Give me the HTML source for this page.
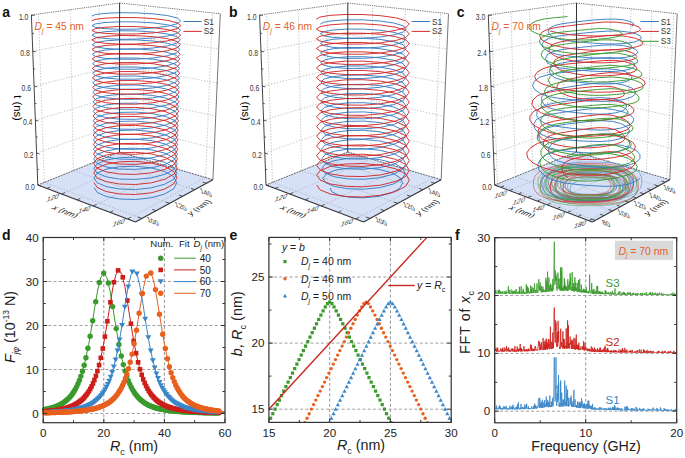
<!DOCTYPE html>
<html><head><meta charset="utf-8"><style>html,body{margin:0;padding:0;background:#fff;width:685px;height:458px;overflow:hidden}svg{display:block}text{font-family:"Liberation Sans",sans-serif}</style></head><body><svg width="685" height="458" viewBox="0 0 685 458" font-family='"Liberation Sans", sans-serif'>
<rect width="685" height="458" fill="#fff"/>
<polygon points="119.5,152.0 212.9,179.7 135.4,221.9 37.8,185.0" fill="#d6e1f7"/>
<path d="M142.7 158.9 L61.7 194.0" stroke="#999" stroke-width="0.65" stroke-dasharray="1.2,1.8" fill="none"/>
<path d="M173.0 167.9 L93.3 205.9" stroke="#999" stroke-width="0.65" stroke-dasharray="1.2,1.8" fill="none"/>
<path d="M205.6 177.5 L127.7 218.9" stroke="#999" stroke-width="0.65" stroke-dasharray="1.2,1.8" fill="none"/>
<path d="M44.3 182.4 L141.7 218.4" stroke="#999" stroke-width="0.65" stroke-dasharray="1.2,1.8" fill="none"/>
<path d="M73.4 170.6 L169.5 203.3" stroke="#999" stroke-width="0.65" stroke-dasharray="1.2,1.8" fill="none"/>
<path d="M100.1 159.8 L194.7 189.6" stroke="#999" stroke-width="0.65" stroke-dasharray="1.2,1.8" fill="none"/>
<path d="M44.3 182.4 L38.5 14.1" stroke="#999" stroke-width="0.65" stroke-dasharray="1.2,1.8" fill="none"/>
<path d="M73.4 170.6 L70.1 9.8" stroke="#999" stroke-width="0.65" stroke-dasharray="1.2,1.8" fill="none"/>
<path d="M100.1 159.8 L98.9 5.9" stroke="#999" stroke-width="0.65" stroke-dasharray="1.2,1.8" fill="none"/>
<path d="M142.7 158.9 L144.5 5.7" stroke="#999" stroke-width="0.65" stroke-dasharray="1.2,1.8" fill="none"/>
<path d="M173.0 167.9 L177.1 9.1" stroke="#999" stroke-width="0.65" stroke-dasharray="1.2,1.8" fill="none"/>
<path d="M205.6 177.5 L212.5 12.9" stroke="#999" stroke-width="0.65" stroke-dasharray="1.2,1.8" fill="none"/>
<path d="M36.6 153.0 L119.5 123.8 L214.3 148.4" stroke="#999" stroke-width="0.65" stroke-dasharray="1.2,1.8" fill="none"/>
<path d="M35.4 120.1 L119.5 94.8 L215.7 116.3" stroke="#999" stroke-width="0.65" stroke-dasharray="1.2,1.8" fill="none"/>
<path d="M34.1 86.2 L119.6 65.0 L217.2 83.1" stroke="#999" stroke-width="0.65" stroke-dasharray="1.2,1.8" fill="none"/>
<path d="M32.8 51.2 L119.6 34.5 L218.8 49.0" stroke="#999" stroke-width="0.65" stroke-dasharray="1.2,1.8" fill="none"/>
<path d="M31.4 15.0 L119.6 3.0" stroke="#666" stroke-width="0.85" fill="none" stroke-dasharray="1.3,0.9"/>
<path d="M119.6 3.0 L220.3 13.7" stroke="#666" stroke-width="0.85" fill="none" stroke-dasharray="1.3,0.9"/>
<path d="M31.4 15.0 L37.8 185.0" stroke="#444" stroke-width="1.0" fill="none"/>
<path d="M220.3 13.7 L212.9 179.7" stroke="#666" stroke-width="0.9" fill="none"/>
<path d="M119.5 152.0 L37.8 185.0" stroke="#555" stroke-width="0.9" fill="none" stroke-dasharray="2,0.8"/>
<path d="M119.5 152.0 L212.9 179.7" stroke="#555" stroke-width="0.9" fill="none" stroke-dasharray="2,0.8"/>
<path d="M37.8 185.0 L135.4 221.9" stroke="#333" stroke-width="1.1" fill="none"/>
<path d="M135.4 221.9 L212.9 179.7" stroke="#333" stroke-width="1.1" fill="none"/>
<path d="M37.8 185.0 L40.8 186.1 M37.2 169.1 L38.9 169.7 M36.6 153.0 L39.6 154.0 M36.0 136.7 L37.7 137.2 M35.4 120.1 L38.4 121.0 M34.7 103.3 L36.5 103.7 M34.1 86.2 L37.2 86.9 M33.4 68.8 L35.2 69.2 M32.8 51.2 L35.9 51.8 M32.1 33.2 L33.9 33.5 M31.4 15.0 L34.6 15.5 M46.9 188.4 L50.2 187.1 M61.7 194.0 L65.0 192.6 M77.2 199.8 L80.4 198.4 M93.3 205.9 L96.5 204.4 M110.1 212.3 L113.3 210.7 M127.7 218.9 L130.9 217.3 M206.3 183.2 L202.7 182.1 M194.7 189.6 L191.0 188.4 M182.4 196.2 L178.7 195.0 M169.5 203.3 L165.7 202.0 M156.0 210.6 L152.2 209.3 M141.7 218.4 L137.8 217.0" stroke="#333" stroke-width="0.8"/>
<text x="34.8" y="189.6" font-size="8.6" text-anchor="end" fill="#333" font-weight="normal" font-style="normal" textLength="9.5" lengthAdjust="spacingAndGlyphs">0.0</text>
<text x="33.6" y="157.6" font-size="8.6" text-anchor="end" fill="#333" font-weight="normal" font-style="normal" textLength="9.5" lengthAdjust="spacingAndGlyphs">0.2</text>
<text x="32.4" y="124.7" font-size="8.6" text-anchor="end" fill="#333" font-weight="normal" font-style="normal" textLength="9.5" lengthAdjust="spacingAndGlyphs">0.4</text>
<text x="31.1" y="90.8" font-size="8.6" text-anchor="end" fill="#333" font-weight="normal" font-style="normal" textLength="9.5" lengthAdjust="spacingAndGlyphs">0.6</text>
<text x="29.8" y="55.8" font-size="8.6" text-anchor="end" fill="#333" font-weight="normal" font-style="normal" textLength="9.5" lengthAdjust="spacingAndGlyphs">0.8</text>
<text x="28.4" y="19.6" font-size="8.6" text-anchor="end" fill="#333" font-weight="normal" font-style="normal" textLength="9.5" lengthAdjust="spacingAndGlyphs">1.0</text>
<text x="17.6" y="108.0" font-size="11.2" fill="#000" text-anchor="middle" transform="rotate(90 17.6 108.0)" dy="3.8">t (ns)</text>
<text x="0" y="0" font-size="7.6" fill="#333" text-anchor="middle" transform="translate(52.8 197.6) rotate(-17) skewX(-40) scale(1 0.8)" dy="2.7">120</text>
<text x="0" y="0" font-size="7.6" fill="#333" text-anchor="middle" transform="translate(84.4 209.5) rotate(-17) skewX(-40) scale(1 0.8)" dy="2.7">140</text>
<text x="0" y="0" font-size="7.6" fill="#333" text-anchor="middle" transform="translate(118.8 222.5) rotate(-17) skewX(-40) scale(1 0.8)" dy="2.7">160</text>
<text x="0" y="0" font-size="7.6" fill="#333" text-anchor="middle" transform="translate(152.7 221.3) rotate(22) skewX(40) scale(1 0.8)" dy="2.7">100</text>
<text x="0" y="0" font-size="7.6" fill="#333" text-anchor="middle" transform="translate(180.5 206.2) rotate(22) skewX(40) scale(1 0.8)" dy="2.7">120</text>
<text x="0" y="0" font-size="7.6" fill="#333" text-anchor="middle" transform="translate(205.7 192.5) rotate(22) skewX(40) scale(1 0.8)" dy="2.7">140</text>
<text x="0" y="0" font-size="9" fill="#222" text-anchor="middle" transform="translate(65.3 211.7) rotate(22) skewX(-30) scale(1 0.8)" dy="3"><tspan font-style="italic">x</tspan> (nm)</text>
<text x="0" y="0" font-size="9" fill="#222" text-anchor="middle" transform="translate(199.0 207.5) rotate(-33) skewX(30) scale(1 0.8)" dy="3"><tspan font-style="italic">y</tspan> (nm)</text>
<path d="M94.1 187.5 L97.2 192.4 L106.2 196.5 L119.6 199.0 L135.4 199.5 L151.2 197.8 L164.7 194.0 L173.7 188.8 L176.8 182.7 L173.7 176.7 L164.7 171.5 L151.3 167.9 L135.4 166.2 L119.6 166.7 L106.1 169.2 L97.1 173.2 L94.0 178.0 L97.1 182.7 L106.1 186.6 L119.6 189.0 L135.5 189.5 L151.4 187.8 L164.8 184.2 L173.9 179.1 L177.0 173.2 L173.9 167.4 L164.9 162.3 L151.4 158.8 L135.5 157.2 L119.6 157.7 L106.1 160.1 L97.0 163.9 L93.9 168.5 L97.0 173.0 L106.0 176.8 L119.6 179.1 L135.5 179.4 L151.5 177.8 L165.0 174.3 L174.1 169.4 L177.3 163.7 L174.1 158.0 L165.1 153.2 L151.5 149.8 L135.5 148.2 L119.6 148.6 L106.0 150.9 L96.9 154.5 L93.7 158.9 L96.9 163.3 L106.0 166.9 L119.5 169.1 L135.6 169.4 L151.6 167.8 L165.2 164.4 L174.3 159.7 L177.5 154.2 L174.3 148.7 L165.3 144.0 L151.7 140.7 L135.6 139.2 L119.5 139.6 L105.9 141.7 L96.8 145.2 L93.6 149.4 L96.8 153.6 L105.9 157.0 L119.5 159.1 L135.6 159.4 L151.7 157.8 L165.4 154.5 L174.5 149.9 L177.7 144.7 L174.5 139.4 L165.4 134.8 L151.8 131.6 L135.7 130.1 L119.5 130.5 L105.8 132.5 L96.7 135.9 L93.5 139.9 L96.7 143.9 L105.8 147.1 L119.5 149.1 L135.7 149.4 L151.8 147.9 L165.6 144.7 L174.7 140.2 L178.0 135.1 L174.8 130.0 L165.6 125.7 L151.9 122.6 L135.7 121.1 L119.5 121.4 L105.8 123.4 L96.6 126.5 L93.3 130.4 L96.6 134.2 L105.7 137.3 L119.5 139.1 L135.7 139.4 L152.0 137.9 L165.7 134.8 L175.0 130.5 L178.2 125.6 L175.0 120.7 L165.8 116.5 L152.0 113.5 L135.8 112.1 L119.5 112.4 L105.7 114.2 L96.5 117.2 L93.2 120.8 L96.5 124.4 L105.7 127.4 L119.5 129.1 L135.8 129.3 L152.1 127.9 L165.9 124.9 L175.2 120.8 L178.4 116.1 L175.2 111.4 L166.0 107.3 L152.1 104.5 L135.8 103.1 L119.5 103.3 L105.6 105.0 L96.4 107.9 L93.1 111.3 L96.3 114.7 L105.6 117.5 L119.5 119.2 L135.8 119.3 L152.2 117.9 L166.1 115.0 L175.4 111.1 L178.7 106.6 L175.4 102.1 L166.1 98.2 L152.3 95.4 L135.9 94.1 L119.5 94.3 L105.5 95.9 L96.2 98.6 L93.0 101.8 L96.2 105.0 L105.5 107.6 L119.5 109.2 L135.9 109.3 L152.3 107.9 L166.3 105.2 L175.6 101.4 L178.9 97.0 L175.6 92.7 L166.3 89.0 L152.4 86.3 L135.9 85.0 L119.4 85.2 L105.5 86.7 L96.1 89.2 L92.8 92.3 L96.1 95.3 L105.5 97.8 L119.4 99.2 L135.9 99.3 L152.5 97.9 L166.5 95.3 L175.8 91.7 L179.1 87.5 L175.8 83.4 L166.5 79.8 L152.5 77.3 L136.0 76.0 L119.4 76.1 L105.4 77.5 L96.0 79.9 L92.7 82.8 L96.0 85.6 L105.4 87.9 L119.4 89.2 L136.0 89.2 L152.6 88.0 L166.6 85.4 L176.0 82.0 L179.4 78.0 L176.1 74.1 L166.7 70.7 L152.6 68.2 L136.0 67.0 L119.4 67.1 L105.3 68.4 L95.9 70.6 L92.6 73.2 L95.9 75.9 L105.3 78.0 L119.4 79.2 L136.0 79.2 L152.7 78.0 L166.8 75.5 L176.3 72.2 L179.6 68.5 L176.3 64.7 L166.9 61.5 L152.7 59.2 L136.1 58.0 L119.4 58.0 L105.3 59.2 L95.8 61.2 L92.5 63.7 L95.8 66.2 L105.2 68.1 L119.4 69.2 L136.1 69.2 L152.8 68.0 L167.0 65.7 L176.5 62.5 L179.8 59.0 L176.5 55.4 L167.0 52.3 L152.9 50.1 L136.1 48.9 L119.4 49.0 L105.2 50.0 L95.7 51.9 L92.3 54.2 L95.7 56.5 L105.2 58.3 L119.4 59.2 L136.2 59.2 L152.9 58.0 L167.2 55.8 L176.7 52.8 L180.0 49.4 L176.7 46.1 L167.2 43.2 L153.0 41.0 L136.2 39.9 L119.4 39.9 L105.1 40.9 L95.6 42.6 L92.2 44.7 L95.6 46.7 L105.1 48.4 L119.4 49.3 L136.2 49.2 L153.1 48.0 L167.3 45.9 L176.9 43.1 L180.3 39.9 L176.9 36.7 L167.4 34.0 L153.1 32.0 L136.2 30.9 L119.4 30.8 L105.0 31.7 L95.5 33.2 L92.1 35.1 L95.5 37.0 L105.0 38.5 L119.3 39.3 L136.3 39.1 L153.2 38.0 L167.5 36.0 L177.1 33.4 L180.5 30.4 L177.2 27.4 L167.6 24.8 L153.2 22.9 L136.3 21.9 L119.3 21.8 L105.0 22.5 L95.4 23.9 L92.0 25.6 L95.3 27.3 L104.9 28.6 L119.3 29.3 L136.3 29.1 L153.3 28.0 L167.7 26.2 L177.3 23.7 L180.7 20.9 L177.4 18.1 L167.7 15.6 L153.3 13.9 L136.3 12.9 L119.3 12.7 L104.9 13.4 L95.2 14.6 L91.8 16.1" stroke="#3a7cc2" stroke-width="0.95" fill="none" stroke-linejoin="round"/>
<path d="M93.9 182.5 L97.1 187.4 L106.0 191.5 L119.5 194.0 L135.4 194.5 L151.3 192.8 L164.8 189.0 L173.8 183.8 L177.0 177.7 L173.9 171.7 L164.9 166.5 L151.4 162.9 L135.4 161.3 L119.5 161.8 L106.0 164.3 L96.9 168.2 L93.8 173.0 L96.9 177.7 L106.0 181.6 L119.5 184.0 L135.5 184.5 L151.4 182.8 L165.0 179.2 L174.1 174.1 L177.3 168.2 L174.1 162.4 L165.1 157.4 L151.5 153.9 L135.5 152.3 L119.5 152.8 L105.9 155.1 L96.8 158.9 L93.6 163.5 L96.8 168.0 L105.9 171.8 L119.5 174.0 L135.5 174.4 L151.6 172.8 L165.2 169.3 L174.3 164.4 L177.5 158.7 L174.3 153.1 L165.2 148.3 L151.6 144.9 L135.6 143.3 L119.5 143.7 L105.8 146.0 L96.7 149.6 L93.5 154.0 L96.7 158.3 L105.8 161.9 L119.5 164.0 L135.6 164.4 L151.7 162.8 L165.4 159.4 L174.5 154.7 L177.8 149.2 L174.6 143.8 L165.4 139.1 L151.8 135.9 L135.6 134.3 L119.5 134.7 L105.8 136.9 L96.6 140.3 L93.4 144.5 L96.6 148.6 L105.7 152.0 L119.5 154.0 L135.6 154.3 L151.8 152.8 L165.6 149.5 L174.8 145.0 L178.0 139.7 L174.8 134.5 L165.6 130.0 L151.9 126.8 L135.7 125.4 L119.4 125.7 L105.7 127.7 L96.5 131.0 L93.2 135.0 L96.5 138.9 L105.7 142.1 L119.4 144.0 L135.7 144.3 L152.0 142.8 L165.8 139.6 L175.0 135.3 L178.2 130.2 L175.0 125.2 L165.8 120.9 L152.0 117.8 L135.7 116.4 L119.4 116.7 L105.6 118.6 L96.4 121.7 L93.1 125.5 L96.3 129.2 L105.6 132.2 L119.4 134.1 L135.7 134.3 L152.1 132.8 L165.9 129.8 L175.2 125.6 L178.5 120.7 L175.2 115.9 L166.0 111.8 L152.1 108.8 L135.8 107.4 L119.4 107.7 L105.5 109.5 L96.2 112.4 L93.0 116.0 L96.2 119.5 L105.5 122.4 L119.4 124.1 L135.8 124.2 L152.2 122.8 L166.1 119.9 L175.5 115.8 L178.7 111.2 L175.5 106.6 L166.2 102.6 L152.3 99.8 L135.8 98.4 L119.4 98.7 L105.4 100.3 L96.1 103.1 L92.8 106.5 L96.1 109.8 L105.4 112.5 L119.4 114.1 L135.9 114.2 L152.3 112.8 L166.3 110.0 L175.7 106.1 L179.0 101.7 L175.7 97.3 L166.4 93.5 L152.4 90.8 L135.9 89.5 L119.4 89.6 L105.4 91.2 L96.0 93.8 L92.7 96.9 L96.0 100.1 L105.4 102.6 L119.4 104.1 L135.9 104.2 L152.5 102.8 L166.5 100.1 L175.9 96.4 L179.2 92.2 L175.9 88.0 L166.6 84.4 L152.5 81.8 L135.9 80.5 L119.4 80.6 L105.3 82.1 L95.9 84.5 L92.6 87.4 L95.9 90.4 L105.3 92.7 L119.4 94.1 L136.0 94.1 L152.6 92.8 L166.7 90.2 L176.1 86.7 L179.5 82.7 L176.2 78.7 L166.8 75.2 L152.6 72.7 L136.0 71.5 L119.3 71.6 L105.2 72.9 L95.8 75.2 L92.4 77.9 L95.8 80.6 L105.2 82.8 L119.3 84.1 L136.0 84.1 L152.7 82.8 L166.9 80.4 L176.4 77.0 L179.7 73.2 L176.4 69.4 L166.9 66.1 L152.8 63.7 L136.1 62.5 L119.3 62.6 L105.1 63.8 L95.7 65.9 L92.3 68.4 L95.6 70.9 L105.1 73.0 L119.3 74.1 L136.1 74.1 L152.9 72.8 L167.1 70.5 L176.6 67.3 L180.0 63.7 L176.6 60.1 L167.1 57.0 L152.9 54.7 L136.1 53.6 L119.3 53.6 L105.1 54.7 L95.5 56.6 L92.2 58.9 L95.5 61.2 L105.0 63.1 L119.3 64.1 L136.1 64.0 L153.0 62.8 L167.3 60.6 L176.8 57.6 L180.2 54.2 L176.9 50.8 L167.3 47.8 L153.0 45.7 L136.2 44.6 L119.3 44.6 L105.0 45.5 L95.4 47.3 L92.0 49.4 L95.4 51.5 L105.0 53.2 L119.3 54.1 L136.2 54.0 L153.1 52.8 L167.5 50.7 L177.1 47.9 L180.4 44.7 L177.1 41.5 L167.5 38.7 L153.2 36.7 L136.2 35.6 L119.3 35.5 L104.9 36.4 L95.3 38.0 L91.9 39.9 L95.3 41.8 L104.9 43.3 L119.3 44.1 L136.3 44.0 L153.2 42.8 L167.7 40.8 L177.3 38.2 L180.7 35.2 L177.3 32.2 L167.7 29.6 L153.3 27.7 L136.3 26.6 L119.3 26.5 L104.8 27.3 L95.2 28.7 L91.8 30.4 L95.2 32.1 L104.8 33.4 L119.3 34.1 L136.3 33.9 L153.4 32.9 L167.8 31.0 L177.5 28.5 L180.9 25.7 L177.5 22.9 L167.9 20.4 L153.4 18.6 L136.3 17.6 L119.2 17.5 L104.8 18.2 L95.1 19.4 L91.6 20.9" stroke="#d22a2a" stroke-width="0.95" fill="none" stroke-linejoin="round"/>
<path d="M119.6 3.0 L119.5 152.0" stroke="#333" stroke-width="1.0" fill="none"/>
<path d="M183.5 21.5 L201.9 21.5" stroke="#3a7cc2" stroke-width="1"/>
<text x="203.8" y="24.5" font-size="8.3" text-anchor="start" fill="#333" font-weight="normal" font-style="normal" >S1</text>
<path d="M183.5 31.4 L201.9 31.4" stroke="#d22a2a" stroke-width="1"/>
<text x="203.8" y="34.4" font-size="8.3" text-anchor="start" fill="#333" font-weight="normal" font-style="normal" >S2</text>
<text x="34.6" y="29.9" font-size="10.3" fill="#e4602a"><tspan font-style="italic">D</tspan><tspan font-size="7" font-style="italic" dy="3">j</tspan><tspan dy="-3"> = 45 nm</tspan></text>
<text x="2.3" y="17.4" font-size="14" text-anchor="start" fill="#111" font-weight="bold" font-style="normal" >a</text>
<polygon points="347.7,152.0 441.1,179.7 363.6,221.9 266.0,185.0" fill="#d6e1f7"/>
<path d="M370.9 158.9 L289.9 194.0" stroke="#999" stroke-width="0.65" stroke-dasharray="1.2,1.8" fill="none"/>
<path d="M401.2 167.9 L321.5 205.9" stroke="#999" stroke-width="0.65" stroke-dasharray="1.2,1.8" fill="none"/>
<path d="M433.8 177.5 L355.9 218.9" stroke="#999" stroke-width="0.65" stroke-dasharray="1.2,1.8" fill="none"/>
<path d="M272.5 182.4 L369.9 218.4" stroke="#999" stroke-width="0.65" stroke-dasharray="1.2,1.8" fill="none"/>
<path d="M301.6 170.6 L397.7 203.3" stroke="#999" stroke-width="0.65" stroke-dasharray="1.2,1.8" fill="none"/>
<path d="M328.3 159.8 L422.9 189.6" stroke="#999" stroke-width="0.65" stroke-dasharray="1.2,1.8" fill="none"/>
<path d="M272.5 182.4 L266.7 14.1" stroke="#999" stroke-width="0.65" stroke-dasharray="1.2,1.8" fill="none"/>
<path d="M301.6 170.6 L298.3 9.8" stroke="#999" stroke-width="0.65" stroke-dasharray="1.2,1.8" fill="none"/>
<path d="M328.3 159.8 L327.1 5.9" stroke="#999" stroke-width="0.65" stroke-dasharray="1.2,1.8" fill="none"/>
<path d="M370.9 158.9 L372.7 5.7" stroke="#999" stroke-width="0.65" stroke-dasharray="1.2,1.8" fill="none"/>
<path d="M401.2 167.9 L405.3 9.1" stroke="#999" stroke-width="0.65" stroke-dasharray="1.2,1.8" fill="none"/>
<path d="M433.8 177.5 L440.7 12.9" stroke="#999" stroke-width="0.65" stroke-dasharray="1.2,1.8" fill="none"/>
<path d="M264.8 153.0 L347.7 123.8 L442.5 148.4" stroke="#999" stroke-width="0.65" stroke-dasharray="1.2,1.8" fill="none"/>
<path d="M263.6 120.1 L347.7 94.8 L443.9 116.3" stroke="#999" stroke-width="0.65" stroke-dasharray="1.2,1.8" fill="none"/>
<path d="M262.3 86.2 L347.8 65.0 L445.4 83.1" stroke="#999" stroke-width="0.65" stroke-dasharray="1.2,1.8" fill="none"/>
<path d="M261.0 51.2 L347.8 34.5 L447.0 49.0" stroke="#999" stroke-width="0.65" stroke-dasharray="1.2,1.8" fill="none"/>
<path d="M259.6 15.0 L347.8 3.0" stroke="#666" stroke-width="0.85" fill="none" stroke-dasharray="1.3,0.9"/>
<path d="M347.8 3.0 L448.5 13.7" stroke="#666" stroke-width="0.85" fill="none" stroke-dasharray="1.3,0.9"/>
<path d="M259.6 15.0 L266.0 185.0" stroke="#444" stroke-width="1.0" fill="none"/>
<path d="M448.5 13.7 L441.1 179.7" stroke="#666" stroke-width="0.9" fill="none"/>
<path d="M347.7 152.0 L266.0 185.0" stroke="#555" stroke-width="0.9" fill="none" stroke-dasharray="2,0.8"/>
<path d="M347.7 152.0 L441.1 179.7" stroke="#555" stroke-width="0.9" fill="none" stroke-dasharray="2,0.8"/>
<path d="M266.0 185.0 L363.6 221.9" stroke="#333" stroke-width="1.1" fill="none"/>
<path d="M363.6 221.9 L441.1 179.7" stroke="#333" stroke-width="1.1" fill="none"/>
<path d="M266.0 185.0 L269.0 186.1 M265.4 169.1 L267.1 169.7 M264.8 153.0 L267.8 154.0 M264.2 136.7 L265.9 137.2 M263.6 120.1 L266.6 121.0 M262.9 103.3 L264.7 103.7 M262.3 86.2 L265.4 86.9 M261.6 68.8 L263.4 69.2 M261.0 51.2 L264.1 51.8 M260.3 33.2 L262.1 33.5 M259.6 15.0 L262.8 15.5 M275.1 188.4 L278.4 187.1 M289.9 194.0 L293.2 192.6 M305.4 199.8 L308.6 198.4 M321.5 205.9 L324.7 204.4 M338.3 212.3 L341.5 210.7 M355.9 218.9 L359.1 217.3 M434.5 183.2 L430.9 182.1 M422.9 189.6 L419.2 188.4 M410.6 196.2 L406.9 195.0 M397.7 203.3 L393.9 202.0 M384.2 210.6 L380.4 209.3 M369.9 218.4 L366.0 217.0" stroke="#333" stroke-width="0.8"/>
<text x="263.0" y="189.6" font-size="8.6" text-anchor="end" fill="#333" font-weight="normal" font-style="normal" textLength="9.5" lengthAdjust="spacingAndGlyphs">0.0</text>
<text x="261.8" y="157.6" font-size="8.6" text-anchor="end" fill="#333" font-weight="normal" font-style="normal" textLength="9.5" lengthAdjust="spacingAndGlyphs">0.2</text>
<text x="260.6" y="124.7" font-size="8.6" text-anchor="end" fill="#333" font-weight="normal" font-style="normal" textLength="9.5" lengthAdjust="spacingAndGlyphs">0.4</text>
<text x="259.3" y="90.8" font-size="8.6" text-anchor="end" fill="#333" font-weight="normal" font-style="normal" textLength="9.5" lengthAdjust="spacingAndGlyphs">0.6</text>
<text x="258.0" y="55.8" font-size="8.6" text-anchor="end" fill="#333" font-weight="normal" font-style="normal" textLength="9.5" lengthAdjust="spacingAndGlyphs">0.8</text>
<text x="256.6" y="19.6" font-size="8.6" text-anchor="end" fill="#333" font-weight="normal" font-style="normal" textLength="9.5" lengthAdjust="spacingAndGlyphs">1.0</text>
<text x="245.8" y="108.0" font-size="11.2" fill="#000" text-anchor="middle" transform="rotate(90 245.8 108.0)" dy="3.8">t (ns)</text>
<text x="0" y="0" font-size="7.6" fill="#333" text-anchor="middle" transform="translate(281.0 197.6) rotate(-17) skewX(-40) scale(1 0.8)" dy="2.7">120</text>
<text x="0" y="0" font-size="7.6" fill="#333" text-anchor="middle" transform="translate(312.6 209.5) rotate(-17) skewX(-40) scale(1 0.8)" dy="2.7">140</text>
<text x="0" y="0" font-size="7.6" fill="#333" text-anchor="middle" transform="translate(347.0 222.5) rotate(-17) skewX(-40) scale(1 0.8)" dy="2.7">160</text>
<text x="0" y="0" font-size="7.6" fill="#333" text-anchor="middle" transform="translate(380.9 221.3) rotate(22) skewX(40) scale(1 0.8)" dy="2.7">100</text>
<text x="0" y="0" font-size="7.6" fill="#333" text-anchor="middle" transform="translate(408.7 206.2) rotate(22) skewX(40) scale(1 0.8)" dy="2.7">120</text>
<text x="0" y="0" font-size="7.6" fill="#333" text-anchor="middle" transform="translate(433.9 192.5) rotate(22) skewX(40) scale(1 0.8)" dy="2.7">140</text>
<text x="0" y="0" font-size="9" fill="#222" text-anchor="middle" transform="translate(293.5 211.7) rotate(22) skewX(-30) scale(1 0.8)" dy="3"><tspan font-style="italic">x</tspan> (nm)</text>
<text x="0" y="0" font-size="9" fill="#222" text-anchor="middle" transform="translate(427.2 207.5) rotate(-33) skewX(30) scale(1 0.8)" dy="3"><tspan font-style="italic">y</tspan> (nm)</text>
<path d="M330.2 188.0 L331.9 191.8 L338.7 195.1 L349.9 197.3 L363.8 197.8 L378.1 196.4 L390.7 193.2 L399.3 188.6 L402.7 183.2 L400.0 177.7 L391.8 172.8 L379.0 169.4 L363.8 167.7 L348.3 168.1 L335.1 170.3 L326.2 173.9 L322.9 178.4 L325.9 182.8 L334.7 186.5 L348.0 188.8 L363.8 189.2 L379.6 187.6 L393.1 184.1 L402.2 179.2 L405.4 173.5 L402.3 167.9 L393.3 163.0 L379.8 159.6 L363.8 158.0 L347.7 158.4 L334.1 160.7 L325.0 164.3 L321.8 168.7 L325.0 173.1 L334.1 176.7 L347.7 178.9 L363.7 179.3 L379.8 177.7 L393.5 174.2 L402.6 169.4 L405.8 163.9 L402.6 158.4 L393.5 153.6 L379.9 150.3 L363.7 148.7 L347.6 149.1 L333.9 151.3 L324.8 154.8 L321.6 159.1 L324.8 163.3 L333.9 166.8 L347.6 168.9 L363.7 169.2 L379.9 167.6 L393.6 164.3 L402.7 159.6 L405.9 154.3 L402.7 148.9 L393.6 144.3 L379.9 141.0 L363.7 139.5 L347.6 139.9 L333.9 142.0 L324.7 145.3 L321.5 149.4 L324.7 153.5 L333.8 156.8 L347.5 158.9 L363.7 159.1 L379.9 157.6 L393.6 154.4 L402.7 149.8 L406.0 144.6 L402.7 139.4 L393.6 135.0 L379.9 131.8 L363.7 130.3 L347.5 130.6 L333.8 132.6 L324.6 135.9 L321.4 139.8 L324.6 143.7 L333.8 146.9 L347.5 148.8 L363.7 149.1 L379.9 147.6 L393.6 144.4 L402.8 140.0 L406.0 135.0 L402.8 130.0 L393.6 125.6 L379.9 122.5 L363.7 121.1 L347.5 121.4 L333.7 123.3 L324.5 126.4 L321.3 130.2 L324.5 133.9 L333.7 136.9 L347.4 138.8 L363.7 139.0 L379.9 137.5 L393.6 134.4 L402.8 130.2 L406.0 125.3 L402.8 120.5 L393.6 116.3 L379.9 113.3 L363.6 111.9 L347.4 112.2 L333.7 114.0 L324.5 116.9 L321.2 120.5 L324.4 124.1 L333.6 127.0 L347.4 128.7 L363.6 128.9 L379.9 127.5 L393.6 124.5 L402.8 120.4 L406.1 115.7 L402.8 111.0 L393.6 107.0 L379.9 104.1 L363.6 102.7 L347.4 102.9 L333.6 104.6 L324.4 107.5 L321.1 110.9 L324.4 114.3 L333.6 117.0 L347.4 118.7 L363.6 118.8 L379.9 117.4 L393.6 114.5 L402.9 110.6 L406.1 106.1 L402.9 101.5 L393.7 97.6 L379.9 94.8 L363.6 93.5 L347.3 93.7 L333.5 95.3 L324.3 98.0 L321.1 101.2 L324.3 104.5 L333.5 107.1 L347.3 108.6 L363.6 108.7 L379.9 107.4 L393.7 104.6 L402.9 100.8 L406.1 96.4 L402.9 92.1 L393.7 88.3 L379.9 85.6 L363.6 84.3 L347.3 84.5 L333.5 86.0 L324.2 88.5 L321.0 91.6 L324.2 94.6 L333.4 97.1 L347.3 98.6 L363.6 98.7 L379.9 97.3 L393.7 94.6 L402.9 91.0 L406.2 86.8 L402.9 82.6 L393.7 79.0 L379.9 76.4 L363.5 75.1 L347.2 75.2 L333.4 76.6 L324.1 79.0 L320.9 81.9 L324.1 84.8 L333.4 87.2 L347.2 88.5 L363.5 88.6 L379.9 87.3 L393.7 84.7 L403.0 81.2 L406.2 77.1 L403.0 73.1 L393.7 69.6 L379.9 67.1 L363.5 65.9 L347.2 66.0 L333.3 67.3 L324.1 69.6 L320.8 72.3 L324.1 75.0 L333.3 77.2 L347.2 78.5 L363.5 78.5 L379.9 77.2 L393.7 74.7 L403.0 71.3 L406.2 67.5 L403.0 63.6 L393.7 60.3 L379.9 57.9 L363.5 56.7 L347.1 56.8 L333.3 58.0 L324.0 60.1 L320.7 62.7 L324.0 65.2 L333.2 67.3 L347.1 68.4 L363.5 68.4 L379.9 67.2 L393.7 64.8 L403.0 61.5 L406.3 57.8 L403.0 54.2 L393.7 51.0 L379.9 48.7 L363.5 47.5 L347.1 47.5 L333.2 48.7 L323.9 50.6 L320.6 53.0 L323.9 55.4 L333.2 57.3 L347.1 58.4 L363.5 58.3 L379.9 57.1 L393.8 54.8 L403.0 51.7 L406.3 48.2 L403.1 44.7 L393.8 41.7 L379.9 39.4 L363.5 38.3 L347.0 38.3 L333.1 39.3 L323.8 41.1 L320.6 43.4 L323.8 45.6 L333.1 47.4 L347.0 48.3 L363.4 48.2 L379.9 47.1 L393.8 44.9 L403.1 41.9 L406.3 38.6 L403.1 35.2 L393.8 32.3 L379.9 30.2 L363.4 29.1 L347.0 29.1 L333.1 30.0 L323.8 31.7 L320.5 33.7 L323.7 35.8 L333.1 37.4 L347.0 38.3 L363.4 38.2 L379.9 37.0 L393.8 34.9 L403.1 32.1 L406.4 28.9 L403.1 25.8 L393.8 23.0 L379.9 21.0 L363.4 19.9 L347.0 19.8 L333.0 20.7 L323.7 22.2 L320.4 24.1" stroke="#3a7cc2" stroke-width="0.95" fill="none" stroke-linejoin="round"/>
<path d="M316.7 185.0 L320.2 189.9 L330.3 194.0 L345.3 196.5 L363.0 197.0 L380.7 195.2 L395.7 191.5 L405.8 186.2 L409.3 180.1 L405.8 174.1 L395.7 168.8 L380.7 165.2 L363.0 163.5 L345.3 164.0 L330.2 166.5 L320.2 170.5 L316.7 175.2 L320.2 180.0 L330.2 183.9 L345.3 186.3 L363.0 186.8 L380.7 185.1 L395.7 181.4 L405.8 176.3 L409.3 170.4 L405.8 164.5 L395.7 159.4 L380.7 155.8 L363.0 154.2 L345.3 154.7 L330.2 157.0 L320.2 160.9 L316.7 165.5 L320.2 170.1 L330.2 173.9 L345.2 176.2 L363.0 176.6 L380.7 174.9 L395.7 171.3 L405.8 166.4 L409.3 160.6 L405.8 154.9 L395.7 150.0 L380.7 146.5 L363.0 144.9 L345.2 145.3 L330.2 147.6 L320.2 151.3 L316.6 155.7 L320.2 160.2 L330.2 163.8 L345.2 166.0 L363.0 166.4 L380.7 164.7 L395.7 161.3 L405.8 156.4 L409.3 150.9 L405.8 145.3 L395.7 140.5 L380.7 137.1 L363.0 135.6 L345.2 136.0 L330.2 138.2 L320.1 141.7 L316.6 146.0 L320.1 150.2 L330.2 153.7 L345.2 155.8 L363.0 156.2 L380.7 154.6 L395.7 151.2 L405.8 146.5 L409.3 141.1 L405.8 135.7 L395.7 131.1 L380.7 127.8 L362.9 126.3 L345.2 126.6 L330.2 128.7 L320.1 132.1 L316.6 136.2 L320.1 140.3 L330.2 143.7 L345.2 145.7 L362.9 146.0 L380.7 144.4 L395.7 141.2 L405.8 136.6 L409.3 131.4 L405.8 126.1 L395.7 121.6 L380.7 118.5 L362.9 117.0 L345.2 117.3 L330.1 119.3 L320.1 122.5 L316.6 126.5 L320.1 130.4 L330.1 133.6 L345.2 135.5 L362.9 135.8 L380.7 134.3 L395.7 131.1 L405.8 126.7 L409.3 121.6 L405.8 116.6 L395.7 112.2 L380.7 109.1 L362.9 107.6 L345.2 107.9 L330.1 109.8 L320.1 113.0 L316.5 116.7 L320.1 120.5 L330.1 123.5 L345.2 125.4 L362.9 125.6 L380.7 124.1 L395.7 121.0 L405.8 116.8 L409.3 111.9 L405.8 107.0 L395.7 102.8 L380.7 99.8 L362.9 98.3 L345.2 98.6 L330.1 100.4 L320.0 103.4 L316.5 107.0 L320.0 110.6 L330.1 113.5 L345.1 115.2 L362.9 115.4 L380.7 113.9 L395.7 111.0 L405.8 106.8 L409.3 102.1 L405.8 97.4 L395.7 93.3 L380.7 90.4 L362.9 89.0 L345.1 89.2 L330.1 91.0 L320.0 93.8 L316.5 97.2 L320.0 100.6 L330.1 103.4 L345.1 105.0 L362.9 105.2 L380.7 103.8 L395.7 100.9 L405.8 96.9 L409.3 92.3 L405.8 87.8 L395.7 83.9 L380.6 81.1 L362.9 79.7 L345.1 79.9 L330.1 81.5 L320.0 84.2 L316.5 87.5 L320.0 90.7 L330.1 93.3 L345.1 94.9 L362.9 95.0 L380.6 93.6 L395.7 90.8 L405.8 87.0 L409.3 82.6 L405.8 78.2 L395.7 74.4 L380.6 71.7 L362.9 70.4 L345.1 70.6 L330.0 72.1 L320.0 74.6 L316.4 77.7 L320.0 80.8 L330.0 83.3 L345.1 84.7 L362.9 84.8 L380.6 83.5 L395.7 80.8 L405.8 77.1 L409.3 72.8 L405.8 68.6 L395.7 65.0 L380.6 62.4 L362.9 61.1 L345.1 61.2 L330.0 62.6 L320.0 65.0 L316.4 68.0 L320.0 70.9 L330.0 73.2 L345.1 74.6 L362.9 74.6 L380.6 73.3 L395.7 70.7 L405.8 67.1 L409.3 63.1 L405.8 59.1 L395.7 55.6 L380.6 53.0 L362.8 51.8 L345.1 51.9 L330.0 53.2 L319.9 55.5 L316.4 58.2 L319.9 60.9 L330.0 63.2 L345.1 64.4 L362.8 64.4 L380.6 63.1 L395.7 60.6 L405.8 57.2 L409.3 53.3 L405.8 49.5 L395.7 46.1 L380.6 43.7 L362.8 42.5 L345.1 42.5 L330.0 43.8 L319.9 45.9 L316.4 48.5 L319.9 51.0 L330.0 53.1 L345.1 54.2 L362.8 54.2 L380.6 53.0 L395.7 50.6 L405.8 47.3 L409.3 43.6 L405.8 39.9 L395.7 36.7 L380.6 34.3 L362.8 33.2 L345.0 33.2 L330.0 34.3 L319.9 36.3 L316.3 38.7 L319.9 41.1 L330.0 43.0 L345.0 44.1 L362.8 44.0 L380.6 42.8 L395.7 40.5 L405.8 37.4 L409.3 33.8 L405.8 30.3 L395.7 27.2 L380.6 25.0 L362.8 23.8 L345.0 23.8 L329.9 24.9 L319.9 26.7 L316.3 29.0 L319.9 31.2 L329.9 33.0 L345.0 33.9 L362.8 33.8 L380.6 32.7 L395.7 30.4 L405.8 27.5 L409.3 24.1 L405.8 20.7 L395.7 17.8 L380.6 15.7 L362.8 14.5 L345.0 14.5 L329.9 15.4 L319.8 17.1 L316.3 19.2" stroke="#d22a2a" stroke-width="0.95" fill="none" stroke-linejoin="round"/>
<path d="M347.8 3.0 L347.7 152.0" stroke="#333" stroke-width="1.0" fill="none"/>
<path d="M411.7 21.5 L430.1 21.5" stroke="#3a7cc2" stroke-width="1"/>
<text x="432.0" y="24.5" font-size="8.3" text-anchor="start" fill="#333" font-weight="normal" font-style="normal" >S1</text>
<path d="M411.7 31.4 L430.1 31.4" stroke="#d22a2a" stroke-width="1"/>
<text x="432.0" y="34.4" font-size="8.3" text-anchor="start" fill="#333" font-weight="normal" font-style="normal" >S2</text>
<text x="262.8" y="29.9" font-size="10.3" fill="#e4602a"><tspan font-style="italic">D</tspan><tspan font-size="7" font-style="italic" dy="3">j</tspan><tspan dy="-3"> = 46 nm</tspan></text>
<text x="229.0" y="17.4" font-size="14" text-anchor="start" fill="#111" font-weight="bold" font-style="normal" >b</text>
<polygon points="576.4,152.0 669.8,179.7 592.3,221.9 494.7,185.0" fill="#d6e1f7"/>
<path d="M590.8 156.3 L509.6 190.6" stroke="#999" stroke-width="0.65" stroke-dasharray="1.2,1.8" fill="none"/>
<path d="M608.5 161.5 L527.9 197.5" stroke="#999" stroke-width="0.65" stroke-dasharray="1.2,1.8" fill="none"/>
<path d="M627.0 167.0 L547.2 204.8" stroke="#999" stroke-width="0.65" stroke-dasharray="1.2,1.8" fill="none"/>
<path d="M646.4 172.7 L567.5 212.5" stroke="#999" stroke-width="0.65" stroke-dasharray="1.2,1.8" fill="none"/>
<path d="M666.6 178.8 L589.0 220.6" stroke="#999" stroke-width="0.65" stroke-dasharray="1.2,1.8" fill="none"/>
<path d="M497.5 183.8 L595.0 220.4" stroke="#999" stroke-width="0.65" stroke-dasharray="1.2,1.8" fill="none"/>
<path d="M515.5 176.6 L612.3 210.9" stroke="#999" stroke-width="0.65" stroke-dasharray="1.2,1.8" fill="none"/>
<path d="M532.6 169.7 L628.6 202.1" stroke="#999" stroke-width="0.65" stroke-dasharray="1.2,1.8" fill="none"/>
<path d="M548.7 163.2 L643.8 193.8" stroke="#999" stroke-width="0.65" stroke-dasharray="1.2,1.8" fill="none"/>
<path d="M564.0 157.0 L658.2 186.0" stroke="#999" stroke-width="0.65" stroke-dasharray="1.2,1.8" fill="none"/>
<path d="M497.5 183.8 L491.4 14.6" stroke="#999" stroke-width="0.65" stroke-dasharray="1.2,1.8" fill="none"/>
<path d="M515.5 176.6 L511.0 11.9" stroke="#999" stroke-width="0.65" stroke-dasharray="1.2,1.8" fill="none"/>
<path d="M532.6 169.7 L529.5 9.4" stroke="#999" stroke-width="0.65" stroke-dasharray="1.2,1.8" fill="none"/>
<path d="M548.7 163.2 L546.9 7.1" stroke="#999" stroke-width="0.65" stroke-dasharray="1.2,1.8" fill="none"/>
<path d="M564.0 157.0 L563.3 4.8" stroke="#999" stroke-width="0.65" stroke-dasharray="1.2,1.8" fill="none"/>
<path d="M590.8 156.3 L592.0 4.7" stroke="#999" stroke-width="0.65" stroke-dasharray="1.2,1.8" fill="none"/>
<path d="M608.5 161.5 L611.0 6.7" stroke="#999" stroke-width="0.65" stroke-dasharray="1.2,1.8" fill="none"/>
<path d="M627.0 167.0 L630.9 8.8" stroke="#999" stroke-width="0.65" stroke-dasharray="1.2,1.8" fill="none"/>
<path d="M646.4 172.7 L651.8 11.0" stroke="#999" stroke-width="0.65" stroke-dasharray="1.2,1.8" fill="none"/>
<path d="M666.6 178.8 L673.8 13.4" stroke="#999" stroke-width="0.65" stroke-dasharray="1.2,1.8" fill="none"/>
<path d="M493.5 153.0 L576.4 123.8 L671.2 148.4" stroke="#999" stroke-width="0.65" stroke-dasharray="1.2,1.8" fill="none"/>
<path d="M492.3 120.1 L576.4 94.8 L672.6 116.3" stroke="#999" stroke-width="0.65" stroke-dasharray="1.2,1.8" fill="none"/>
<path d="M491.0 86.2 L576.5 65.0 L674.1 83.1" stroke="#999" stroke-width="0.65" stroke-dasharray="1.2,1.8" fill="none"/>
<path d="M489.7 51.2 L576.5 34.5 L675.7 49.0" stroke="#999" stroke-width="0.65" stroke-dasharray="1.2,1.8" fill="none"/>
<path d="M488.3 15.0 L576.5 3.0" stroke="#666" stroke-width="0.85" fill="none" stroke-dasharray="1.3,0.9"/>
<path d="M576.5 3.0 L677.2 13.7" stroke="#666" stroke-width="0.85" fill="none" stroke-dasharray="1.3,0.9"/>
<path d="M488.3 15.0 L494.7 185.0" stroke="#444" stroke-width="1.0" fill="none"/>
<path d="M677.2 13.7 L669.8 179.7" stroke="#666" stroke-width="0.9" fill="none"/>
<path d="M576.4 152.0 L494.7 185.0" stroke="#555" stroke-width="0.9" fill="none" stroke-dasharray="2,0.8"/>
<path d="M576.4 152.0 L669.8 179.7" stroke="#555" stroke-width="0.9" fill="none" stroke-dasharray="2,0.8"/>
<path d="M494.7 185.0 L592.3 221.9" stroke="#333" stroke-width="1.1" fill="none"/>
<path d="M592.3 221.9 L669.8 179.7" stroke="#333" stroke-width="1.1" fill="none"/>
<path d="M494.7 185.0 L497.7 186.1 M494.1 169.1 L495.8 169.7 M493.5 153.0 L496.5 154.0 M492.9 136.7 L494.6 137.2 M492.3 120.1 L495.3 121.0 M491.6 103.3 L493.4 103.7 M491.0 86.2 L494.1 86.9 M490.3 68.8 L492.1 69.2 M489.7 51.2 L492.8 51.8 M489.0 33.2 L490.8 33.5 M488.3 15.0 L491.5 15.5 M500.7 187.3 L504.0 185.9 M509.6 190.6 L512.8 189.2 M518.6 194.0 L521.9 192.6 M527.9 197.5 L531.1 196.1 M537.4 201.1 L540.6 199.6 M547.2 204.8 L550.4 203.3 M557.2 208.6 L560.4 207.0 M567.5 212.5 L570.7 210.9 M578.1 216.5 L581.3 214.8 M589.0 220.6 L592.1 218.9 M665.1 182.2 L661.4 181.1 M658.2 186.0 L654.5 184.8 M651.1 189.8 L647.4 188.7 M643.8 193.8 L640.1 192.6 M636.3 197.9 L632.6 196.6 M628.6 202.1 L624.8 200.8 M620.6 206.5 L616.8 205.1 M612.3 210.9 L608.5 209.6 M603.8 215.6 L600.0 214.2 M595.0 220.4 L591.1 218.9" stroke="#333" stroke-width="0.8"/>
<text x="491.7" y="189.6" font-size="8.6" text-anchor="end" fill="#333" font-weight="normal" font-style="normal" textLength="9.5" lengthAdjust="spacingAndGlyphs">0.0</text>
<text x="490.5" y="157.6" font-size="8.6" text-anchor="end" fill="#333" font-weight="normal" font-style="normal" textLength="9.5" lengthAdjust="spacingAndGlyphs">0.6</text>
<text x="489.3" y="124.7" font-size="8.6" text-anchor="end" fill="#333" font-weight="normal" font-style="normal" textLength="9.5" lengthAdjust="spacingAndGlyphs">1.2</text>
<text x="488.0" y="90.8" font-size="8.6" text-anchor="end" fill="#333" font-weight="normal" font-style="normal" textLength="9.5" lengthAdjust="spacingAndGlyphs">1.8</text>
<text x="486.7" y="55.8" font-size="8.6" text-anchor="end" fill="#333" font-weight="normal" font-style="normal" textLength="9.5" lengthAdjust="spacingAndGlyphs">2.4</text>
<text x="485.3" y="19.6" font-size="8.6" text-anchor="end" fill="#333" font-weight="normal" font-style="normal" textLength="9.5" lengthAdjust="spacingAndGlyphs">3.0</text>
<text x="474.5" y="108.0" font-size="11.2" fill="#000" text-anchor="middle" transform="rotate(90 474.5 108.0)" dy="3.8">t (ns)</text>
<text x="0" y="0" font-size="7.6" fill="#333" text-anchor="middle" transform="translate(500.7 194.2) rotate(-17) skewX(-40) scale(1 0.8)" dy="2.7">100</text>
<text x="0" y="0" font-size="7.6" fill="#333" text-anchor="middle" transform="translate(519.0 201.1) rotate(-17) skewX(-40) scale(1 0.8)" dy="2.7">120</text>
<text x="0" y="0" font-size="7.6" fill="#333" text-anchor="middle" transform="translate(538.3 208.4) rotate(-17) skewX(-40) scale(1 0.8)" dy="2.7">140</text>
<text x="0" y="0" font-size="7.6" fill="#333" text-anchor="middle" transform="translate(558.6 216.1) rotate(-17) skewX(-40) scale(1 0.8)" dy="2.7">160</text>
<text x="0" y="0" font-size="7.6" fill="#333" text-anchor="middle" transform="translate(580.1 224.2) rotate(-17) skewX(-40) scale(1 0.8)" dy="2.7">180</text>
<text x="0" y="0" font-size="7.6" fill="#333" text-anchor="middle" transform="translate(606.0 223.3) rotate(22) skewX(40) scale(1 0.8)" dy="2.7">80</text>
<text x="0" y="0" font-size="7.6" fill="#333" text-anchor="middle" transform="translate(623.3 213.8) rotate(22) skewX(40) scale(1 0.8)" dy="2.7">100</text>
<text x="0" y="0" font-size="7.6" fill="#333" text-anchor="middle" transform="translate(639.6 205.0) rotate(22) skewX(40) scale(1 0.8)" dy="2.7">120</text>
<text x="0" y="0" font-size="7.6" fill="#333" text-anchor="middle" transform="translate(654.8 196.7) rotate(22) skewX(40) scale(1 0.8)" dy="2.7">140</text>
<text x="0" y="0" font-size="7.6" fill="#333" text-anchor="middle" transform="translate(669.2 188.9) rotate(22) skewX(40) scale(1 0.8)" dy="2.7">160</text>
<text x="0" y="0" font-size="9" fill="#222" text-anchor="middle" transform="translate(522.2 211.7) rotate(22) skewX(-30) scale(1 0.8)" dy="3"><tspan font-style="italic">x</tspan> (nm)</text>
<text x="0" y="0" font-size="9" fill="#222" text-anchor="middle" transform="translate(655.9 207.5) rotate(-33) skewX(30) scale(1 0.8)" dy="3"><tspan font-style="italic">y</tspan> (nm)</text>
<path d="M608.2 192.8 L607.1 194.4 L605.0 195.8 L602.2 196.8 L598.5 197.4 L593.8 197.7 L585.8 197.6 L580.6 197.2 L576.9 196.4 L574.0 195.3 L572.0 193.9 L570.7 192.2 L570.2 190.1 L570.5 187.1 L571.6 184.9 L573.4 183.2 L576.0 181.7 L579.3 180.5 L583.5 179.7 L588.7 179.1 L597.1 178.9 L602.7 179.0 L607.0 179.4 L610.4 180.1 L613.1 181.2 L615.0 182.6 L616.1 184.4 L616.3 187.3 L615.6 189.3 L614.0 190.9 L611.5 192.2 L608.1 193.2 L603.6 193.9 L597.7 194.3 L587.9 194.3 L581.4 193.9 L576.2 193.2 L571.7 192.0 L568.1 190.5 L565.4 188.5 L563.6 186.0 L562.8 182.3 L563.0 179.6 L564.3 177.4 L566.7 175.6 L570.2 174.1 L575.1 173.0 L581.7 172.4 L592.9 172.2 L599.9 172.6 L605.5 173.4 L610.0 174.8 L613.4 176.6 L615.8 178.9 L617.0 181.9 L617.0 186.4 L615.8 189.5 L613.3 192.0 L609.6 194.1 L604.6 195.8 L598.3 197.0 L589.9 197.7 L576.7 197.8 L568.6 197.5 L562.2 196.5 L557.2 195.1 L553.5 193.2 L551.1 190.7 L550.1 187.6 L550.4 183.1 L552.0 180.1 L555.0 177.7 L559.3 175.9 L564.9 174.5 L571.9 173.7 L580.9 173.4 L594.5 173.6 L602.8 174.4 L609.4 175.7 L614.6 177.5 L618.4 179.7 L621.1 182.4 L622.4 185.7 L622.5 190.3 L621.3 193.3 L618.9 195.7 L615.3 197.6 L610.5 199.0 L604.6 200.0 L596.6 200.4 L584.8 200.3 L577.8 199.6 L572.5 198.6 L568.4 197.0 L565.4 195.0 L563.6 192.6 L562.9 189.6 L563.4 185.4 L564.9 182.7 L567.5 180.5 L571.2 178.7 L576.0 177.3 L581.9 176.4 L589.8 175.9 L601.3 175.9 L608.1 176.3 L613.4 177.2 L617.5 178.6 L620.6 180.4 L622.5 182.6 L623.2 185.5 L622.8 189.5 L621.2 192.1 L618.4 194.2 L614.4 195.9 L609.1 197.2 L602.4 198.0 L593.3 198.3 L580.5 198.1 L572.5 197.4 L566.0 196.2 L560.6 194.4 L556.4 192.1 L553.5 189.3 L551.8 185.6 L551.4 180.8 L552.4 177.5 L554.8 174.8 L558.7 172.5 L564.0 170.7 L571.1 169.4 L581.0 168.7 L595.0 168.7 L603.4 169.2 L610.3 170.3 L615.7 172.1 L619.9 174.5 L622.7 177.5 L624.0 181.5 L623.8 186.7 L622.1 190.1 L618.8 193.0 L614.0 195.3 L607.7 197.0 L599.5 198.1 L588.0 198.6 L572.9 198.5 L564.0 197.7 L556.9 196.2 L551.5 194.1 L547.6 191.4 L545.3 188.1 L544.7 183.6 L545.7 178.3 L548.3 174.8 L552.5 172.0 L558.3 169.8 L565.7 168.3 L574.9 167.4 L587.6 167.1 L603.1 167.6 L612.4 168.7 L619.9 170.4 L625.7 172.8 L629.9 175.7 L632.5 179.2 L633.5 183.9 L632.9 189.1 L630.7 192.6 L627.1 195.5 L621.9 197.7 L615.3 199.4 L607.0 200.4 L595.0 200.8 L581.5 200.6 L573.2 199.8 L566.7 198.3 L561.7 196.4 L558.1 193.9 L555.9 190.8 L555.1 186.5 L555.8 182.0 L557.8 178.9 L561.2 176.4 L566.0 174.5 L572.1 173.1 L579.8 172.3 L592.0 172.0 L603.7 172.4 L611.4 173.3 L617.3 174.7 L621.9 176.7 L625.1 179.2 L626.9 182.4 L627.3 187.0 L626.3 191.2 L623.8 194.4 L619.9 196.9 L614.5 198.9 L607.6 200.4 L598.9 201.3 L584.7 201.6 L572.3 201.2 L563.4 200.2 L556.2 198.6 L550.5 196.3 L546.2 193.5 L543.4 189.9 L542.2 184.5 L542.6 179.7 L544.7 176.0 L548.5 172.9 L554.0 170.4 L561.2 168.5 L570.7 167.2 L586.7 166.6 L599.8 166.7 L609.4 167.5 L617.2 169.1 L623.5 171.3 L628.1 174.3 L631.1 178.0 L632.3 183.8 L631.8 188.7 L629.4 192.4 L625.3 195.4 L619.3 197.8 L611.4 199.5 L601.2 200.4 L583.7 200.7 L570.4 200.1 L560.8 198.8 L553.2 196.7 L547.5 193.9 L543.5 190.5 L541.4 186.2 L541.2 179.7 L542.8 174.5 L546.3 170.6 L551.7 167.4 L558.9 164.9 L567.9 163.2 L579.2 162.2 L597.8 162.1 L611.4 162.7 L621.4 164.1 L629.3 166.2 L635.2 169.0 L639.3 172.5 L641.5 176.9 L641.9 183.3 L640.4 188.2 L637.0 192.0 L631.9 195.1 L625.1 197.5 L616.4 199.2 L605.6 200.1 L587.7 200.4 L575.2 199.9 L565.8 198.7 L558.4 196.8 L552.8 194.3 L548.8 191.2 L546.5 187.3 L545.9 181.4 L547.0 177.1 L549.7 173.7 L554.1 171.1 L560.1 169.1 L567.8 167.7 L577.6 167.0 L594.3 167.0 L605.6 167.7 L613.9 169.1 L620.5 171.1 L625.5 173.8 L628.8 177.1 L630.6 181.2 L630.6 187.3 L629.0 191.8" stroke="#3a7cc2" stroke-width="0.5" fill="none" stroke-linejoin="round"/>
<path d="M570.5 196.3 L567.1 194.6 L564.8 192.4 L563.4 189.7 L563.1 186.0 L563.8 183.5 L565.6 181.4 L568.4 179.7 L572.2 178.4 L577.1 177.5 L583.8 177.0 L593.6 177.0 L599.3 177.3 L603.6 178.1 L606.9 179.3 L609.2 180.8 L610.6 182.7 L610.9 185.2 L610.3 188.4 L608.7 190.5 L606.2 192.1 L602.8 193.4 L598.6 194.2 L593.4 194.7 L586.5 194.7 L577.2 194.4 L571.7 193.8 L567.6 192.7 L564.4 191.3 L562.2 189.6 L560.9 187.6 L560.6 185.0 L561.2 181.8 L562.7 179.7 L565.1 178.0 L568.4 176.6 L572.6 175.6 L577.8 175.0 L584.7 174.7 L593.9 174.8 L599.6 175.3 L604.2 176.2 L608.0 177.4 L610.9 179.0 L612.9 180.9 L614.1 183.5 L614.3 186.8 L613.7 189.0 L612.0 190.8 L609.4 192.4 L605.8 193.6 L601.0 194.5 L593.9 194.9 L584.7 195.0 L579.1 194.7 L574.5 193.9 L570.8 192.8 L567.9 191.2 L566.1 189.1 L565.2 186.3 L565.3 182.8 L566.6 180.4 L568.9 178.4 L572.4 176.9 L577.1 175.7 L583.2 174.9 L592.3 174.6 L603.3 174.8 L610.1 175.6 L615.6 176.8 L619.9 178.5 L623.1 180.7 L625.1 183.5 L625.8 187.3 L625.2 191.6 L623.2 194.6 L619.9 197.1 L615.2 199.1 L609.1 200.6 L601.4 201.6 L589.9 202.0 L577.4 201.9 L569.3 201.1 L562.7 199.8 L557.5 197.9 L553.6 195.5 L551.1 192.5 L550.0 188.2 L550.3 183.9 L552.0 180.9 L555.2 178.4 L559.7 176.4 L565.6 174.9 L573.1 174.0 L585.4 173.7 L596.3 173.9 L603.7 174.7 L609.5 176.1 L613.9 177.9 L617.0 180.2 L618.8 183.1 L619.3 187.3 L618.4 191.0 L616.2 193.7 L612.9 195.8 L608.3 197.4 L602.4 198.4 L595.2 198.9 L583.3 198.9 L573.7 198.3 L567.1 197.3 L562.0 195.7 L558.3 193.6 L555.8 191.2 L554.6 188.2 L554.6 183.8 L555.9 180.2 L558.4 177.4 L562.1 175.1 L566.9 173.4 L572.9 172.0 L580.4 171.2 L592.6 170.9 L602.2 171.1 L609.2 171.8 L614.8 173.0 L619.2 174.7 L622.5 176.8 L624.6 179.5 L625.4 183.6 L625.0 187.0 L623.3 189.6 L620.4 191.8 L616.1 193.5 L610.6 194.8 L603.3 195.5 L590.7 195.8 L581.2 195.6 L574.1 194.8 L568.3 193.5 L563.6 191.7 L560.1 189.3 L557.9 186.3 L557.0 181.7 L557.4 178.0 L559.2 175.1 L562.4 172.7 L567.1 170.8 L573.3 169.5 L581.4 168.7 L595.7 168.5 L606.0 169.0 L613.7 170.0 L619.9 171.7 L624.6 174.0 L628.0 177.0 L629.8 180.7 L630.1 186.3 L628.8 190.6 L625.9 194.1 L621.3 197.0 L615.2 199.3 L607.3 201.0 L597.2 202.1 L580.5 202.4 L568.7 202.1 L559.7 201.1 L552.5 199.4 L546.9 197.0 L542.9 194.0 L540.7 190.2 L540.1 184.4 L541.3 180.2 L544.2 176.8 L548.8 174.1 L555.1 172.1 L563.1 170.7 L573.3 169.9 L590.3 169.9 L601.7 170.5 L610.3 171.8 L617.2 173.7 L622.4 176.3 L626.0 179.4 L628.0 183.3 L628.3 189.0 L627.0 193.1 L624.2 196.2 L619.8 198.7 L614.0 200.6 L606.6 201.8 L597.1 202.4 L581.5 202.3 L571.4 201.5 L564.0 200.1 L558.3 198.1 L554.1 195.5 L551.5 192.3 L550.4 188.5 L550.8 182.9 L552.7 178.9 L556.0 175.8 L560.8 173.2 L567.0 171.2 L574.7 169.7 L584.4 168.9 L600.0 168.7 L610.0 169.1 L617.7 170.1 L623.9 171.7 L628.5 173.9 L631.7 176.6 L633.4 180.1 L633.6 185.3 L632.3 188.9 L629.4 191.8 L625.0 194.1 L619.0 195.9 L611.4 197.1 L601.4 197.8 L585.3 197.7 L574.9 197.1 L566.6 195.8 L559.9 193.9 L554.5 191.4 L550.7 188.2 L548.4 184.2 L547.7 178.3 L548.6 174.2 L551.2 170.9 L555.5 168.1 L561.5 166.0 L569.4 164.5 L580.0 163.6 L597.3 163.5 L608.1 164.2 L616.5 165.6 L623.3 167.7 L628.4 170.5 L631.9 174.1 L633.6 178.6 L633.5 185.2 L631.5 189.8 L627.8 193.5 L622.1 196.6 L614.6 199.0 L605.1 200.7 L592.6 201.7 L573.1 201.8 L561.1 201.2 L551.7 199.7 L544.2 197.6 L538.6 194.6 L535.0 190.9 L533.3 186.2 L533.6 179.5 L535.8 175.0 L540.1 171.5 L546.2 168.6 L554.3 166.5 L564.5 165.2 L577.8 164.7 L597.7 164.9 L609.9 166.0 L619.4 167.8 L627.0 170.4 L632.6 173.7 L636.4 177.7 L638.2 182.6 L638.2 189.4 L636.2 193.9 L632.4 197.5 L626.8 200.3 L619.5 202.4 L610.2 203.8 L597.9 204.3 L579.6 204.1 L569.0 203.1 L560.8 201.4 L554.4 199.0" stroke="#d22a2a" stroke-width="0.5" fill="none" stroke-linejoin="round"/>
<path d="M579.5 178.8 L585.0 178.1 L594.2 177.8 L599.8 177.9 L604.3 178.4 L607.9 179.3 L610.6 180.7 L612.4 182.5 L613.2 184.9 L613.0 188.4 L611.8 190.7 L609.5 192.6 L606.1 194.1 L601.6 195.3 L595.9 196.0 L588.5 196.3 L577.3 196.1 L570.5 195.5 L565.2 194.4 L561.0 192.9 L557.9 191.0 L556.0 188.7 L555.2 185.7 L555.5 181.8 L557.0 179.2 L559.6 177.1 L563.2 175.5 L568.0 174.2 L573.9 173.5 L581.6 173.2 L592.7 173.3 L599.3 173.9 L604.5 174.9 L608.7 176.4 L611.7 178.2 L613.8 180.4 L614.8 183.2 L614.8 186.8 L613.8 189.2 L611.8 191.2 L608.9 192.7 L605.0 193.9 L600.1 194.6 L593.5 195.0 L584.1 194.9 L578.7 194.5 L574.6 193.7 L571.5 192.6 L569.2 191.0 L567.9 189.2 L567.5 186.7 L568.1 183.5 L569.5 181.5 L571.9 179.9 L575.1 178.6 L579.2 177.7 L584.4 177.1 L591.5 176.9 L601.1 177.1 L606.9 177.8 L611.4 178.8 L615.1 180.2 L617.8 181.9 L619.5 184.1 L620.2 187.0 L619.9 190.7 L618.6 193.1 L616.1 195.2 L612.5 196.9 L607.8 198.2 L601.8 199.2 L593.3 199.6 L582.1 199.6 L575.1 199.2 L569.2 198.2 L564.4 196.8 L560.6 194.9 L558.0 192.4 L556.4 189.0 L556.1 184.9 L557.0 182.1 L559.2 179.7 L562.8 177.7 L567.7 176.1 L574.2 175.1 L583.8 174.5 L595.9 174.5 L603.3 175.1 L609.3 176.2 L614.0 177.8 L617.6 180.0 L619.8 182.7 L620.7 186.6 L620.2 191.0 L618.3 193.9 L615.0 196.3 L610.4 198.2 L604.3 199.5 L596.6 200.3 L585.2 200.5 L572.3 200.1 L564.4 199.1 L558.2 197.4 L553.4 195.3 L550.1 192.6 L548.3 189.3 L547.9 184.8 L549.0 180.1 L551.5 176.8 L555.5 174.2 L560.9 172.1 L567.6 170.5 L576.0 169.6 L588.9 169.2 L600.9 169.5 L609.0 170.3 L615.4 171.6 L620.4 173.5 L624.0 175.9 L626.2 178.9 L627.0 183.2 L626.4 187.1 L624.5 189.9 L621.3 192.2 L616.8 193.9 L611.0 195.2 L603.8 195.9 L591.9 196.1 L581.8 195.7 L574.9 194.8 L569.5 193.5 L565.4 191.7 L562.4 189.4 L560.7 186.6 L560.2 182.5 L561.0 178.9 L563.0 176.3 L566.1 174.2 L570.4 172.6 L576.0 171.4 L583.1 170.8 L595.0 170.7 L604.5 171.1 L611.2 172.0 L616.5 173.5 L620.6 175.5 L623.5 177.9 L625.1 181.0 L625.4 185.6 L624.4 189.4 L622.0 192.4 L618.3 195.0 L613.3 197.0 L606.8 198.6 L598.5 199.6 L584.5 200.1 L573.7 199.9 L565.6 199.2 L558.9 197.9 L553.5 196.0 L549.5 193.5 L546.9 190.4 L545.8 185.4 L546.2 181.3 L548.1 178.2 L551.7 175.6 L556.8 173.5 L563.7 171.9 L572.7 171.0 L588.3 170.7 L599.8 171.1 L608.4 172.1 L615.5 173.8 L621.0 176.1 L625.1 179.1 L627.5 182.8 L628.4 188.6 L627.5 193.0 L625.0 196.4 L620.9 199.3 L615.0 201.4 L607.4 202.9 L597.6 203.8 L580.9 203.9 L569.2 203.2 L560.6 201.9 L553.8 199.8 L548.7 197.1 L545.4 193.7 L543.7 189.6 L543.8 183.4 L545.6 178.8 L549.2 175.1 L554.4 172.1 L561.2 169.8 L569.8 168.1 L580.4 167.2 L597.9 166.9 L609.7 167.4 L618.6 168.5 L625.6 170.3 L630.9 172.7 L634.5 175.7 L636.4 179.5 L636.6 185.1 L635.2 189.1 L632.1 192.2 L627.5 194.7 L621.3 196.5 L613.5 197.7 L603.6 198.2 L587.4 198.1 L576.7 197.4 L568.6 196.0 L562.2 194.1 L557.3 191.6 L553.9 188.5 L552.0 184.7 L551.7 179.2 L552.8 175.2 L555.4 172.1 L559.5 169.6 L565.0 167.7 L572.1 166.3 L581.3 165.6 L596.7 165.6 L606.6 166.2 L614.0 167.4 L619.9 169.2 L624.4 171.7 L627.3 174.8 L628.8 178.6 L628.7 184.3 L627.0 188.4 L623.8 191.7 L619.0 194.5 L612.6 196.7 L604.5 198.3 L593.9 199.2 L576.8 199.5 L565.6 199.1 L556.9 198.0 L549.8 196.2 L544.3 193.8 L540.5 190.7 L538.3 186.6 L537.9 180.6 L539.3 176.4 L542.5 172.9 L547.6 170.2 L554.5 168.0 L563.4 166.6 L575.3 165.8 L594.3 165.8 L606.5 166.6 L616.1 168.1 L624.0 170.4 L630.1 173.5 L634.4 177.3 L636.8 182.1 L637.4 189.0 L636.0 193.8 L632.6 197.6 L627.4 200.8 L620.1 203.2 L610.8 204.8 L598.4 205.7 L578.7 205.7 L566.7 204.8 L557.4 203.2 L550.2 200.7 L544.8 197.5 L541.4 193.5 L540.0 188.5 L540.5 181.4 L543.0 176.7 L547.4 172.8 L553.8 169.7 L562.0 167.3 L572.2 165.7" stroke="#3a9a30" stroke-width="0.5" fill="none" stroke-linejoin="round"/>
<path d="M639.9 178.2 L635.5 181.6 L627.9 184.3 L617.5 186.0 L605.0 186.3 L591.2 185.7 L577.1 184.5 L563.9 182.9 L552.5 179.8 L544.0 175.2 L538.9 170.0 L537.7 164.6 L540.4 159.3 L546.8 154.3 L556.3 151.4 L568.2 149.3 L581.6 147.4 L595.4 145.6 L608.6 144.5 L620.4 145.1 L629.9 147.5 L636.5 150.7 L639.9 154.6 L640.0 158.3 L636.8 161.8 L630.7 164.6 L622.1 166.6 L611.6 167.5 L600.0 167.3 L588.1 166.3 L576.7 164.9 L566.5 163.3 L558.1 161.1 L552.2 157.8 L548.9 153.4 L548.6 148.7 L551.0 144.5 L556.0 141.4 L563.3 139.3 L572.2 137.8 L582.1 136.2 L592.5 134.7 L602.7 133.9 L611.9 134.1 L619.7 135.7 L625.6 138.2 L629.0 141.2 L629.8 144.3 L627.8 147.3 L623.1 149.9 L615.8 151.9 L606.3 153.0 L595.3 153.1 L583.4 152.6 L571.4 151.7 L560.2 150.4 L550.7 148.3 L543.6 145.1 L539.5 140.4 L538.7 135.6 L541.3 131.1 L547.2 127.9 L555.7 125.8 L566.4 124.2 L578.3 122.7 L590.5 121.3 L602.1 120.7 L612.4 121.4 L620.7 123.5 L626.4 126.6 L629.2 129.9 L629.1 133.2 L626.0 136.2 L620.2 138.7 L612.1 140.6 L602.1 141.5 L590.8 141.4 L578.8 140.8 L566.9 139.9 L555.8 138.7 L546.3 136.7 L539.1 133.3 L534.8 128.8 L533.8 124.2 L536.2 119.7 L542.1 116.4 L551.1 114.2 L562.6 112.4 L575.7 110.5 L589.5 108.9 L602.8 108.2 L614.7 109.8 L624.2 112.2 L630.7 115.2 L633.7 118.6 L633.0 122.2 L628.9 125.3 L621.6 127.9 L611.9 129.6 L600.4 130.1 L588.0 129.7 L575.5 128.7 L563.8 127.4 L553.5 125.8 L545.3 123.5 L539.6 120.2 L536.8 115.9 L537.0 111.4 L540.3 107.6 L546.3 104.9 L554.8 103.0 L565.2 101.4 L576.8 99.7 L588.8 98.3 L600.2 97.6 L610.4 98.3 L618.5 100.1 L624.0 102.8 L626.6 105.7 L625.9 108.4 L622.3 110.9 L615.9 112.8 L607.4 113.9 L597.4 114.2 L586.5 113.6 L575.6 112.6 L565.3 111.4 L556.3 109.9 L549.1 107.7 L544.1 104.6 L541.6 100.8 L541.8 96.8 L544.7 93.3 L550.2 90.8 L558.1 88.9 L567.9 87.1 L579.3 85.3 L591.4 83.7 L603.5 82.8 L614.8 83.3 L624.3 85.2 L631.4 87.8 L635.3 90.8 L635.6 93.9 L632.2 96.7 L625.2 99.2 L615.2 100.9 L602.7 101.4 L588.8 101.0 L574.6 100.0 L561.1 98.6 L549.4 96.8 L540.4 93.5 L534.7 89.7 L532.6 85.5 L534.2 81.4 L539.4 77.4 L547.6 74.8 L558.1 73.1 L570.3 71.7 L583.2 70.3 L596.0 69.1 L607.7 68.8 L617.7 69.7 L625.4 71.7 L630.3 74.2 L632.1 76.9 L630.9 79.3 L626.7 81.4 L620.1 83.0 L611.3 83.9 L601.2 84.0 L590.4 83.4 L579.7 82.4 L569.8 81.3 L561.4 79.8 L554.9 77.8 L550.8 74.9 L549.3 71.4 L550.5 68.0 L554.2 65.2 L560.3 63.3 L568.4 61.8 L577.9 60.5 L588.4 59.1 L599.2 58.0 L609.7 57.6 L619.0 58.1 L626.7 59.7 L632.1 61.8 L634.8 64.1 L634.5 66.4 L631.1 68.6 L624.8 70.3 L615.9 71.4 L605.0 71.6 L593.0 71.2 L580.8 70.3 L569.2 69.2 L559.3 67.7 L551.6 65.5 L546.9 62.2 L545.4 58.5 L547.2 54.8 L552.2 51.9 L559.7 50.0 L569.4 48.6 L580.5 47.4 L592.2 46.1 L603.8 45.1 L614.5 44.9 L623.8 45.7 L631.0 47.4 L635.8 49.5 L637.8 51.7 L636.8 53.8 L633.0 55.7 L626.3 57.3 L617.2 58.2 L606.2 58.4 L593.9 57.9 L581.2 57.2 L569.0 56.1 L558.1 54.7 L549.6 52.1 L544.0 48.7 L541.8 45.1 L543.4 41.6 L548.6 38.3 L557.1 36.2 L568.1 34.7 L580.8 33.4 L594.3 32.0 L607.4 31.1 L619.4 31.0 L629.2 32.2 L636.4 34.0 L640.5 36.2 L641.3 38.5 L638.8 40.5 L633.5 42.2 L625.6 43.4 L615.7 44.0 L604.4 43.8 L592.6 43.1 L580.9 42.2 L570.1 41.1 L560.9 39.6 L553.8 37.5 L549.4 34.5 L548.1 31.2 L549.8 28.0 L554.5 25.5 L561.9 23.8 L571.4 22.5 L582.4 21.2 L593.9 20.0 L605.2 19.2 L615.4 19.1 L623.8 19.9 L629.9 21.4 L633.2 23.1 L633.7 24.9 L631.3 26.5" stroke="#3a7cc2" stroke-width="0.95" fill="none" stroke-linejoin="round"/>
<path d="M568.2 177.7 L564.3 174.7 L562.2 171.2 L561.8 167.7 L563.1 164.4 L566.1 161.7 L570.5 159.7 L576.4 158.0 L583.6 156.2 L591.8 154.1 L600.8 152.3 L609.9 151.6 L618.6 152.4 L626.2 154.9 L631.8 158.2 L634.7 161.7 L634.4 164.9 L630.6 167.9 L623.2 170.8 L612.5 173.4 L599.3 175.2 L584.5 175.2 L569.3 173.7 L554.9 171.1 L542.5 167.5 L533.2 163.1 L527.8 158.2 L526.7 153.1 L530.0 148.1 L537.3 143.5 L548.0 140.1 L561.2 138.2 L575.8 136.3 L590.7 134.5 L604.6 134.5 L616.8 136.1 L626.2 138.7 L632.5 142.1 L635.3 145.9 L634.6 149.9 L630.6 152.9 L623.8 155.4 L614.7 157.4 L603.9 158.9 L592.4 159.6 L580.8 159.3 L569.8 158.0 L560.1 156.0 L552.3 153.4 L546.7 150.0 L543.7 146.0 L543.5 141.9 L545.9 138.2 L550.8 135.4 L557.9 133.4 L566.7 131.9 L576.8 130.3 L587.3 128.7 L597.7 127.7 L607.2 127.9 L615.2 129.7 L621.1 132.7 L624.4 136.0 L624.8 139.1 L622.4 141.6 L617.2 143.7 L609.5 145.6 L599.8 147.1 L588.9 147.9 L577.4 147.7 L566.2 146.6 L556.1 144.7 L547.7 142.0 L541.7 138.5 L538.4 134.4 L538.2 130.0 L540.9 126.1 L546.4 123.2 L554.5 121.1 L564.4 119.4 L575.7 117.6 L587.6 115.8 L599.2 114.6 L609.9 114.9 L619.0 117.1 L625.7 120.1 L629.5 123.6 L630.2 126.8 L627.5 129.5 L621.5 131.9 L612.6 133.9 L601.4 135.6 L588.6 136.4 L575.0 136.2 L561.8 134.8 L549.9 132.5 L540.1 128.9 L533.2 124.8 L529.8 120.2 L530.1 115.6 L534.1 111.1 L541.4 107.9 L551.5 105.7 L563.6 103.9 L576.9 102.0 L590.5 100.2 L603.4 99.4 L614.9 100.8 L624.1 103.1 L630.5 105.9 L633.8 109.1 L633.7 112.2 L630.2 114.7 L623.5 116.9 L614.1 118.8 L602.4 120.2 L589.4 120.8 L575.8 120.4 L562.6 118.9 L550.8 116.4 L541.3 112.9 L534.9 108.8 L532.0 104.4 L532.9 100.0 L537.5 95.7 L545.5 92.9 L556.1 90.9 L568.4 89.4 L581.3 87.9 L593.8 86.6 L605.0 86.2 L614.0 87.1 L620.4 89.3 L623.8 92.1 L624.4 94.7 L622.3 96.6 L618.0 97.9 L612.1 98.8 L605.1 99.5 L597.5 99.7 L589.8 99.5 L582.4 98.8 L575.4 97.7 L569.2 96.2 L564.0 94.3 L560.1 91.9 L557.6 89.2 L556.9 86.3 L558.3 83.6 L562.0 81.3 L568.1 79.5 L576.4 77.7 L586.6 75.7 L598.1 73.8 L610.2 72.6 L621.9 73.3 L632.2 75.5 L640.0 78.2 L644.5 81.1 L645.2 84.1 L641.7 86.8 L634.2 89.2 L623.2 91.1 L609.6 92.1 L594.4 92.2 L578.8 91.3 L564.2 89.6 L551.6 87.1 L542.1 83.9 L536.3 80.3 L534.6 76.3 L536.9 72.4 L543.0 68.6 L552.2 66.0 L563.8 64.4 L576.9 63.1 L590.4 61.7 L603.4 60.6 L615.0 60.3 L624.7 61.6 L631.7 63.7 L635.9 66.5 L637.0 69.1 L635.2 71.2 L630.7 72.8 L623.9 74.1 L615.2 75.2 L605.2 75.8 L594.7 75.8 L584.3 75.1 L574.6 73.7 L566.2 71.9 L559.6 69.6 L555.4 66.7 L553.7 63.5 L554.7 60.3 L558.3 57.7 L564.4 55.7 L572.7 54.3 L582.4 52.9 L593.1 51.4 L604.0 50.1 L614.3 49.6 L623.3 50.2 L630.4 52.0 L635.0 54.3 L636.8 56.5 L635.6 58.4 L631.5 59.9 L624.7 61.1 L615.8 62.2 L605.3 62.8 L594.0 62.8 L582.6 62.1 L571.9 60.7 L562.7 58.8 L555.5 56.3 L550.8 53.2 L548.9 49.8 L550.0 46.5 L554.2 43.8 L561.0 41.8 L570.2 40.2 L581.1 38.7 L593.2 37.1 L605.5 35.7 L617.3 35.3 L627.6 36.6 L635.8 38.4 L641.1 40.6 L643.1 43.0 L641.6 45.1 L636.5 46.8 L628.3 48.3 L617.3 49.5 L604.5 50.2 L590.8 50.2 L577.1 49.3 L564.5 47.7 L553.8 45.3 L545.8 42.4 L541.0 39.1 L539.7 35.6 L541.9 32.2 L547.4 29.4 L555.8 27.5 L566.4 26.1 L578.6 24.6 L591.5 23.2 L604.4 22.0 L616.3 22.2 L626.5 23.4 L634.3 25.1 L639.1 27.2 L640.6 29.4 L638.5 31.3 L633.0 32.9 L624.3 34.3 L613.0 35.4 L600.0 36.0 L586.1 35.8 L572.4 34.9 L560.1 33.3 L549.9 31.0" stroke="#d22a2a" stroke-width="0.95" fill="none" stroke-linejoin="round"/>
<path d="M567.0 157.1 L579.6 155.0 L593.1 153.1 L606.5 152.9 L618.6 155.2 L628.3 158.5 L634.7 162.4 L637.3 166.7 L635.7 170.9 L630.2 174.2 L621.3 176.8 L609.9 179.0 L597.0 180.7 L583.8 181.2 L571.2 180.3 L560.1 178.2 L551.1 175.1 L544.7 171.3 L540.9 167.2 L539.8 162.8 L541.3 158.5 L545.3 154.8 L551.5 152.1 L559.9 150.2 L569.9 148.6 L581.2 146.8 L593.1 145.1 L605.0 144.2 L616.0 145.5 L625.1 148.6 L631.5 152.3 L634.6 156.3 L633.8 160.1 L629.3 163.1 L621.2 165.6 L610.2 167.8 L597.5 169.4 L584.0 169.9 L571.0 169.0 L559.5 166.6 L550.3 163.3 L544.1 159.3 L541.0 155.0 L541.0 150.4 L543.8 146.2 L549.0 142.8 L556.2 140.5 L564.8 138.9 L574.4 137.5 L584.6 136.0 L595.0 134.6 L605.0 133.9 L614.3 134.5 L622.1 136.6 L627.9 139.8 L631.0 143.2 L631.0 146.1 L627.7 148.6 L620.9 150.8 L611.2 152.9 L599.2 154.6 L585.9 155.3 L572.3 154.5 L559.7 152.1 L549.3 148.8 L541.7 144.7 L537.7 140.0 L537.4 135.1 L540.6 130.4 L546.9 126.6 L555.7 124.1 L566.2 122.5 L577.6 121.2 L589.2 119.8 L600.4 118.6 L610.6 118.2 L619.4 119.2 L626.3 121.6 L630.9 124.7 L633.0 127.7 L632.2 130.3 L628.5 132.4 L621.8 134.3 L612.5 136.1 L601.1 137.6 L588.4 138.1 L575.4 137.4 L563.1 135.4 L552.7 132.2 L545.2 128.2 L541.1 123.7 L540.8 119.0 L544.2 114.5 L550.9 111.0 L560.1 108.7 L570.9 107.4 L582.4 106.3 L593.6 105.3 L603.9 104.5 L612.7 104.6 L619.6 105.8 L624.5 107.9 L627.3 110.5 L628.1 112.9 L626.7 114.7 L623.3 116.2 L617.9 117.6 L610.4 119.0 L601.2 120.2 L590.5 120.8 L579.1 120.5 L567.6 119.0 L557.1 116.6 L548.5 113.4 L542.9 109.1 L540.8 104.7 L542.7 100.3 L548.5 96.4 L557.8 93.8 L569.8 92.2 L583.4 90.8 L597.4 89.5 L610.6 88.6 L622.1 89.4 L630.9 91.4 L636.6 94.1 L639.1 97.4 L638.5 100.4 L635.0 102.6 L629.1 104.2 L621.3 105.6 L611.9 106.8 L601.4 107.7 L590.4 107.8 L579.3 107.1 L568.7 105.5 L559.2 103.2 L551.6 100.1 L546.4 96.4 L544.3 92.3 L545.8 88.2 L550.9 84.8 L559.5 82.4 L570.9 80.6 L584.3 79.1 L598.6 77.6 L612.5 77.0 L624.8 78.2 L634.5 80.2 L640.8 82.8 L643.5 85.8 L642.4 88.8 L638.0 91.0 L630.7 92.6 L621.3 93.9 L610.6 94.9 L599.3 95.4 L588.1 95.1 L577.4 94.0 L567.9 92.1 L559.8 89.7 L553.7 86.8 L549.8 83.5 L548.5 79.9 L550.1 76.4 L554.6 73.5 L562.0 71.3 L572.0 69.6 L584.0 68.0 L597.0 66.4 L610.1 65.2 L622.2 66.3 L632.0 68.1 L638.8 70.5 L641.9 73.3 L641.1 76.1 L636.7 78.2 L629.0 79.7 L618.9 80.9 L607.4 81.8 L595.4 82.0 L583.8 81.4 L573.3 80.0 L564.4 77.9 L557.5 75.4 L552.9 72.5 L550.5 69.4 L550.4 66.2 L552.6 63.2 L557.0 60.8 L563.6 59.0 L572.2 57.5 L582.4 56.0 L593.7 54.4 L605.3 53.2 L616.4 53.0 L626.1 54.7 L633.3 57.0 L637.3 59.5 L637.7 62.1 L634.2 64.1 L627.1 65.7 L617.0 67.1 L604.7 68.2 L591.3 68.6 L578.0 68.1 L565.8 66.6 L555.5 64.3 L547.8 61.5 L543.0 58.3 L541.2 54.9 L542.3 51.5 L546.0 48.6 L552.0 46.4 L560.0 44.8 L569.5 43.5 L580.0 42.2 L591.1 40.9 L602.1 39.9 L612.4 39.9 L621.2 41.2 L627.7 43.3 L631.5 45.8 L631.9 48.0 L628.7 49.8 L622.0 51.2 L612.3 52.5 L600.4 53.6 L587.2 54.0 L574.0 53.5 L561.8 52.0 L551.7 49.8 L544.4 47.1 L540.3 44.0 L539.4 40.8 L541.6 37.7 L546.4 35.2 L553.1 33.4 L561.3 32.2 L570.2 31.2 L579.5 30.3 L588.7 29.3 L597.5 28.6 L605.6 28.6 L612.5 29.5 L617.9 31.0 L621.4 32.8 L622.4 34.4 L620.6 35.8 L615.7 37.0 L607.9 38.3 L597.4 39.4 L585.0 40.0 L571.6 39.9 L558.3 38.5 L546.5 36.3 L537.0 33.7 L531.0 30.6 L528.8 27.4 L530.6 24.1 L536.1 21.0 L544.7 18.9 L555.5 17.6 L567.6 16.6" stroke="#3a9a30" stroke-width="0.95" fill="none" stroke-linejoin="round"/>
<path d="M576.5 3.0 L576.4 152.0" stroke="#333" stroke-width="1.0" fill="none"/>
<path d="M640.4 21.5 L658.8 21.5" stroke="#3a7cc2" stroke-width="1"/>
<text x="660.7" y="24.5" font-size="8.3" text-anchor="start" fill="#333" font-weight="normal" font-style="normal" >S1</text>
<path d="M640.4 31.4 L658.8 31.4" stroke="#d22a2a" stroke-width="1"/>
<text x="660.7" y="34.4" font-size="8.3" text-anchor="start" fill="#333" font-weight="normal" font-style="normal" >S2</text>
<path d="M640.4 41.3 L658.8 41.3" stroke="#3a9a30" stroke-width="1"/>
<text x="660.7" y="44.3" font-size="8.3" text-anchor="start" fill="#333" font-weight="normal" font-style="normal" >S3</text>
<text x="491.5" y="29.9" font-size="10.3" fill="#e4602a"><tspan font-style="italic">D</tspan><tspan font-size="7" font-style="italic" dy="3">j</tspan><tspan dy="-3"> = 70 nm</tspan></text>
<text x="456.8" y="17.4" font-size="14" text-anchor="start" fill="#111" font-weight="bold" font-style="normal" >c</text>
<path d="M103.8 237.5 V422.7" stroke="#777" stroke-width="0.8" stroke-dasharray="3,2.2"/>
<path d="M164.4 237.5 V422.7" stroke="#777" stroke-width="0.8" stroke-dasharray="3,2.2"/>
<path d="M43.2 413.5 H225.0" stroke="#888" stroke-width="0.8" stroke-dasharray="3,2.2"/>
<path d="M43.2 369.5 H225.0" stroke="#888" stroke-width="0.8" stroke-dasharray="3,2.2"/>
<path d="M43.2 325.5 H225.0" stroke="#888" stroke-width="0.8" stroke-dasharray="3,2.2"/>
<path d="M43.2 281.5 H225.0" stroke="#888" stroke-width="0.8" stroke-dasharray="3,2.2"/>
<g fill="#3a9a2c"><circle cx="44.7" cy="409.5" r="2.7"/><circle cx="45.8" cy="409.3" r="2.7"/><circle cx="46.9" cy="409.1" r="2.7"/><circle cx="48.0" cy="408.9" r="2.7"/><circle cx="49.0" cy="408.6" r="2.7"/><circle cx="50.1" cy="408.3" r="2.7"/><circle cx="51.2" cy="408.0" r="2.7"/><circle cx="52.3" cy="407.7" r="2.7"/><circle cx="53.4" cy="407.4" r="2.7"/><circle cx="54.5" cy="407.0" r="2.7"/><circle cx="55.6" cy="406.6" r="2.7"/><circle cx="56.7" cy="406.2" r="2.7"/><circle cx="57.8" cy="405.7" r="2.7"/><circle cx="58.9" cy="405.2" r="2.7"/><circle cx="60.0" cy="404.6" r="2.7"/><circle cx="61.1" cy="404.0" r="2.7"/><circle cx="62.2" cy="403.4" r="2.7"/><circle cx="63.4" cy="402.6" r="2.7"/><circle cx="64.5" cy="401.8" r="2.7"/><circle cx="65.7" cy="401.0" r="2.7"/><circle cx="66.8" cy="400.0" r="2.7"/><circle cx="68.0" cy="398.9" r="2.7"/><circle cx="69.2" cy="397.7" r="2.7"/><circle cx="70.4" cy="396.4" r="2.7"/><circle cx="71.6" cy="394.9" r="2.7"/><circle cx="72.8" cy="393.2" r="2.7"/><circle cx="74.1" cy="391.3" r="2.7"/><circle cx="75.4" cy="389.1" r="2.7"/><circle cx="76.7" cy="386.6" r="2.7"/><circle cx="78.0" cy="383.6" r="2.7"/><circle cx="79.5" cy="380.2" r="2.7"/><circle cx="80.9" cy="376.1" r="2.7"/><circle cx="82.5" cy="371.2" r="2.7"/><circle cx="84.2" cy="365.2" r="2.7"/><circle cx="86.0" cy="357.7" r="2.7"/><circle cx="87.9" cy="348.3" r="2.7"/><circle cx="90.1" cy="336.2" r="2.7"/><circle cx="92.7" cy="320.7" r="2.7"/><circle cx="95.7" cy="301.7" r="2.7"/><circle cx="99.3" cy="282.5" r="2.7"/><circle cx="103.7" cy="273.1" r="2.7"/><circle cx="108.4" cy="283.0" r="2.7"/><circle cx="112.7" cy="306.6" r="2.7"/><circle cx="116.2" cy="328.6" r="2.7"/><circle cx="118.9" cy="344.5" r="2.7"/><circle cx="121.3" cy="356.0" r="2.7"/><circle cx="123.3" cy="364.6" r="2.7"/><circle cx="125.1" cy="371.1" r="2.7"/><circle cx="126.7" cy="376.4" r="2.7"/><circle cx="128.3" cy="380.6" r="2.7"/><circle cx="129.8" cy="384.1" r="2.7"/><circle cx="131.2" cy="387.1" r="2.7"/><circle cx="132.5" cy="389.6" r="2.7"/><circle cx="133.9" cy="391.8" r="2.7"/><circle cx="135.1" cy="393.7" r="2.7"/><circle cx="136.4" cy="395.3" r="2.7"/><circle cx="137.6" cy="396.8" r="2.7"/><circle cx="138.8" cy="398.1" r="2.7"/><circle cx="140.0" cy="399.3" r="2.7"/><circle cx="141.2" cy="400.3" r="2.7"/><circle cx="142.4" cy="401.3" r="2.7"/><circle cx="143.5" cy="402.1" r="2.7"/><circle cx="144.7" cy="402.9" r="2.7"/><circle cx="145.8" cy="403.6" r="2.7"/><circle cx="146.9" cy="404.3" r="2.7"/><circle cx="148.0" cy="404.9" r="2.7"/><circle cx="149.2" cy="405.4" r="2.7"/><circle cx="150.3" cy="405.9" r="2.7"/><circle cx="151.4" cy="406.4" r="2.7"/><circle cx="152.5" cy="406.8" r="2.7"/><circle cx="153.6" cy="407.2" r="2.7"/><circle cx="154.7" cy="407.5" r="2.7"/><circle cx="155.8" cy="407.9" r="2.7"/><circle cx="156.8" cy="408.2" r="2.7"/><circle cx="157.9" cy="408.5" r="2.7"/><circle cx="159.0" cy="408.7" r="2.7"/><circle cx="160.1" cy="409.0" r="2.7"/><circle cx="161.2" cy="409.2" r="2.7"/><circle cx="162.3" cy="409.4" r="2.7"/><circle cx="163.3" cy="409.6" r="2.7"/><circle cx="164.4" cy="409.8" r="2.7"/><circle cx="165.5" cy="410.0" r="2.7"/><circle cx="166.6" cy="410.2" r="2.7"/><circle cx="167.6" cy="410.3" r="2.7"/><circle cx="168.7" cy="410.5" r="2.7"/><circle cx="169.8" cy="410.6" r="2.7"/><circle cx="170.9" cy="410.7" r="2.7"/><circle cx="171.9" cy="410.9" r="2.7"/><circle cx="173.0" cy="411.0" r="2.7"/><circle cx="174.1" cy="411.1" r="2.7"/><circle cx="175.1" cy="411.2" r="2.7"/><circle cx="176.2" cy="411.3" r="2.7"/><circle cx="177.3" cy="411.4" r="2.7"/><circle cx="178.3" cy="411.5" r="2.7"/><circle cx="179.4" cy="411.6" r="2.7"/><circle cx="180.5" cy="411.6" r="2.7"/><circle cx="181.5" cy="411.7" r="2.7"/><circle cx="182.6" cy="411.8" r="2.7"/><circle cx="183.7" cy="411.9" r="2.7"/><circle cx="184.7" cy="411.9" r="2.7"/><circle cx="185.8" cy="412.0" r="2.7"/><circle cx="186.9" cy="412.0" r="2.7"/><circle cx="187.9" cy="412.1" r="2.7"/><circle cx="189.0" cy="412.1" r="2.7"/><circle cx="190.1" cy="412.2" r="2.7"/><circle cx="191.1" cy="412.2" r="2.7"/><circle cx="192.2" cy="412.3" r="2.7"/><circle cx="193.2" cy="412.3" r="2.7"/><circle cx="194.3" cy="412.4" r="2.7"/><circle cx="195.4" cy="412.4" r="2.7"/><circle cx="196.4" cy="412.4" r="2.7"/><circle cx="197.5" cy="412.5" r="2.7"/><circle cx="198.6" cy="412.5" r="2.7"/><circle cx="199.6" cy="412.6" r="2.7"/><circle cx="200.7" cy="412.6" r="2.7"/><circle cx="201.7" cy="412.6" r="2.7"/><circle cx="202.8" cy="412.6" r="2.7"/><circle cx="203.9" cy="412.7" r="2.7"/><circle cx="204.9" cy="412.7" r="2.7"/><circle cx="206.0" cy="412.7" r="2.7"/><circle cx="207.1" cy="412.7" r="2.7"/><circle cx="208.1" cy="412.8" r="2.7"/><circle cx="209.2" cy="412.8" r="2.7"/><circle cx="210.2" cy="412.8" r="2.7"/><circle cx="211.3" cy="412.8" r="2.7"/><circle cx="212.4" cy="412.9" r="2.7"/><circle cx="213.4" cy="412.9" r="2.7"/><circle cx="214.5" cy="412.9" r="2.7"/><circle cx="215.5" cy="412.9" r="2.7"/><circle cx="216.6" cy="412.9" r="2.7"/><circle cx="217.7" cy="412.9" r="2.7"/><circle cx="218.7" cy="413.0" r="2.7"/></g>
<path d="M43.2 409.8 L46.2 409.2 L49.3 408.6 L52.3 407.7 L55.3 406.7 L58.4 405.4 L61.4 403.9 L64.4 401.9 L67.4 399.4 L70.5 396.3 L73.5 392.2 L76.5 386.9 L79.6 379.9 L82.6 370.9 L85.6 359.2 L88.7 344.5 L91.7 327.0 L94.7 307.8 L97.7 290.0 L100.8 277.5 L103.8 273.1 L106.8 277.5 L109.9 290.0 L112.9 307.8 L115.9 327.0 L119.0 344.5 L122.0 359.2 L125.0 370.9 L128.0 379.9 L131.1 386.9 L134.1 392.2 L137.1 396.3 L140.2 399.4 L143.2 401.9 L146.2 403.9 L149.2 405.4 L152.3 406.7 L155.3 407.7 L158.3 408.6 L161.4 409.2 L164.4 409.8 L167.4 410.3 L170.5 410.7 L173.5 411.0 L176.5 411.3 L179.6 411.6 L182.6 411.8 L185.6 412.0 L188.6 412.1 L191.7 412.3 L194.7 412.4 L197.7 412.5 L200.8 412.6 L203.8 412.7 L206.8 412.7 L209.9 412.8 L212.9 412.9 L215.9 412.9 L218.9 413.0 L222.0 413.0 L225.0 413.0" stroke="#3a9a2c" stroke-width="1" fill="none"/>
<g fill="#cc1f1a"><rect x="42.4" y="409.1" width="4.6" height="4.6"/><rect x="43.5" y="409.0" width="4.6" height="4.6"/><rect x="44.5" y="408.9" width="4.6" height="4.6"/><rect x="45.6" y="408.8" width="4.6" height="4.6"/><rect x="46.7" y="408.7" width="4.6" height="4.6"/><rect x="47.8" y="408.6" width="4.6" height="4.6"/><rect x="48.8" y="408.5" width="4.6" height="4.6"/><rect x="49.9" y="408.3" width="4.6" height="4.6"/><rect x="51.0" y="408.2" width="4.6" height="4.6"/><rect x="52.0" y="408.1" width="4.6" height="4.6"/><rect x="53.1" y="407.9" width="4.6" height="4.6"/><rect x="54.2" y="407.8" width="4.6" height="4.6"/><rect x="55.3" y="407.6" width="4.6" height="4.6"/><rect x="56.3" y="407.4" width="4.6" height="4.6"/><rect x="57.4" y="407.2" width="4.6" height="4.6"/><rect x="58.5" y="407.0" width="4.6" height="4.6"/><rect x="59.6" y="406.8" width="4.6" height="4.6"/><rect x="60.6" y="406.5" width="4.6" height="4.6"/><rect x="61.7" y="406.2" width="4.6" height="4.6"/><rect x="62.8" y="406.0" width="4.6" height="4.6"/><rect x="63.9" y="405.7" width="4.6" height="4.6"/><rect x="65.0" y="405.3" width="4.6" height="4.6"/><rect x="66.1" y="405.0" width="4.6" height="4.6"/><rect x="67.2" y="404.6" width="4.6" height="4.6"/><rect x="68.3" y="404.2" width="4.6" height="4.6"/><rect x="69.4" y="403.8" width="4.6" height="4.6"/><rect x="70.5" y="403.3" width="4.6" height="4.6"/><rect x="71.6" y="402.8" width="4.6" height="4.6"/><rect x="72.7" y="402.2" width="4.6" height="4.6"/><rect x="73.8" y="401.6" width="4.6" height="4.6"/><rect x="74.9" y="401.0" width="4.6" height="4.6"/><rect x="76.0" y="400.2" width="4.6" height="4.6"/><rect x="77.2" y="399.4" width="4.6" height="4.6"/><rect x="78.3" y="398.5" width="4.6" height="4.6"/><rect x="79.5" y="397.6" width="4.6" height="4.6"/><rect x="80.7" y="396.5" width="4.6" height="4.6"/><rect x="81.8" y="395.3" width="4.6" height="4.6"/><rect x="83.0" y="393.9" width="4.6" height="4.6"/><rect x="84.2" y="392.4" width="4.6" height="4.6"/><rect x="85.5" y="390.7" width="4.6" height="4.6"/><rect x="86.7" y="388.8" width="4.6" height="4.6"/><rect x="88.0" y="386.6" width="4.6" height="4.6"/><rect x="89.3" y="384.1" width="4.6" height="4.6"/><rect x="90.7" y="381.1" width="4.6" height="4.6"/><rect x="92.1" y="377.7" width="4.6" height="4.6"/><rect x="93.6" y="373.6" width="4.6" height="4.6"/><rect x="95.1" y="368.8" width="4.6" height="4.6"/><rect x="96.8" y="362.8" width="4.6" height="4.6"/><rect x="98.5" y="355.5" width="4.6" height="4.6"/><rect x="100.5" y="346.2" width="4.6" height="4.6"/><rect x="102.6" y="334.3" width="4.6" height="4.6"/><rect x="105.1" y="319.0" width="4.6" height="4.6"/><rect x="108.1" y="300.0" width="4.6" height="4.6"/><rect x="111.6" y="279.9" width="4.6" height="4.6"/><rect x="115.8" y="268.1" width="4.6" height="4.6"/><rect x="120.5" y="275.0" width="4.6" height="4.6"/><rect x="125.0" y="298.2" width="4.6" height="4.6"/><rect x="128.6" y="321.4" width="4.6" height="4.6"/><rect x="131.4" y="338.6" width="4.6" height="4.6"/><rect x="133.8" y="350.9" width="4.6" height="4.6"/><rect x="135.8" y="360.0" width="4.6" height="4.6"/><rect x="137.7" y="367.0" width="4.6" height="4.6"/><rect x="139.4" y="372.5" width="4.6" height="4.6"/><rect x="140.9" y="377.0" width="4.6" height="4.6"/><rect x="142.4" y="380.7" width="4.6" height="4.6"/><rect x="143.8" y="383.8" width="4.6" height="4.6"/><rect x="145.2" y="386.4" width="4.6" height="4.6"/><rect x="146.5" y="388.7" width="4.6" height="4.6"/><rect x="147.8" y="390.7" width="4.6" height="4.6"/><rect x="149.1" y="392.4" width="4.6" height="4.6"/><rect x="150.3" y="393.9" width="4.6" height="4.6"/><rect x="151.5" y="395.3" width="4.6" height="4.6"/><rect x="152.7" y="396.5" width="4.6" height="4.6"/><rect x="153.9" y="397.6" width="4.6" height="4.6"/><rect x="155.0" y="398.6" width="4.6" height="4.6"/><rect x="156.2" y="399.5" width="4.6" height="4.6"/><rect x="157.3" y="400.3" width="4.6" height="4.6"/><rect x="158.5" y="401.0" width="4.6" height="4.6"/><rect x="159.6" y="401.7" width="4.6" height="4.6"/><rect x="160.7" y="402.3" width="4.6" height="4.6"/><rect x="161.8" y="402.8" width="4.6" height="4.6"/><rect x="162.9" y="403.4" width="4.6" height="4.6"/><rect x="164.1" y="403.8" width="4.6" height="4.6"/><rect x="165.2" y="404.3" width="4.6" height="4.6"/><rect x="166.3" y="404.7" width="4.6" height="4.6"/><rect x="167.4" y="405.0" width="4.6" height="4.6"/><rect x="168.4" y="405.4" width="4.6" height="4.6"/><rect x="169.5" y="405.7" width="4.6" height="4.6"/><rect x="170.6" y="406.0" width="4.6" height="4.6"/><rect x="171.7" y="406.3" width="4.6" height="4.6"/><rect x="172.8" y="406.5" width="4.6" height="4.6"/><rect x="173.9" y="406.8" width="4.6" height="4.6"/><rect x="175.0" y="407.0" width="4.6" height="4.6"/><rect x="176.0" y="407.2" width="4.6" height="4.6"/><rect x="177.1" y="407.4" width="4.6" height="4.6"/><rect x="178.2" y="407.6" width="4.6" height="4.6"/><rect x="179.3" y="407.8" width="4.6" height="4.6"/><rect x="180.3" y="407.9" width="4.6" height="4.6"/><rect x="181.4" y="408.1" width="4.6" height="4.6"/><rect x="182.5" y="408.2" width="4.6" height="4.6"/><rect x="183.5" y="408.4" width="4.6" height="4.6"/><rect x="184.6" y="408.5" width="4.6" height="4.6"/><rect x="185.7" y="408.6" width="4.6" height="4.6"/><rect x="186.8" y="408.7" width="4.6" height="4.6"/><rect x="187.8" y="408.8" width="4.6" height="4.6"/><rect x="188.9" y="408.9" width="4.6" height="4.6"/><rect x="190.0" y="409.0" width="4.6" height="4.6"/><rect x="191.0" y="409.1" width="4.6" height="4.6"/><rect x="192.1" y="409.2" width="4.6" height="4.6"/><rect x="193.2" y="409.3" width="4.6" height="4.6"/><rect x="194.2" y="409.4" width="4.6" height="4.6"/><rect x="195.3" y="409.4" width="4.6" height="4.6"/><rect x="196.4" y="409.5" width="4.6" height="4.6"/><rect x="197.4" y="409.6" width="4.6" height="4.6"/><rect x="198.5" y="409.6" width="4.6" height="4.6"/><rect x="199.6" y="409.7" width="4.6" height="4.6"/><rect x="200.6" y="409.8" width="4.6" height="4.6"/><rect x="201.7" y="409.8" width="4.6" height="4.6"/><rect x="202.7" y="409.9" width="4.6" height="4.6"/><rect x="203.8" y="409.9" width="4.6" height="4.6"/><rect x="204.9" y="410.0" width="4.6" height="4.6"/><rect x="205.9" y="410.0" width="4.6" height="4.6"/><rect x="207.0" y="410.0" width="4.6" height="4.6"/><rect x="208.1" y="410.1" width="4.6" height="4.6"/><rect x="209.1" y="410.1" width="4.6" height="4.6"/><rect x="210.2" y="410.2" width="4.6" height="4.6"/><rect x="211.3" y="410.2" width="4.6" height="4.6"/><rect x="212.3" y="410.2" width="4.6" height="4.6"/><rect x="213.4" y="410.3" width="4.6" height="4.6"/><rect x="214.4" y="410.3" width="4.6" height="4.6"/><rect x="215.5" y="410.3" width="4.6" height="4.6"/><rect x="216.6" y="410.3" width="4.6" height="4.6"/></g>
<path d="M43.2 411.5 L46.2 411.3 L49.3 411.0 L52.3 410.6 L55.3 410.2 L58.4 409.7 L61.4 409.2 L64.4 408.5 L67.4 407.6 L70.5 406.6 L73.5 405.3 L76.5 403.7 L79.6 401.7 L82.6 399.1 L85.6 395.9 L88.7 391.7 L91.7 386.3 L94.7 379.2 L97.7 370.0 L100.8 358.0 L103.8 343.0 L106.8 325.1 L109.9 305.5 L112.9 287.3 L115.9 274.5 L119.0 270.1 L122.0 274.5 L125.0 287.3 L128.0 305.5 L131.1 325.1 L134.1 343.0 L137.1 358.0 L140.2 370.0 L143.2 379.2 L146.2 386.3 L149.2 391.7 L152.3 395.9 L155.3 399.1 L158.3 401.7 L161.4 403.7 L164.4 405.3 L167.4 406.6 L170.5 407.6 L173.5 408.5 L176.5 409.2 L179.6 409.7 L182.6 410.2 L185.6 410.6 L188.6 411.0 L191.7 411.3 L194.7 411.5 L197.7 411.7 L200.8 411.9 L203.8 412.1 L206.8 412.2 L209.9 412.4 L212.9 412.5 L215.9 412.6 L218.9 412.6 L222.0 412.7 L225.0 412.8" stroke="#cc1f1a" stroke-width="1" fill="none"/>
<g fill="#3a86c8"><path d="M41.7 410.1 h6 l-3 5z"/><path d="M42.8 410.1 h6 l-3 5z"/><path d="M43.8 410.0 h6 l-3 5z"/><path d="M44.9 410.0 h6 l-3 5z"/><path d="M46.0 409.9 h6 l-3 5z"/><path d="M47.0 409.9 h6 l-3 5z"/><path d="M48.1 409.8 h6 l-3 5z"/><path d="M49.2 409.7 h6 l-3 5z"/><path d="M50.2 409.7 h6 l-3 5z"/><path d="M51.3 409.6 h6 l-3 5z"/><path d="M52.4 409.5 h6 l-3 5z"/><path d="M53.4 409.5 h6 l-3 5z"/><path d="M54.5 409.4 h6 l-3 5z"/><path d="M55.6 409.3 h6 l-3 5z"/><path d="M56.6 409.2 h6 l-3 5z"/><path d="M57.7 409.1 h6 l-3 5z"/><path d="M58.8 409.0 h6 l-3 5z"/><path d="M59.8 408.9 h6 l-3 5z"/><path d="M60.9 408.8 h6 l-3 5z"/><path d="M62.0 408.7 h6 l-3 5z"/><path d="M63.0 408.6 h6 l-3 5z"/><path d="M64.1 408.5 h6 l-3 5z"/><path d="M65.2 408.3 h6 l-3 5z"/><path d="M66.2 408.2 h6 l-3 5z"/><path d="M67.3 408.1 h6 l-3 5z"/><path d="M68.4 407.9 h6 l-3 5z"/><path d="M69.5 407.7 h6 l-3 5z"/><path d="M70.5 407.5 h6 l-3 5z"/><path d="M71.6 407.3 h6 l-3 5z"/><path d="M72.7 407.1 h6 l-3 5z"/><path d="M73.8 406.9 h6 l-3 5z"/><path d="M74.8 406.7 h6 l-3 5z"/><path d="M75.9 406.4 h6 l-3 5z"/><path d="M77.0 406.1 h6 l-3 5z"/><path d="M78.1 405.8 h6 l-3 5z"/><path d="M79.2 405.5 h6 l-3 5z"/><path d="M80.3 405.2 h6 l-3 5z"/><path d="M81.4 404.8 h6 l-3 5z"/><path d="M82.5 404.4 h6 l-3 5z"/><path d="M83.6 404.0 h6 l-3 5z"/><path d="M84.7 403.5 h6 l-3 5z"/><path d="M85.8 403.0 h6 l-3 5z"/><path d="M86.9 402.5 h6 l-3 5z"/><path d="M88.0 401.9 h6 l-3 5z"/><path d="M89.1 401.2 h6 l-3 5z"/><path d="M90.2 400.5 h6 l-3 5z"/><path d="M91.4 399.7 h6 l-3 5z"/><path d="M92.5 398.8 h6 l-3 5z"/><path d="M93.7 397.9 h6 l-3 5z"/><path d="M94.8 396.8 h6 l-3 5z"/><path d="M96.0 395.7 h6 l-3 5z"/><path d="M97.2 394.4 h6 l-3 5z"/><path d="M98.4 392.9 h6 l-3 5z"/><path d="M99.6 391.2 h6 l-3 5z"/><path d="M100.9 389.4 h6 l-3 5z"/><path d="M102.2 387.2 h6 l-3 5z"/><path d="M103.5 384.8 h6 l-3 5z"/><path d="M104.8 382.0 h6 l-3 5z"/><path d="M106.2 378.7 h6 l-3 5z"/><path d="M107.7 374.8 h6 l-3 5z"/><path d="M109.2 370.1 h6 l-3 5z"/><path d="M110.8 364.4 h6 l-3 5z"/><path d="M112.6 357.4 h6 l-3 5z"/><path d="M114.5 348.6 h6 l-3 5z"/><path d="M116.6 337.4 h6 l-3 5z"/><path d="M119.0 323.0 h6 l-3 5z"/><path d="M121.8 304.8 h6 l-3 5z"/><path d="M125.2 284.4 h6 l-3 5z"/><path d="M129.3 269.5 h6 l-3 5z"/><path d="M133.9 271.6 h6 l-3 5z"/><path d="M138.4 292.4 h6 l-3 5z"/><path d="M142.2 316.7 h6 l-3 5z"/><path d="M145.3 335.2 h6 l-3 5z"/><path d="M147.7 348.5 h6 l-3 5z"/><path d="M149.8 358.2 h6 l-3 5z"/><path d="M151.7 365.6 h6 l-3 5z"/><path d="M153.4 371.4 h6 l-3 5z"/><path d="M155.0 376.1 h6 l-3 5z"/><path d="M156.5 380.0 h6 l-3 5z"/><path d="M157.9 383.2 h6 l-3 5z"/><path d="M159.3 385.9 h6 l-3 5z"/><path d="M160.7 388.3 h6 l-3 5z"/><path d="M161.9 390.3 h6 l-3 5z"/><path d="M163.2 392.1 h6 l-3 5z"/><path d="M164.4 393.7 h6 l-3 5z"/><path d="M165.7 395.1 h6 l-3 5z"/><path d="M166.9 396.3 h6 l-3 5z"/><path d="M168.0 397.5 h6 l-3 5z"/><path d="M169.2 398.5 h6 l-3 5z"/><path d="M170.4 399.4 h6 l-3 5z"/><path d="M171.5 400.2 h6 l-3 5z"/><path d="M172.7 400.9 h6 l-3 5z"/><path d="M173.8 401.6 h6 l-3 5z"/><path d="M174.9 402.2 h6 l-3 5z"/><path d="M176.0 402.8 h6 l-3 5z"/><path d="M177.1 403.3 h6 l-3 5z"/><path d="M178.3 403.8 h6 l-3 5z"/><path d="M179.4 404.3 h6 l-3 5z"/><path d="M180.5 404.7 h6 l-3 5z"/><path d="M181.5 405.1 h6 l-3 5z"/><path d="M182.6 405.4 h6 l-3 5z"/><path d="M183.7 405.7 h6 l-3 5z"/><path d="M184.8 406.0 h6 l-3 5z"/><path d="M185.9 406.3 h6 l-3 5z"/><path d="M187.0 406.6 h6 l-3 5z"/><path d="M188.1 406.8 h6 l-3 5z"/><path d="M189.2 407.1 h6 l-3 5z"/><path d="M190.2 407.3 h6 l-3 5z"/><path d="M191.3 407.5 h6 l-3 5z"/><path d="M192.4 407.7 h6 l-3 5z"/><path d="M193.5 407.8 h6 l-3 5z"/><path d="M194.5 408.0 h6 l-3 5z"/><path d="M195.6 408.2 h6 l-3 5z"/><path d="M196.7 408.3 h6 l-3 5z"/><path d="M197.8 408.4 h6 l-3 5z"/><path d="M198.8 408.6 h6 l-3 5z"/><path d="M199.9 408.7 h6 l-3 5z"/><path d="M201.0 408.8 h6 l-3 5z"/><path d="M202.0 408.9 h6 l-3 5z"/><path d="M203.1 409.0 h6 l-3 5z"/><path d="M204.2 409.1 h6 l-3 5z"/><path d="M205.2 409.2 h6 l-3 5z"/><path d="M206.3 409.3 h6 l-3 5z"/><path d="M207.4 409.4 h6 l-3 5z"/><path d="M208.4 409.4 h6 l-3 5z"/><path d="M209.5 409.5 h6 l-3 5z"/><path d="M210.6 409.6 h6 l-3 5z"/><path d="M211.6 409.7 h6 l-3 5z"/><path d="M212.7 409.7 h6 l-3 5z"/><path d="M213.8 409.8 h6 l-3 5z"/><path d="M214.8 409.8 h6 l-3 5z"/><path d="M215.9 409.9 h6 l-3 5z"/></g>
<path d="M43.2 412.4 L46.2 412.2 L49.3 412.1 L52.3 411.9 L55.3 411.7 L58.4 411.5 L61.4 411.3 L64.4 411.0 L67.4 410.6 L70.5 410.2 L73.5 409.7 L76.5 409.2 L79.6 408.5 L82.6 407.6 L85.6 406.6 L88.7 405.3 L91.7 403.7 L94.7 401.7 L97.7 399.1 L100.8 395.9 L103.8 391.7 L106.8 386.3 L109.9 379.2 L112.9 370.0 L115.9 358.0 L119.0 343.0 L122.0 325.1 L125.0 305.5 L128.0 287.3 L131.1 274.5 L134.1 270.1 L137.1 274.5 L140.2 287.3 L143.2 305.5 L146.2 325.1 L149.2 343.0 L152.3 358.0 L155.3 370.0 L158.3 379.2 L161.4 386.3 L164.4 391.7 L167.4 395.9 L170.5 399.1 L173.5 401.7 L176.5 403.7 L179.6 405.3 L182.6 406.6 L185.6 407.6 L188.6 408.5 L191.7 409.2 L194.7 409.7 L197.7 410.2 L200.8 410.6 L203.8 411.0 L206.8 411.3 L209.9 411.5 L212.9 411.7 L215.9 411.9 L218.9 412.1 L222.0 412.2 L225.0 412.4" stroke="#3a86c8" stroke-width="1" fill="none"/>
<g fill="#e8601e"><circle cx="44.7" cy="412.8" r="2.7"/><circle cx="45.8" cy="412.7" r="2.7"/><circle cx="46.8" cy="412.7" r="2.7"/><circle cx="47.9" cy="412.7" r="2.7"/><circle cx="49.0" cy="412.7" r="2.7"/><circle cx="50.0" cy="412.6" r="2.7"/><circle cx="51.1" cy="412.6" r="2.7"/><circle cx="52.1" cy="412.6" r="2.7"/><circle cx="53.2" cy="412.5" r="2.7"/><circle cx="54.3" cy="412.5" r="2.7"/><circle cx="55.3" cy="412.5" r="2.7"/><circle cx="56.4" cy="412.4" r="2.7"/><circle cx="57.5" cy="412.4" r="2.7"/><circle cx="58.5" cy="412.4" r="2.7"/><circle cx="59.6" cy="412.3" r="2.7"/><circle cx="60.7" cy="412.3" r="2.7"/><circle cx="61.7" cy="412.2" r="2.7"/><circle cx="62.8" cy="412.2" r="2.7"/><circle cx="63.8" cy="412.1" r="2.7"/><circle cx="64.9" cy="412.1" r="2.7"/><circle cx="66.0" cy="412.0" r="2.7"/><circle cx="67.0" cy="412.0" r="2.7"/><circle cx="68.1" cy="411.9" r="2.7"/><circle cx="69.2" cy="411.9" r="2.7"/><circle cx="70.2" cy="411.8" r="2.7"/><circle cx="71.3" cy="411.7" r="2.7"/><circle cx="72.4" cy="411.6" r="2.7"/><circle cx="73.4" cy="411.6" r="2.7"/><circle cx="74.5" cy="411.5" r="2.7"/><circle cx="75.6" cy="411.4" r="2.7"/><circle cx="76.6" cy="411.3" r="2.7"/><circle cx="77.7" cy="411.2" r="2.7"/><circle cx="78.8" cy="411.1" r="2.7"/><circle cx="79.8" cy="411.0" r="2.7"/><circle cx="80.9" cy="410.9" r="2.7"/><circle cx="82.0" cy="410.7" r="2.7"/><circle cx="83.0" cy="410.6" r="2.7"/><circle cx="84.1" cy="410.5" r="2.7"/><circle cx="85.2" cy="410.3" r="2.7"/><circle cx="86.2" cy="410.2" r="2.7"/><circle cx="87.3" cy="410.0" r="2.7"/><circle cx="88.4" cy="409.8" r="2.7"/><circle cx="89.5" cy="409.6" r="2.7"/><circle cx="90.5" cy="409.4" r="2.7"/><circle cx="91.6" cy="409.2" r="2.7"/><circle cx="92.7" cy="409.0" r="2.7"/><circle cx="93.8" cy="408.7" r="2.7"/><circle cx="94.9" cy="408.5" r="2.7"/><circle cx="96.0" cy="408.2" r="2.7"/><circle cx="97.0" cy="407.9" r="2.7"/><circle cx="98.1" cy="407.5" r="2.7"/><circle cx="99.2" cy="407.2" r="2.7"/><circle cx="100.3" cy="406.8" r="2.7"/><circle cx="101.4" cy="406.4" r="2.7"/><circle cx="102.5" cy="405.9" r="2.7"/><circle cx="103.6" cy="405.5" r="2.7"/><circle cx="104.7" cy="404.9" r="2.7"/><circle cx="105.8" cy="404.3" r="2.7"/><circle cx="107.0" cy="403.7" r="2.7"/><circle cx="108.1" cy="403.0" r="2.7"/><circle cx="109.2" cy="402.3" r="2.7"/><circle cx="110.4" cy="401.4" r="2.7"/><circle cx="111.5" cy="400.5" r="2.7"/><circle cx="112.7" cy="399.5" r="2.7"/><circle cx="113.8" cy="398.4" r="2.7"/><circle cx="115.0" cy="397.1" r="2.7"/><circle cx="116.2" cy="395.7" r="2.7"/><circle cx="117.5" cy="394.1" r="2.7"/><circle cx="118.7" cy="392.3" r="2.7"/><circle cx="120.0" cy="390.3" r="2.7"/><circle cx="121.3" cy="388.0" r="2.7"/><circle cx="122.6" cy="385.3" r="2.7"/><circle cx="124.0" cy="382.2" r="2.7"/><circle cx="125.4" cy="378.5" r="2.7"/><circle cx="126.9" cy="374.1" r="2.7"/><circle cx="128.5" cy="368.8" r="2.7"/><circle cx="130.2" cy="362.2" r="2.7"/><circle cx="132.1" cy="354.1" r="2.7"/><circle cx="134.1" cy="343.7" r="2.7"/><circle cx="136.5" cy="330.3" r="2.7"/><circle cx="139.1" cy="313.3" r="2.7"/><circle cx="142.4" cy="293.4" r="2.7"/><circle cx="146.3" cy="276.1" r="2.7"/><circle cx="150.8" cy="273.0" r="2.7"/><circle cx="155.5" cy="289.6" r="2.7"/><circle cx="159.5" cy="314.2" r="2.7"/><circle cx="162.7" cy="334.2" r="2.7"/><circle cx="165.3" cy="348.4" r="2.7"/><circle cx="167.5" cy="358.8" r="2.7"/><circle cx="169.4" cy="366.7" r="2.7"/><circle cx="171.1" cy="372.7" r="2.7"/><circle cx="172.8" cy="377.6" r="2.7"/><circle cx="174.3" cy="381.6" r="2.7"/><circle cx="175.7" cy="385.0" r="2.7"/><circle cx="177.1" cy="387.8" r="2.7"/><circle cx="178.5" cy="390.2" r="2.7"/><circle cx="179.8" cy="392.3" r="2.7"/><circle cx="181.0" cy="394.1" r="2.7"/><circle cx="182.3" cy="395.7" r="2.7"/><circle cx="183.5" cy="397.2" r="2.7"/><circle cx="184.7" cy="398.4" r="2.7"/><circle cx="185.9" cy="399.6" r="2.7"/><circle cx="187.1" cy="400.6" r="2.7"/><circle cx="188.2" cy="401.5" r="2.7"/><circle cx="189.4" cy="402.3" r="2.7"/><circle cx="190.5" cy="403.1" r="2.7"/><circle cx="191.6" cy="403.8" r="2.7"/><circle cx="192.8" cy="404.4" r="2.7"/><circle cx="193.9" cy="405.0" r="2.7"/><circle cx="195.0" cy="405.5" r="2.7"/><circle cx="196.1" cy="406.0" r="2.7"/><circle cx="197.2" cy="406.4" r="2.7"/><circle cx="198.3" cy="406.9" r="2.7"/><circle cx="199.4" cy="407.2" r="2.7"/><circle cx="200.5" cy="407.6" r="2.7"/><circle cx="201.6" cy="407.9" r="2.7"/><circle cx="202.7" cy="408.2" r="2.7"/><circle cx="203.8" cy="408.5" r="2.7"/><circle cx="204.9" cy="408.8" r="2.7"/><circle cx="205.9" cy="409.0" r="2.7"/><circle cx="207.0" cy="409.2" r="2.7"/><circle cx="208.1" cy="409.5" r="2.7"/><circle cx="209.2" cy="409.7" r="2.7"/><circle cx="210.3" cy="409.9" r="2.7"/><circle cx="211.3" cy="410.0" r="2.7"/><circle cx="212.4" cy="410.2" r="2.7"/><circle cx="213.5" cy="410.4" r="2.7"/><circle cx="214.5" cy="410.5" r="2.7"/><circle cx="215.6" cy="410.6" r="2.7"/><circle cx="216.7" cy="410.8" r="2.7"/><circle cx="217.8" cy="410.9" r="2.7"/><circle cx="218.8" cy="411.0" r="2.7"/></g>
<path d="M43.2 412.8 L46.2 412.7 L49.3 412.7 L52.3 412.6 L55.3 412.5 L58.4 412.4 L61.4 412.3 L64.4 412.1 L67.4 412.0 L70.5 411.8 L73.5 411.6 L76.5 411.3 L79.6 411.0 L82.6 410.7 L85.6 410.3 L88.7 409.8 L91.7 409.2 L94.7 408.5 L97.7 407.7 L100.8 406.6 L103.8 405.4 L106.8 403.8 L109.9 401.8 L112.9 399.3 L115.9 396.1 L119.0 392.0 L122.0 386.6 L125.0 379.6 L128.0 370.5 L131.1 358.7 L134.1 343.9 L137.1 326.2 L140.2 306.8 L143.2 288.9 L146.2 276.2 L149.2 271.8 L152.3 276.2 L155.3 288.9 L158.3 306.8 L161.4 326.2 L164.4 343.9 L167.4 358.7 L170.5 370.5 L173.5 379.6 L176.5 386.6 L179.6 392.0 L182.6 396.1 L185.6 399.3 L188.6 401.8 L191.7 403.8 L194.7 405.4 L197.7 406.6 L200.8 407.7 L203.8 408.5 L206.8 409.2 L209.9 409.8 L212.9 410.3 L215.9 410.7 L218.9 411.0 L222.0 411.3 L225.0 411.6" stroke="#e8601e" stroke-width="1" fill="none"/>
<path d="M43.2 422.7 v-4 M43.2 237.5 v4 M103.8 422.7 v-4 M103.8 237.5 v4 M164.4 422.7 v-4 M164.4 237.5 v4 M225.0 422.7 v-4 M225.0 237.5 v4 M73.5 422.7 v-2.5 M73.5 237.5 v2.5 M134.1 422.7 v-2.5 M134.1 237.5 v2.5 M194.7 422.7 v-2.5 M194.7 237.5 v2.5 M43.2 413.5 h4 M225.0 413.5 h-4 M43.2 369.5 h4 M225.0 369.5 h-4 M43.2 325.5 h4 M225.0 325.5 h-4 M43.2 281.5 h4 M225.0 281.5 h-4 M43.2 237.5 h4 M225.0 237.5 h-4 M43.2 391.5 h2.5 M225.0 391.5 h-2.5 M43.2 347.5 h2.5 M225.0 347.5 h-2.5 M43.2 303.5 h2.5 M225.0 303.5 h-2.5 M43.2 259.5 h2.5 M225.0 259.5 h-2.5" stroke="#333" stroke-width="1"/>
<rect x="43.2" y="237.5" width="181.8" height="185.2" fill="none" stroke="#333" stroke-width="1.2"/>
<text x="43.2" y="436.9" font-size="11.6" text-anchor="middle" fill="#222" font-weight="normal" font-style="normal" >0</text>
<text x="103.8" y="436.9" font-size="11.6" text-anchor="middle" fill="#222" font-weight="normal" font-style="normal" >20</text>
<text x="164.4" y="436.9" font-size="11.6" text-anchor="middle" fill="#222" font-weight="normal" font-style="normal" >40</text>
<text x="225.0" y="436.9" font-size="11.6" text-anchor="middle" fill="#222" font-weight="normal" font-style="normal" >60</text>
<text x="38.7" y="417.5" font-size="11.6" text-anchor="end" fill="#222" font-weight="normal" font-style="normal" >0</text>
<text x="38.7" y="373.5" font-size="11.6" text-anchor="end" fill="#222" font-weight="normal" font-style="normal" >10</text>
<text x="38.7" y="329.5" font-size="11.6" text-anchor="end" fill="#222" font-weight="normal" font-style="normal" >20</text>
<text x="38.7" y="285.5" font-size="11.6" text-anchor="end" fill="#222" font-weight="normal" font-style="normal" >30</text>
<text x="38.7" y="241.5" font-size="11.6" text-anchor="end" fill="#222" font-weight="normal" font-style="normal" >40</text>
<text x="150.3" y="247.0" font-size="9.6" text-anchor="start" fill="#222" font-weight="normal" font-style="normal" >Num.</text>
<text x="178.9" y="247.0" font-size="9.6" text-anchor="start" fill="#222" font-weight="normal" font-style="normal" >Fit</text>
<text x="193.5" y="247" font-size="9.6" fill="#222"><tspan font-style="italic">D</tspan><tspan font-size="6.5" font-style="italic" dy="2.5">j</tspan><tspan dy="-2.5"> (nm)</tspan></text>
<circle cx="160.7" cy="258.2" r="2.7" fill="#3a9a2c"/>
<path d="M174.1 258.2 H195.9" stroke="#3a9a2c" stroke-width="1"/>
<text x="199.8" y="261.9" font-size="10" text-anchor="start" fill="#222" font-weight="normal" font-style="normal" >40</text>
<rect x="158.4" y="267.6" width="4.6" height="4.6" fill="#cc1f1a"/>
<path d="M174.1 269.9 H195.9" stroke="#cc1f1a" stroke-width="1"/>
<text x="199.8" y="273.6" font-size="10" text-anchor="start" fill="#222" font-weight="normal" font-style="normal" >50</text>
<path d="M157.7 279.2 h6 l-3 5.2z" fill="#3a86c8"/>
<path d="M174.1 281.6 H195.9" stroke="#3a86c8" stroke-width="1"/>
<text x="199.8" y="285.3" font-size="10" text-anchor="start" fill="#222" font-weight="normal" font-style="normal" >60</text>
<circle cx="160.7" cy="293.3" r="2.7" fill="#e8601e"/>
<path d="M174.1 293.3 H195.9" stroke="#e8601e" stroke-width="1"/>
<text x="199.8" y="297.0" font-size="10" text-anchor="start" fill="#222" font-weight="normal" font-style="normal" >70</text>
<text x="2.0" y="239.5" font-size="14" text-anchor="start" fill="#111" font-weight="bold" font-style="normal" >d</text>
<text x="14.5" y="327" font-size="14.3" fill="#222" text-anchor="middle" transform="rotate(-90 14.5 327)" textLength="72" lengthAdjust="spacing"><tspan font-style="italic">F</tspan><tspan font-size="8.5" font-style="italic" dy="4">jφ</tspan><tspan dy="-4"> (10</tspan><tspan font-size="8.5" dy="-5.5">-13</tspan><tspan dy="5.5"> N)</tspan></text>
<text x="134" y="450.8" font-size="14.3" fill="#222" text-anchor="middle"><tspan font-style="italic">R</tspan><tspan font-size="9" dy="4">c</tspan><tspan dy="-4"> (nm)</tspan></text>
<path d="M329.7 237.4 V422.4" stroke="#777" stroke-width="0.8" stroke-dasharray="3,2.2"/>
<path d="M390.4 237.4 V422.4" stroke="#777" stroke-width="0.8" stroke-dasharray="3,2.2"/>
<path d="M268.9 409.2 H451.2" stroke="#888" stroke-width="0.8" stroke-dasharray="3,2.2"/>
<path d="M268.9 343.1 H451.2" stroke="#888" stroke-width="0.8" stroke-dasharray="3,2.2"/>
<path d="M268.9 277.0 H451.2" stroke="#888" stroke-width="0.8" stroke-dasharray="3,2.2"/>
<clipPath id="ce"><rect x="268.9" y="237.4" width="182.3" height="184.99999999999997"/></clipPath>
<g fill="#3a9a2c" clip-path="url(#ce)"><rect x="269.0" y="416.6" width="3.2" height="3.2"/><rect x="271.2" y="412.1" width="3.2" height="3.2"/><rect x="273.4" y="407.5" width="3.2" height="3.2"/><rect x="275.6" y="403.0" width="3.2" height="3.2"/><rect x="277.8" y="398.5" width="3.2" height="3.2"/><rect x="279.9" y="394.0" width="3.2" height="3.2"/><rect x="282.1" y="389.5" width="3.2" height="3.2"/><rect x="284.3" y="385.0" width="3.2" height="3.2"/><rect x="286.5" y="380.5" width="3.2" height="3.2"/><rect x="288.7" y="376.0" width="3.2" height="3.2"/><rect x="290.9" y="371.5" width="3.2" height="3.2"/><rect x="293.1" y="367.0" width="3.2" height="3.2"/><rect x="295.3" y="362.5" width="3.2" height="3.2"/><rect x="297.4" y="358.0" width="3.2" height="3.2"/><rect x="299.6" y="353.5" width="3.2" height="3.2"/><rect x="301.8" y="349.0" width="3.2" height="3.2"/><rect x="304.0" y="344.5" width="3.2" height="3.2"/><rect x="306.2" y="340.0" width="3.2" height="3.2"/><rect x="308.4" y="335.5" width="3.2" height="3.2"/><rect x="310.6" y="331.1" width="3.2" height="3.2"/><rect x="312.8" y="326.6" width="3.2" height="3.2"/><rect x="314.9" y="322.2" width="3.2" height="3.2"/><rect x="317.1" y="317.8" width="3.2" height="3.2"/><rect x="319.3" y="313.5" width="3.2" height="3.2"/><rect x="321.5" y="309.3" width="3.2" height="3.2"/><rect x="323.7" y="305.3" width="3.2" height="3.2"/><rect x="325.9" y="302.0" width="3.2" height="3.2"/><rect x="328.1" y="300.5" width="3.2" height="3.2"/><rect x="330.3" y="302.0" width="3.2" height="3.2"/><rect x="332.4" y="305.3" width="3.2" height="3.2"/><rect x="334.6" y="309.3" width="3.2" height="3.2"/><rect x="336.8" y="313.5" width="3.2" height="3.2"/><rect x="339.0" y="317.8" width="3.2" height="3.2"/><rect x="341.2" y="322.2" width="3.2" height="3.2"/><rect x="343.4" y="326.6" width="3.2" height="3.2"/><rect x="345.6" y="331.1" width="3.2" height="3.2"/><rect x="347.8" y="335.5" width="3.2" height="3.2"/><rect x="349.9" y="340.0" width="3.2" height="3.2"/><rect x="352.1" y="344.5" width="3.2" height="3.2"/><rect x="354.3" y="349.0" width="3.2" height="3.2"/><rect x="356.5" y="353.5" width="3.2" height="3.2"/><rect x="358.7" y="358.0" width="3.2" height="3.2"/><rect x="360.9" y="362.5" width="3.2" height="3.2"/><rect x="363.1" y="367.0" width="3.2" height="3.2"/><rect x="365.3" y="371.5" width="3.2" height="3.2"/><rect x="367.4" y="376.0" width="3.2" height="3.2"/><rect x="369.6" y="380.5" width="3.2" height="3.2"/><rect x="371.8" y="385.0" width="3.2" height="3.2"/><rect x="374.0" y="389.5" width="3.2" height="3.2"/><rect x="376.2" y="394.0" width="3.2" height="3.2"/><rect x="378.4" y="398.5" width="3.2" height="3.2"/><rect x="380.6" y="403.0" width="3.2" height="3.2"/><rect x="382.8" y="407.5" width="3.2" height="3.2"/><rect x="384.9" y="412.1" width="3.2" height="3.2"/><rect x="387.1" y="416.6" width="3.2" height="3.2"/><rect x="389.3" y="421.1" width="3.2" height="3.2"/></g>
<g fill="#e8601e" clip-path="url(#ce)"><circle cx="304.9" cy="422.7" r="1.7"/><circle cx="307.1" cy="418.2" r="1.7"/><circle cx="309.2" cy="413.7" r="1.7"/><circle cx="311.4" cy="409.1" r="1.7"/><circle cx="313.6" cy="404.6" r="1.7"/><circle cx="315.8" cy="400.1" r="1.7"/><circle cx="318.0" cy="395.6" r="1.7"/><circle cx="320.2" cy="391.1" r="1.7"/><circle cx="322.4" cy="386.6" r="1.7"/><circle cx="324.6" cy="382.1" r="1.7"/><circle cx="326.7" cy="377.6" r="1.7"/><circle cx="328.9" cy="373.1" r="1.7"/><circle cx="331.1" cy="368.6" r="1.7"/><circle cx="333.3" cy="364.1" r="1.7"/><circle cx="335.5" cy="359.6" r="1.7"/><circle cx="337.7" cy="355.1" r="1.7"/><circle cx="339.9" cy="350.6" r="1.7"/><circle cx="342.1" cy="346.1" r="1.7"/><circle cx="344.3" cy="341.6" r="1.7"/><circle cx="346.4" cy="337.1" r="1.7"/><circle cx="348.6" cy="332.7" r="1.7"/><circle cx="350.8" cy="328.2" r="1.7"/><circle cx="353.0" cy="323.8" r="1.7"/><circle cx="355.2" cy="319.4" r="1.7"/><circle cx="357.4" cy="315.1" r="1.7"/><circle cx="359.6" cy="310.9" r="1.7"/><circle cx="361.8" cy="306.9" r="1.7"/><circle cx="363.9" cy="303.6" r="1.7"/><circle cx="366.1" cy="302.1" r="1.7"/><circle cx="368.3" cy="303.6" r="1.7"/><circle cx="370.5" cy="306.9" r="1.7"/><circle cx="372.7" cy="310.9" r="1.7"/><circle cx="374.9" cy="315.1" r="1.7"/><circle cx="377.1" cy="319.4" r="1.7"/><circle cx="379.3" cy="323.8" r="1.7"/><circle cx="381.4" cy="328.2" r="1.7"/><circle cx="383.6" cy="332.7" r="1.7"/><circle cx="385.8" cy="337.1" r="1.7"/><circle cx="388.0" cy="341.6" r="1.7"/><circle cx="390.2" cy="346.1" r="1.7"/><circle cx="392.4" cy="350.6" r="1.7"/><circle cx="394.6" cy="355.1" r="1.7"/><circle cx="396.8" cy="359.6" r="1.7"/><circle cx="398.9" cy="364.1" r="1.7"/><circle cx="401.1" cy="368.6" r="1.7"/><circle cx="403.3" cy="373.1" r="1.7"/><circle cx="405.5" cy="377.6" r="1.7"/><circle cx="407.7" cy="382.1" r="1.7"/><circle cx="409.9" cy="386.6" r="1.7"/><circle cx="412.1" cy="391.1" r="1.7"/><circle cx="414.3" cy="395.6" r="1.7"/><circle cx="416.4" cy="400.1" r="1.7"/><circle cx="418.6" cy="404.6" r="1.7"/><circle cx="420.8" cy="409.1" r="1.7"/><circle cx="423.0" cy="413.7" r="1.7"/><circle cx="425.2" cy="418.2" r="1.7"/><circle cx="427.4" cy="422.7" r="1.7"/></g>
<g fill="#3a86c8" clip-path="url(#ce)"><path d="M327.1 424.3 h4.2 l-2.1 -3.8z"/><path d="M329.3 419.8 h4.2 l-2.1 -3.8z"/><path d="M331.5 415.3 h4.2 l-2.1 -3.8z"/><path d="M333.6 410.7 h4.2 l-2.1 -3.8z"/><path d="M335.8 406.2 h4.2 l-2.1 -3.8z"/><path d="M338.0 401.7 h4.2 l-2.1 -3.8z"/><path d="M340.2 397.2 h4.2 l-2.1 -3.8z"/><path d="M342.4 392.7 h4.2 l-2.1 -3.8z"/><path d="M344.6 388.2 h4.2 l-2.1 -3.8z"/><path d="M346.8 383.7 h4.2 l-2.1 -3.8z"/><path d="M349.0 379.2 h4.2 l-2.1 -3.8z"/><path d="M351.1 374.7 h4.2 l-2.1 -3.8z"/><path d="M353.3 370.2 h4.2 l-2.1 -3.8z"/><path d="M355.5 365.7 h4.2 l-2.1 -3.8z"/><path d="M357.7 361.2 h4.2 l-2.1 -3.8z"/><path d="M359.9 356.7 h4.2 l-2.1 -3.8z"/><path d="M362.1 352.2 h4.2 l-2.1 -3.8z"/><path d="M364.3 347.7 h4.2 l-2.1 -3.8z"/><path d="M366.5 343.2 h4.2 l-2.1 -3.8z"/><path d="M368.6 338.7 h4.2 l-2.1 -3.8z"/><path d="M370.8 334.3 h4.2 l-2.1 -3.8z"/><path d="M373.0 329.8 h4.2 l-2.1 -3.8z"/><path d="M375.2 325.4 h4.2 l-2.1 -3.8z"/><path d="M377.4 321.0 h4.2 l-2.1 -3.8z"/><path d="M379.6 316.7 h4.2 l-2.1 -3.8z"/><path d="M381.8 312.5 h4.2 l-2.1 -3.8z"/><path d="M384.0 308.5 h4.2 l-2.1 -3.8z"/><path d="M386.1 305.2 h4.2 l-2.1 -3.8z"/><path d="M388.3 303.8 h4.2 l-2.1 -3.8z"/><path d="M390.5 305.2 h4.2 l-2.1 -3.8z"/><path d="M392.7 308.5 h4.2 l-2.1 -3.8z"/><path d="M394.9 312.5 h4.2 l-2.1 -3.8z"/><path d="M397.1 316.7 h4.2 l-2.1 -3.8z"/><path d="M399.3 321.0 h4.2 l-2.1 -3.8z"/><path d="M401.5 325.4 h4.2 l-2.1 -3.8z"/><path d="M403.6 329.8 h4.2 l-2.1 -3.8z"/><path d="M405.8 334.3 h4.2 l-2.1 -3.8z"/><path d="M408.0 338.7 h4.2 l-2.1 -3.8z"/><path d="M410.2 343.2 h4.2 l-2.1 -3.8z"/><path d="M412.4 347.7 h4.2 l-2.1 -3.8z"/><path d="M414.6 352.2 h4.2 l-2.1 -3.8z"/><path d="M416.8 356.7 h4.2 l-2.1 -3.8z"/><path d="M419.0 361.2 h4.2 l-2.1 -3.8z"/><path d="M421.1 365.7 h4.2 l-2.1 -3.8z"/><path d="M423.3 370.2 h4.2 l-2.1 -3.8z"/><path d="M425.5 374.7 h4.2 l-2.1 -3.8z"/><path d="M427.7 379.2 h4.2 l-2.1 -3.8z"/><path d="M429.9 383.7 h4.2 l-2.1 -3.8z"/><path d="M432.1 388.2 h4.2 l-2.1 -3.8z"/><path d="M434.3 392.7 h4.2 l-2.1 -3.8z"/><path d="M436.5 397.2 h4.2 l-2.1 -3.8z"/><path d="M438.6 401.7 h4.2 l-2.1 -3.8z"/><path d="M440.8 406.2 h4.2 l-2.1 -3.8z"/><path d="M443.0 410.7 h4.2 l-2.1 -3.8z"/><path d="M445.2 415.3 h4.2 l-2.1 -3.8z"/><path d="M447.4 419.8 h4.2 l-2.1 -3.8z"/><path d="M449.6 424.3 h4.2 l-2.1 -3.8z"/></g>
<path d="M268.9 409.2 L426.9 237.4" stroke="#c8281e" stroke-width="1.4"/>
<path d="M268.9 422.4 v-4 M268.9 237.4 v4 M329.7 422.4 v-4 M329.7 237.4 v4 M390.4 422.4 v-4 M390.4 237.4 v4 M451.2 422.4 v-4 M451.2 237.4 v4 M299.3 422.4 v-2.5 M299.3 237.4 v2.5 M360.0 422.4 v-2.5 M360.0 237.4 v2.5 M420.8 422.4 v-2.5 M420.8 237.4 v2.5 M268.9 409.2 h4 M451.2 409.2 h-4 M268.9 343.1 h4 M451.2 343.1 h-4 M268.9 277.0 h4 M451.2 277.0 h-4 M268.9 376.1 h2.5 M451.2 376.1 h-2.5 M268.9 310.1 h2.5 M451.2 310.1 h-2.5 M268.9 244.0 h2.5 M451.2 244.0 h-2.5" stroke="#333" stroke-width="1"/>
<rect x="268.9" y="237.4" width="182.3" height="185.0" fill="none" stroke="#333" stroke-width="1.2"/>
<text x="268.9" y="436.6" font-size="11.6" text-anchor="middle" fill="#222" font-weight="normal" font-style="normal" >15</text>
<text x="329.7" y="436.6" font-size="11.6" text-anchor="middle" fill="#222" font-weight="normal" font-style="normal" >20</text>
<text x="390.4" y="436.6" font-size="11.6" text-anchor="middle" fill="#222" font-weight="normal" font-style="normal" >25</text>
<text x="451.2" y="436.6" font-size="11.6" text-anchor="middle" fill="#222" font-weight="normal" font-style="normal" >30</text>
<text x="264.4" y="413.2" font-size="11.6" text-anchor="end" fill="#222" font-weight="normal" font-style="normal" >15</text>
<text x="264.4" y="347.1" font-size="11.6" text-anchor="end" fill="#222" font-weight="normal" font-style="normal" >20</text>
<text x="264.4" y="281.0" font-size="11.6" text-anchor="end" fill="#222" font-weight="normal" font-style="normal" >25</text>
<text x="229.5" y="239.5" font-size="14" text-anchor="start" fill="#111" font-weight="bold" font-style="normal" >e</text>
<text x="281.9" y="250.9" font-size="10.5" fill="#222" font-style="italic">y <tspan font-style="normal">=</tspan> b</text>
<rect x="283.4" y="260.0" width="3.2" height="3.2" fill="#3a9a2c"/>
<text x="301" y="265.3" font-size="10.5" fill="#222"><tspan font-style="italic">D</tspan><tspan font-size="7" font-style="italic" dy="3">j</tspan><tspan dy="-3"> = 40 nm</tspan></text>
<circle cx="285" cy="278.8" r="1.7" fill="#e8601e"/>
<text x="301" y="282.5" font-size="10.5" fill="#222"><tspan font-style="italic">D</tspan><tspan font-size="7" font-style="italic" dy="3">j</tspan><tspan dy="-3"> = 46 nm</tspan></text>
<path d="M282.9 297.6 h4.2 l-2.1 -3.8z" fill="#3a86c8"/>
<text x="301" y="299.7" font-size="10.5" fill="#222"><tspan font-style="italic">D</tspan><tspan font-size="7" font-style="italic" dy="3">j</tspan><tspan dy="-3"> = 50 nm</tspan></text>
<path d="M388.3 285.5 H414.7" stroke="#c8281e" stroke-width="1.4"/>
<text x="417" y="289" font-size="10.5" fill="#222"><tspan font-style="italic">y</tspan> = <tspan font-style="italic">R</tspan><tspan font-size="7" dy="3">c</tspan></text>
<text x="238" y="323.7" font-size="14.3" fill="#222" text-anchor="middle" transform="rotate(-90 238 323.7)" dy="4" textLength="65" lengthAdjust="spacing"><tspan font-style="italic">b</tspan>, <tspan font-style="italic">R</tspan><tspan font-size="9" dy="4">c</tspan><tspan dy="-4"> (nm)</tspan></text>
<text x="361" y="449.6" font-size="14.3" fill="#222" text-anchor="middle"><tspan font-style="italic">R</tspan><tspan font-size="9" dy="4">c</tspan><tspan dy="-4"> (nm)</tspan></text>
<path d="M585.7 237.7 V422.8" stroke="#777" stroke-width="0.8" stroke-dasharray="3,2.2"/>
<path d="M494.7 411.2 H676.7" stroke="#888" stroke-width="0.8" stroke-dasharray="3,2.2"/>
<path d="M494.7 353.4 H676.7" stroke="#888" stroke-width="0.8" stroke-dasharray="3,2.2"/>
<path d="M494.7 295.5 H676.7" stroke="#888" stroke-width="0.8" stroke-dasharray="3,2.2"/>
<rect x="614.9" y="240.7" width="58.1" height="19.2" fill="#d9d9d9"/>
<text x="618.5" y="254.8" font-size="10.4" fill="#e4602a"><tspan font-style="italic">D</tspan><tspan font-size="6.5" font-style="italic" dy="2.5">j</tspan><tspan dy="-2.5"> = 70 nm</tspan></text>
<path d="M494.7 353.4 L494.9 407.1 L495.1 407.4 L495.3 408.9 L495.5 409.1 L495.7 408.9 L495.9 408.8 L496.1 409.3 L496.3 408.5 L496.5 405.6 L496.7 406.5 L496.9 409.3 L497.1 408.6 L497.3 409.3 L497.5 409.1 L497.7 409.0 L497.9 408.4 L498.1 409.2 L498.3 409.3 L498.5 408.6 L498.7 408.3 L499.0 406.6 L499.2 409.1 L499.4 408.7 L499.6 405.3 L499.8 408.4 L500.0 409.0 L500.2 407.5 L500.4 406.7 L500.6 409.3 L500.8 408.2 L501.0 409.2 L501.2 408.5 L501.4 409.1 L501.6 408.6 L501.8 409.2 L502.0 408.9 L502.2 407.9 L502.4 409.3 L502.6 408.4 L502.8 409.2 L503.0 409.3 L503.2 407.8 L503.4 407.3 L503.6 408.7 L503.8 408.4 L504.0 405.9 L504.2 409.4 L504.4 408.9 L504.6 408.6 L504.8 407.0 L505.0 408.4 L505.2 408.8 L505.4 409.1 L505.6 408.1 L505.8 407.2 L506.0 408.8 L506.2 408.8 L506.4 405.8 L506.6 409.2 L506.8 409.3 L507.0 408.5 L507.3 409.1 L507.5 409.4 L507.7 409.2 L507.9 408.3 L508.1 408.9 L508.3 409.4 L508.5 409.0 L508.7 409.0 L508.9 407.9 L509.1 408.9 L509.3 409.4 L509.5 408.8 L509.7 407.4 L509.9 405.7 L510.1 406.5 L510.3 408.3 L510.5 409.1 L510.7 409.4 L510.9 408.1 L511.1 407.4 L511.3 407.4 L511.5 408.9 L511.7 407.3 L511.9 406.4 L512.1 409.3 L512.3 407.3 L512.5 409.4 L512.7 406.6 L512.9 404.8 L513.1 405.7 L513.3 408.9 L513.5 408.7 L513.7 406.4 L513.9 409.1 L514.1 408.6 L514.3 409.3 L514.5 409.5 L514.7 409.4 L514.9 408.6 L515.1 409.2 L515.3 409.2 L515.6 409.4 L515.8 409.3 L516.0 407.2 L516.2 409.0 L516.4 407.4 L516.6 409.3 L516.8 406.7 L517.0 407.1 L517.2 408.9 L517.4 404.3 L517.6 409.4 L517.8 409.0 L518.0 406.7 L518.2 407.0 L518.4 402.2 L518.6 408.3 L518.8 408.7 L519.0 408.8 L519.2 408.3 L519.4 409.2 L519.6 409.1 L519.8 409.2 L520.0 407.6 L520.2 409.3 L520.4 408.1 L520.6 409.0 L520.8 409.1 L521.0 404.0 L521.2 406.6 L521.4 408.3 L521.6 408.7 L521.8 408.7 L522.0 408.8 L522.2 406.9 L522.4 408.2 L522.6 407.8 L522.8 409.2 L523.0 408.5 L523.2 408.4 L523.4 408.8 L523.6 407.4 L523.9 408.7 L524.1 409.2 L524.3 409.1 L524.5 409.0 L524.7 404.7 L524.9 409.2 L525.1 409.1 L525.3 407.5 L525.5 408.6 L525.7 408.5 L525.9 408.3 L526.1 404.3 L526.3 408.2 L526.5 405.0 L526.7 403.8 L526.9 408.1 L527.1 408.9 L527.3 408.8 L527.5 408.6 L527.7 408.6 L527.9 409.0 L528.1 409.1 L528.3 406.1 L528.5 409.1 L528.7 408.2 L528.9 409.1 L529.1 408.7 L529.3 408.4 L529.5 408.0 L529.7 408.9 L529.9 408.9 L530.1 409.1 L530.3 408.7 L530.5 409.0 L530.7 408.6 L530.9 408.8 L531.1 409.1 L531.3 408.4 L531.5 406.5 L531.7 407.7 L532.0 408.0 L532.2 408.0 L532.4 408.8 L532.6 408.3 L532.8 408.7 L533.0 408.2 L533.2 406.9 L533.4 407.5 L533.6 406.0 L533.8 408.8 L534.0 406.4 L534.2 408.8 L534.4 404.8 L534.6 403.6 L534.8 404.8 L535.0 408.1 L535.2 408.0 L535.4 404.9 L535.6 408.4 L535.8 406.6 L536.0 408.0 L536.2 408.4 L536.4 406.6 L536.6 408.4 L536.8 408.2 L537.0 408.4 L537.2 407.5 L537.4 406.5 L537.6 406.9 L537.8 407.6 L538.0 405.4 L538.2 406.4 L538.4 398.5 L538.6 398.6 L538.8 398.3 L539.0 399.4 L539.2 403.4 L539.4 406.6 L539.6 407.8 L539.8 397.8 L540.0 408.0 L540.3 405.5 L540.5 406.8 L540.7 403.2 L540.9 402.8 L541.1 405.7 L541.3 406.2 L541.5 401.7 L541.7 408.0 L541.9 404.9 L542.1 407.7 L542.3 399.7 L542.5 407.9 L542.7 407.2 L542.9 407.3 L543.1 407.5 L543.3 406.8 L543.5 405.6 L543.7 402.2 L543.9 407.6 L544.1 407.6 L544.3 407.3 L544.5 404.8 L544.7 400.1 L544.9 407.1 L545.1 406.0 L545.3 404.9 L545.5 405.9 L545.7 404.2 L545.9 407.0 L546.1 405.7 L546.3 396.5 L546.5 405.3 L546.7 406.1 L546.9 406.1 L547.1 402.3 L547.3 406.9 L547.5 406.1 L547.7 399.9 L547.9 402.1 L548.1 406.3 L548.3 407.4 L548.6 402.3 L548.8 402.1 L549.0 406.7 L549.2 402.3 L549.4 405.7 L549.6 406.4 L549.8 395.4 L550.0 405.1 L550.2 406.8 L550.4 405.3 L550.6 407.0 L550.8 407.2 L551.0 406.0 L551.2 406.8 L551.4 401.5 L551.6 406.9 L551.8 406.5 L552.0 405.5 L552.2 402.2 L552.4 404.5 L552.6 397.7 L552.8 406.3 L553.0 406.4 L553.2 406.1 L553.4 404.7 L553.6 402.2 L553.8 391.1 L554.0 377.7 L554.2 357.4 L554.4 359.1 L554.6 379.1 L554.8 384.5 L555.0 401.3 L555.2 400.5 L555.4 396.9 L555.6 386.0 L555.8 388.5 L556.0 357.4 L556.2 389.3 L556.4 400.8 L556.6 404.1 L556.9 405.9 L557.1 393.5 L557.3 399.6 L557.5 401.8 L557.7 398.9 L557.9 384.8 L558.1 393.4 L558.3 399.5 L558.5 375.0 L558.7 402.9 L558.9 402.6 L559.1 406.7 L559.3 406.7 L559.5 403.2 L559.7 406.6 L559.9 403.8 L560.1 406.4 L560.3 382.7 L560.5 399.7 L560.7 380.4 L560.9 406.5 L561.1 403.0 L561.3 404.6 L561.5 406.4 L561.7 392.6 L561.9 402.6 L562.1 402.9 L562.3 406.4 L562.5 406.6 L562.7 405.9 L562.9 399.5 L563.1 405.0 L563.3 405.8 L563.5 399.7 L563.7 406.3 L563.9 406.5 L564.1 403.5 L564.3 404.8 L564.5 404.5 L564.7 380.7 L564.9 401.9 L565.2 404.8 L565.4 406.2 L565.6 401.7 L565.8 405.4 L566.0 405.7 L566.2 385.6 L566.4 406.1 L566.6 405.0 L566.8 396.5 L567.0 393.9 L567.2 398.3 L567.4 400.7 L567.6 389.5 L567.8 404.8 L568.0 406.5 L568.2 402.4 L568.4 406.4 L568.6 406.3 L568.8 397.8 L569.0 405.5 L569.2 405.5 L569.4 405.7 L569.6 404.4 L569.8 403.6 L570.0 400.4 L570.2 399.5 L570.4 397.9 L570.6 402.0 L570.8 404.0 L571.0 404.8 L571.2 395.7 L571.4 406.9 L571.6 402.7 L571.8 406.1 L572.0 405.4 L572.2 404.4 L572.4 407.0 L572.6 406.7 L572.8 405.3 L573.0 400.9 L573.2 405.5 L573.5 407.1 L573.7 398.2 L573.9 389.9 L574.1 406.3 L574.3 405.9 L574.5 406.4 L574.7 406.2 L574.9 406.7 L575.1 399.3 L575.3 406.8 L575.5 406.6 L575.7 406.8 L575.9 405.3 L576.1 406.3 L576.3 407.3 L576.5 405.1 L576.7 407.6 L576.9 407.4 L577.1 405.5 L577.3 407.7 L577.5 406.6 L577.7 401.4 L577.9 404.5 L578.1 402.9 L578.3 406.4 L578.5 407.8 L578.7 407.2 L578.9 407.6 L579.1 405.1 L579.3 407.9 L579.5 402.1 L579.7 408.0 L579.9 402.7 L580.1 407.9 L580.3 404.1 L580.5 403.9 L580.7 408.1 L580.9 408.1 L581.1 401.7 L581.3 406.6 L581.5 398.3 L581.8 403.1 L582.0 401.1 L582.2 406.9 L582.4 407.6 L582.6 408.2 L582.8 403.8 L583.0 404.6 L583.2 407.7 L583.4 407.0 L583.6 408.2 L583.8 403.8 L584.0 408.1 L584.2 406.5 L584.4 403.1 L584.6 408.1 L584.8 408.5 L585.0 406.4 L585.2 405.2 L585.4 408.1 L585.6 407.5 L585.8 408.2 L586.0 408.4 L586.2 408.5 L586.4 406.6 L586.6 404.1 L586.8 408.6 L587.0 408.7 L587.2 408.1 L587.4 403.4 L587.6 408.9 L587.8 406.9 L588.0 400.9 L588.2 407.9 L588.4 408.9 L588.6 408.9 L588.8 400.4 L589.0 408.1 L589.2 405.0 L589.4 408.1 L589.6 408.2 L589.9 408.2 L590.1 405.5 L590.3 407.7 L590.5 406.3 L590.7 409.1 L590.9 409.3 L591.1 408.2 L591.3 405.8 L591.5 409.3 L591.7 407.5 L591.9 407.0 L592.1 407.8 L592.3 409.1 L592.5 403.8 L592.7 409.4 L592.9 408.0 L593.1 409.3 L593.3 407.5 L593.5 407.8 L593.7 408.7 L593.9 409.3 L594.1 409.0 L594.3 409.4 L594.5 407.6 L594.7 409.6 L594.9 409.4 L595.1 407.5 L595.3 407.8 L595.5 408.9 L595.7 409.5 L595.9 409.6 L596.1 408.2 L596.3 408.3 L596.5 408.7 L596.7 409.5 L596.9 409.6 L597.1 408.9 L597.3 408.9 L597.5 408.9 L597.7 409.7 L597.9 408.3 L598.2 409.6 L598.4 409.8 L598.6 409.4 L598.8 409.8 L599.0 408.9 L599.2 407.9 L599.4 407.4 L599.6 409.0 L599.8 409.8 L600.0 407.6 L600.2 409.3 L600.4 408.0 L600.6 408.5 L600.8 409.0 L601.0 407.3 L601.2 409.1 L601.4 409.5 L601.6 408.8 L601.8 408.4 L602.0 409.8 L602.2 409.9 L602.4 409.6 L602.6 408.8 L602.8 408.9 L603.0 409.0 L603.2 409.6 L603.4 409.7 L603.6 409.5 L603.8 408.7 L604.0 408.1 L604.2 409.5 L604.4 409.9 L604.6 408.2 L604.8 409.6 L605.0 408.9 L605.2 408.7 L605.4 408.8 L605.6 410.0 L605.8 409.9 L606.0 408.8 L606.2 409.8 L606.5 409.8 L606.7 408.3 L606.9 409.8 L607.1 409.5 L607.3 410.0 L607.5 409.6 L607.7 409.7 L607.9 410.0 L608.1 409.6 L608.3 407.7 L608.5 409.2 L608.7 410.0 L608.9 409.1 L609.1 408.3 L609.3 408.6 L609.5 409.2 L609.7 410.0 L609.9 409.0 L610.1 410.0 L610.3 407.6 L610.5 410.0 L610.7 408.5 L610.9 410.0 L611.1 408.9 L611.3 410.0 L611.5 409.1 L611.7 409.5 L611.9 408.8 L612.1 408.5 L612.3 409.7 L612.5 406.8 L612.7 409.5 L612.9 408.0 L613.1 409.5 L613.3 409.2 L613.5 407.5 L613.7 410.1 L613.9 407.8 L614.1 409.9 L614.3 407.5 L614.5 405.1 L614.8 410.0 L615.0 406.2 L615.2 409.8 L615.4 409.5 L615.6 410.2 L615.8 410.1 L616.0 409.8 L616.2 408.0 L616.4 408.8 L616.6 409.9 L616.8 410.1 L617.0 408.5 L617.2 408.1 L617.4 407.3 L617.6 409.4 L617.8 407.8 L618.0 410.3 L618.2 410.2 L618.4 408.4 L618.6 410.2 L618.8 410.1 L619.0 408.4 L619.2 408.8 L619.4 409.5 L619.6 408.6 L619.8 408.3 L620.0 409.2 L620.2 409.5 L620.4 410.3 L620.6 409.3 L620.8 410.3 L621.0 408.9 L621.2 408.2 L621.4 409.4 L621.6 410.3 L621.8 410.3 L622.0 409.1 L622.2 408.7 L622.4 410.4 L622.6 410.3 L622.8 410.1 L623.1 410.1 L623.3 410.1 L623.5 410.3 L623.7 410.2 L623.9 410.1 L624.1 410.4 L624.3 409.9 L624.5 410.4 L624.7 410.2 L624.9 406.8 L625.1 410.1 L625.3 410.3 L625.5 408.7 L625.7 407.3 L625.9 408.1 L626.1 409.2 L626.3 410.4 L626.5 406.4 L626.7 410.2 L626.9 409.2 L627.1 410.3 L627.3 406.4 L627.5 406.8 L627.7 409.5 L627.9 410.4 L628.1 409.1 L628.3 409.4 L628.5 408.6 L628.7 409.3 L628.9 408.8 L629.1 409.9 L629.3 409.4 L629.5 409.8 L629.7 409.4 L629.9 409.8 L630.1 409.3 L630.3 409.8 L630.5 410.4 L630.7 410.2 L630.9 409.7 L631.1 410.4 L631.4 408.0 L631.6 410.3 L631.8 410.3 L632.0 410.0 L632.2 409.2 L632.4 408.4 L632.6 410.3 L632.8 409.4 L633.0 409.0 L633.2 408.5 L633.4 410.4 L633.6 409.8 L633.8 410.5 L634.0 410.0 L634.2 410.3 L634.4 408.7 L634.6 410.3 L634.8 410.4 L635.0 410.3 L635.2 410.5 L635.4 409.9 L635.6 409.8 L635.8 410.3 L636.0 410.5 L636.2 406.9 L636.4 410.3 L636.6 410.4 L636.8 407.8 L637.0 410.5 L637.2 409.6 L637.4 410.1 L637.6 409.8 L637.8 410.3 L638.0 410.4 L638.2 410.5 L638.4 410.0 L638.6 410.2 L638.8 410.2 L639.0 409.5 L639.2 410.1 L639.4 410.2 L639.7 407.9 L639.9 410.2 L640.1 409.0 L640.3 409.3 L640.5 410.5 L640.7 409.1 L640.9 410.3 L641.1 410.1 L641.3 409.8 L641.5 410.5 L641.7 409.5 L641.9 409.2 L642.1 409.7 L642.3 409.2 L642.5 410.5 L642.7 410.2 L642.9 410.4 L643.1 408.4 L643.3 409.8 L643.5 408.6 L643.7 410.5 L643.9 410.5 L644.1 410.5 L644.3 410.3 L644.5 409.2 L644.7 410.0 L644.9 409.9 L645.1 410.4 L645.3 410.2 L645.5 410.1 L645.7 410.1 L645.9 410.4 L646.1 410.2 L646.3 409.9 L646.5 410.4 L646.7 409.9 L646.9 410.5 L647.1 410.5 L647.3 410.5 L647.5 410.5 L647.8 410.5 L648.0 408.6 L648.2 409.0 L648.4 410.1 L648.6 410.3 L648.8 409.5 L649.0 410.5 L649.2 410.6 L649.4 410.3 L649.6 409.1 L649.8 410.5 L650.0 409.7 L650.2 410.0 L650.4 409.5 L650.6 409.8 L650.8 410.2 L651.0 410.4 L651.2 410.6 L651.4 410.2 L651.6 410.2 L651.8 409.9 L652.0 408.7 L652.2 409.7 L652.4 409.9 L652.6 409.4 L652.8 410.5 L653.0 410.3 L653.2 408.5 L653.4 407.6 L653.6 410.1 L653.8 409.7 L654.0 409.7 L654.2 409.8 L654.4 409.8 L654.6 409.4 L654.8 410.0 L655.0 409.9 L655.2 410.5 L655.4 410.2 L655.6 410.6 L655.8 409.8 L656.1 409.6 L656.3 410.5 L656.5 409.6 L656.7 408.3 L656.9 409.0 L657.1 410.1 L657.3 410.6 L657.5 410.3 L657.7 408.5 L657.9 410.6 L658.1 409.7 L658.3 409.7 L658.5 410.3 L658.7 410.6 L658.9 410.4 L659.1 410.3 L659.3 410.6 L659.5 410.1 L659.7 410.4 L659.9 410.6 L660.1 409.9 L660.3 410.2 L660.5 407.4 L660.7 410.5 L660.9 408.6 L661.1 410.5 L661.3 410.6 L661.5 410.2 L661.7 410.5 L661.9 410.5 L662.1 410.5 L662.3 410.7 L662.5 410.6 L662.7 410.4 L662.9 410.0 L663.1 410.7 L663.3 410.2 L663.5 410.4 L663.7 410.5 L663.9 410.5 L664.1 408.0 L664.4 410.6 L664.6 410.1 L664.8 409.0 L665.0 410.7 L665.2 410.6 L665.4 410.1 L665.6 409.4 L665.8 410.6 L666.0 410.6 L666.2 410.7 L666.4 410.0 L666.6 410.1 L666.8 410.7 L667.0 409.4 L667.2 410.7 L667.4 409.4 L667.6 410.2 L667.8 410.7 L668.0 410.3 L668.2 410.2 L668.4 409.8 L668.6 410.7 L668.8 410.5 L669.0 409.8 L669.2 410.3 L669.4 410.7 L669.6 410.7 L669.8 410.7 L670.0 410.1 L670.2 410.5 L670.4 410.6 L670.6 410.7 L670.8 410.7 L671.0 410.7 L671.2 409.0 L671.4 410.5 L671.6 410.7 L671.8 410.7 L672.0 410.5 L672.2 410.6 L672.4 410.6 L672.7 410.3 L672.9 409.8 L673.1 410.8 L673.3 410.1 L673.5 410.7 L673.7 410.2 L673.9 410.4 L674.1 410.8 L674.3 410.0 L674.5 410.6 L674.7 410.7 L674.9 410.0 L675.1 410.4 L675.3 409.2 L675.5 410.7 L675.7 410.7 L675.9 410.1 L676.1 409.2 L676.3 410.1 L676.5 408.7 L676.7 409.9" stroke="#3a86c8" stroke-width="0.8" fill="none" stroke-linejoin="round"/>
<path d="M494.7 295.5 L494.9 350.0 L495.1 350.7 L495.3 350.7 L495.5 348.5 L495.7 349.7 L495.9 350.9 L496.1 349.4 L496.3 351.4 L496.5 350.1 L496.7 351.5 L496.9 351.1 L497.1 347.5 L497.3 351.4 L497.5 350.4 L497.7 348.0 L497.9 350.4 L498.1 350.3 L498.3 351.5 L498.5 350.9 L498.7 350.8 L499.0 351.3 L499.2 351.1 L499.4 351.5 L499.6 350.9 L499.8 350.9 L500.0 351.3 L500.2 350.7 L500.4 350.7 L500.6 348.5 L500.8 350.5 L501.0 350.9 L501.2 351.0 L501.4 349.3 L501.6 351.5 L501.8 351.4 L502.0 351.4 L502.2 351.1 L502.4 351.5 L502.6 347.8 L502.8 351.2 L503.0 351.0 L503.2 350.3 L503.4 351.5 L503.6 351.0 L503.8 351.0 L504.0 351.3 L504.2 347.4 L504.4 351.3 L504.6 351.1 L504.8 351.3 L505.0 351.2 L505.2 350.2 L505.4 351.1 L505.6 349.6 L505.8 348.5 L506.0 350.0 L506.2 349.8 L506.4 350.0 L506.6 346.1 L506.8 351.5 L507.0 351.6 L507.3 351.0 L507.5 350.4 L507.7 348.7 L507.9 350.5 L508.1 351.3 L508.3 351.2 L508.5 348.7 L508.7 347.5 L508.9 351.4 L509.1 351.5 L509.3 351.6 L509.5 350.9 L509.7 349.6 L509.9 351.5 L510.1 351.0 L510.3 350.0 L510.5 349.8 L510.7 351.5 L510.9 350.9 L511.1 350.8 L511.3 351.1 L511.5 350.7 L511.7 350.7 L511.9 348.0 L512.1 350.8 L512.3 351.3 L512.5 351.1 L512.7 348.8 L512.9 349.8 L513.1 351.3 L513.3 351.5 L513.5 351.5 L513.7 350.8 L513.9 349.0 L514.1 350.2 L514.3 351.6 L514.5 350.7 L514.7 351.4 L514.9 346.2 L515.1 350.9 L515.3 351.5 L515.6 350.8 L515.8 351.4 L516.0 351.5 L516.2 351.6 L516.4 350.1 L516.6 351.6 L516.8 351.4 L517.0 351.1 L517.2 346.6 L517.4 351.3 L517.6 351.1 L517.8 348.4 L518.0 349.1 L518.2 350.8 L518.4 349.2 L518.6 351.5 L518.8 350.0 L519.0 350.3 L519.2 350.6 L519.4 350.4 L519.6 348.7 L519.8 351.1 L520.0 351.4 L520.2 344.0 L520.4 350.8 L520.6 351.0 L520.8 351.4 L521.0 348.0 L521.2 350.3 L521.4 348.0 L521.6 351.4 L521.8 350.8 L522.0 349.2 L522.2 350.8 L522.4 350.7 L522.6 351.3 L522.8 351.1 L523.0 351.2 L523.2 351.1 L523.4 350.6 L523.6 350.7 L523.9 346.1 L524.1 349.1 L524.3 351.2 L524.5 351.3 L524.7 349.5 L524.9 351.1 L525.1 349.7 L525.3 351.0 L525.5 351.2 L525.7 350.3 L525.9 351.0 L526.1 349.5 L526.3 351.2 L526.5 349.0 L526.7 349.5 L526.9 351.3 L527.1 351.0 L527.3 350.1 L527.5 349.8 L527.7 351.3 L527.9 351.1 L528.1 351.1 L528.3 348.5 L528.5 351.1 L528.7 351.0 L528.9 349.9 L529.1 350.5 L529.3 350.2 L529.5 349.5 L529.7 350.2 L529.9 350.2 L530.1 351.2 L530.3 350.4 L530.5 344.6 L530.7 347.6 L530.9 345.9 L531.1 349.4 L531.3 345.1 L531.5 350.5 L531.7 347.9 L532.0 351.1 L532.2 350.8 L532.4 350.9 L532.6 351.1 L532.8 348.5 L533.0 349.9 L533.2 351.0 L533.4 349.5 L533.6 349.0 L533.8 350.8 L534.0 350.7 L534.2 350.7 L534.4 350.0 L534.6 348.5 L534.8 350.8 L535.0 350.0 L535.2 346.1 L535.4 347.8 L535.6 346.7 L535.8 348.2 L536.0 350.3 L536.2 350.4 L536.4 350.0 L536.6 349.8 L536.8 349.3 L537.0 350.4 L537.2 350.6 L537.4 350.6 L537.6 350.6 L537.8 350.2 L538.0 349.1 L538.2 345.3 L538.4 345.5 L538.6 341.5 L538.8 340.7 L539.0 342.8 L539.2 345.6 L539.4 341.9 L539.6 349.8 L539.8 350.3 L540.0 348.3 L540.3 350.0 L540.5 349.3 L540.7 344.6 L540.9 349.9 L541.1 349.3 L541.3 342.2 L541.5 345.9 L541.7 348.1 L541.9 347.4 L542.1 349.1 L542.3 349.9 L542.5 350.0 L542.7 349.7 L542.9 348.2 L543.1 338.1 L543.3 349.1 L543.5 349.9 L543.7 348.9 L543.9 341.9 L544.1 349.7 L544.3 348.1 L544.5 347.9 L544.7 344.6 L544.9 349.9 L545.1 340.4 L545.3 349.7 L545.5 347.1 L545.7 348.1 L545.9 341.8 L546.1 349.3 L546.3 338.6 L546.5 342.9 L546.7 347.9 L546.9 347.0 L547.1 349.4 L547.3 343.9 L547.5 345.1 L547.7 349.3 L547.9 342.4 L548.1 348.7 L548.3 339.4 L548.6 347.0 L548.8 345.2 L549.0 339.0 L549.2 346.7 L549.4 346.9 L549.6 349.2 L549.8 346.0 L550.0 343.7 L550.2 345.7 L550.4 326.7 L550.6 348.1 L550.8 345.9 L551.0 348.7 L551.2 349.2 L551.4 341.7 L551.6 344.5 L551.8 345.6 L552.0 349.1 L552.2 348.8 L552.4 347.6 L552.6 341.1 L552.8 332.5 L553.0 348.3 L553.2 343.4 L553.4 347.8 L553.6 344.9 L553.8 335.6 L554.0 313.1 L554.2 307.7 L554.4 307.6 L554.6 318.6 L554.8 335.1 L555.0 338.1 L555.2 342.6 L555.4 339.2 L555.6 320.3 L555.8 330.4 L556.0 322.6 L556.2 338.3 L556.4 339.9 L556.6 346.8 L556.9 346.4 L557.1 331.6 L557.3 346.6 L557.5 335.1 L557.7 339.0 L557.9 337.4 L558.1 320.8 L558.3 341.7 L558.5 336.7 L558.7 331.0 L558.9 341.2 L559.1 345.6 L559.3 346.2 L559.5 348.7 L559.7 348.8 L559.9 347.4 L560.1 348.5 L560.3 348.7 L560.5 345.5 L560.7 328.7 L560.9 344.4 L561.1 347.1 L561.3 344.7 L561.5 342.1 L561.7 345.8 L561.9 345.2 L562.1 345.3 L562.3 346.5 L562.5 347.4 L562.7 348.6 L562.9 331.3 L563.1 347.7 L563.3 348.4 L563.5 347.7 L563.7 338.8 L563.9 347.9 L564.1 339.4 L564.3 341.3 L564.5 348.6 L564.7 345.6 L564.9 348.7 L565.2 348.7 L565.4 346.4 L565.6 348.0 L565.8 346.6 L566.0 344.6 L566.2 328.3 L566.4 344.3 L566.6 348.5 L566.8 342.9 L567.0 348.6 L567.2 347.5 L567.4 338.2 L567.6 320.4 L567.8 338.8 L568.0 348.4 L568.2 336.4 L568.4 325.3 L568.6 348.1 L568.8 344.2 L569.0 344.3 L569.2 348.4 L569.4 348.4 L569.6 343.1 L569.8 344.7 L570.0 339.0 L570.2 336.6 L570.4 340.6 L570.6 341.6 L570.8 344.4 L571.0 341.2 L571.2 348.5 L571.4 349.0 L571.6 348.3 L571.8 339.6 L572.0 347.5 L572.2 348.5 L572.4 349.0 L572.6 340.6 L572.8 347.5 L573.0 348.3 L573.2 347.7 L573.5 348.8 L573.7 347.7 L573.9 337.8 L574.1 348.8 L574.3 345.6 L574.5 344.7 L574.7 345.1 L574.9 349.3 L575.1 338.7 L575.3 349.5 L575.5 349.0 L575.7 349.5 L575.9 346.0 L576.1 346.3 L576.3 334.6 L576.5 348.7 L576.7 348.9 L576.9 345.0 L577.1 349.1 L577.3 348.0 L577.5 349.4 L577.7 344.6 L577.9 345.3 L578.1 346.4 L578.3 349.6 L578.5 345.3 L578.7 349.5 L578.9 342.7 L579.1 347.9 L579.3 349.6 L579.5 350.1 L579.7 349.8 L579.9 349.5 L580.1 348.9 L580.3 350.1 L580.5 349.1 L580.7 348.3 L580.9 346.4 L581.1 347.8 L581.3 348.8 L581.5 349.1 L581.8 349.4 L582.0 347.8 L582.2 347.7 L582.4 348.5 L582.6 349.4 L582.8 345.8 L583.0 349.2 L583.2 348.5 L583.4 348.5 L583.6 341.1 L583.8 350.2 L584.0 347.3 L584.2 349.1 L584.4 350.6 L584.6 350.7 L584.8 348.6 L585.0 342.7 L585.2 349.6 L585.4 348.6 L585.6 346.3 L585.8 348.6 L586.0 349.1 L586.2 349.6 L586.4 349.9 L586.6 350.4 L586.8 350.3 L587.0 348.2 L587.2 350.8 L587.4 350.6 L587.6 349.2 L587.8 351.1 L588.0 351.1 L588.2 350.9 L588.4 349.5 L588.6 349.9 L588.8 350.4 L589.0 348.5 L589.2 351.2 L589.4 350.1 L589.6 351.2 L589.9 350.9 L590.1 349.2 L590.3 351.3 L590.5 351.2 L590.7 350.7 L590.9 351.0 L591.1 351.4 L591.3 346.4 L591.5 350.9 L591.7 351.3 L591.9 350.8 L592.1 351.6 L592.3 351.0 L592.5 347.8 L592.7 351.0 L592.9 351.5 L593.1 350.9 L593.3 350.0 L593.5 351.6 L593.7 349.2 L593.9 350.6 L594.1 351.8 L594.3 351.7 L594.5 347.5 L594.7 350.8 L594.9 351.8 L595.1 349.2 L595.3 351.8 L595.5 351.5 L595.7 351.8 L595.9 351.3 L596.1 349.4 L596.3 351.7 L596.5 351.6 L596.7 351.6 L596.9 351.7 L597.1 351.5 L597.3 351.8 L597.5 348.2 L597.7 351.9 L597.9 351.6 L598.2 351.7 L598.4 351.8 L598.6 351.8 L598.8 349.7 L599.0 351.9 L599.2 350.6 L599.4 351.9 L599.6 351.8 L599.8 348.4 L600.0 350.9 L600.2 347.4 L600.4 352.0 L600.6 349.5 L600.8 350.9 L601.0 351.5 L601.2 351.1 L601.4 351.2 L601.6 352.0 L601.8 350.1 L602.0 351.9 L602.2 350.7 L602.4 349.7 L602.6 350.9 L602.8 352.1 L603.0 352.0 L603.2 352.1 L603.4 351.4 L603.6 349.8 L603.8 348.7 L604.0 351.3 L604.2 351.4 L604.4 347.5 L604.6 352.0 L604.8 350.2 L605.0 350.0 L605.2 345.7 L605.4 349.7 L605.6 351.8 L605.8 352.1 L606.0 349.9 L606.2 352.1 L606.5 352.0 L606.7 351.3 L606.9 352.1 L607.1 348.5 L607.3 352.2 L607.5 351.8 L607.7 347.9 L607.9 350.2 L608.1 351.9 L608.3 350.1 L608.5 352.0 L608.7 351.6 L608.9 350.6 L609.1 351.8 L609.3 352.2 L609.5 351.4 L609.7 352.2 L609.9 351.8 L610.1 351.6 L610.3 352.1 L610.5 350.9 L610.7 352.2 L610.9 351.9 L611.1 350.2 L611.3 352.0 L611.5 350.7 L611.7 352.3 L611.9 352.2 L612.1 352.2 L612.3 352.2 L612.5 351.2 L612.7 352.3 L612.9 352.3 L613.1 350.9 L613.3 351.9 L613.5 352.3 L613.7 350.0 L613.9 351.1 L614.1 352.0 L614.3 352.3 L614.5 352.1 L614.8 350.5 L615.0 352.3 L615.2 352.0 L615.4 350.5 L615.6 352.1 L615.8 351.4 L616.0 350.2 L616.2 352.1 L616.4 351.1 L616.6 351.8 L616.8 352.2 L617.0 351.8 L617.2 351.6 L617.4 352.2 L617.6 352.0 L617.8 352.4 L618.0 351.5 L618.2 352.3 L618.4 352.3 L618.6 351.5 L618.8 352.2 L619.0 349.4 L619.2 350.6 L619.4 351.9 L619.6 351.6 L619.8 352.5 L620.0 352.3 L620.2 352.4 L620.4 350.9 L620.6 351.7 L620.8 352.5 L621.0 349.6 L621.2 352.4 L621.4 352.3 L621.6 350.3 L621.8 351.8 L622.0 352.3 L622.2 352.2 L622.4 351.2 L622.6 348.1 L622.8 352.4 L623.1 349.8 L623.3 352.2 L623.5 352.4 L623.7 352.4 L623.9 352.5 L624.1 352.5 L624.3 352.5 L624.5 351.8 L624.7 348.4 L624.9 347.8 L625.1 352.5 L625.3 350.3 L625.5 351.8 L625.7 352.4 L625.9 351.5 L626.1 351.3 L626.3 351.1 L626.5 352.4 L626.7 349.6 L626.9 350.4 L627.1 352.1 L627.3 352.5 L627.5 352.2 L627.7 351.8 L627.9 351.7 L628.1 352.0 L628.3 351.8 L628.5 352.5 L628.7 352.6 L628.9 352.3 L629.1 351.1 L629.3 350.9 L629.5 351.9 L629.7 352.3 L629.9 350.8 L630.1 351.2 L630.3 351.7 L630.5 351.7 L630.7 350.3 L630.9 352.4 L631.1 350.7 L631.4 352.2 L631.6 352.6 L631.8 352.5 L632.0 352.4 L632.2 352.3 L632.4 350.0 L632.6 352.3 L632.8 352.5 L633.0 352.1 L633.2 352.5 L633.4 352.6 L633.6 352.6 L633.8 352.2 L634.0 352.6 L634.2 352.6 L634.4 352.2 L634.6 351.5 L634.8 351.5 L635.0 352.5 L635.2 352.2 L635.4 351.5 L635.6 352.5 L635.8 352.6 L636.0 352.4 L636.2 350.8 L636.4 351.2 L636.6 352.3 L636.8 352.5 L637.0 351.2 L637.2 352.4 L637.4 351.7 L637.6 351.7 L637.8 350.1 L638.0 352.2 L638.2 352.5 L638.4 352.5 L638.6 352.5 L638.8 351.9 L639.0 352.4 L639.2 351.5 L639.4 349.4 L639.7 352.7 L639.9 352.7 L640.1 352.4 L640.3 352.7 L640.5 352.1 L640.7 352.6 L640.9 352.7 L641.1 349.7 L641.3 352.0 L641.5 352.6 L641.7 352.5 L641.9 352.7 L642.1 352.3 L642.3 352.6 L642.5 352.4 L642.7 352.3 L642.9 352.6 L643.1 351.9 L643.3 352.6 L643.5 349.1 L643.7 352.4 L643.9 351.0 L644.1 352.0 L644.3 352.7 L644.5 350.4 L644.7 352.6 L644.9 352.1 L645.1 352.2 L645.3 351.1 L645.5 352.7 L645.7 352.4 L645.9 352.1 L646.1 351.1 L646.3 352.4 L646.5 352.5 L646.7 352.6 L646.9 352.7 L647.1 349.8 L647.3 352.7 L647.5 352.5 L647.8 351.9 L648.0 352.3 L648.2 351.1 L648.4 351.5 L648.6 352.7 L648.8 351.3 L649.0 352.7 L649.2 352.7 L649.4 351.9 L649.6 351.3 L649.8 352.7 L650.0 352.7 L650.2 352.2 L650.4 351.8 L650.6 352.2 L650.8 350.8 L651.0 352.6 L651.2 351.4 L651.4 352.7 L651.6 352.2 L651.8 352.3 L652.0 351.7 L652.2 352.2 L652.4 352.5 L652.6 352.7 L652.8 352.8 L653.0 351.3 L653.2 352.3 L653.4 352.4 L653.6 351.3 L653.8 352.7 L654.0 352.7 L654.2 352.5 L654.4 352.5 L654.6 352.4 L654.8 352.8 L655.0 352.7 L655.2 352.4 L655.4 352.5 L655.6 352.3 L655.8 352.5 L656.1 352.2 L656.3 352.2 L656.5 352.3 L656.7 352.6 L656.9 352.3 L657.1 352.7 L657.3 352.3 L657.5 352.7 L657.7 352.8 L657.9 352.1 L658.1 350.9 L658.3 352.3 L658.5 351.4 L658.7 352.7 L658.9 352.6 L659.1 350.9 L659.3 352.8 L659.5 352.7 L659.7 352.8 L659.9 352.6 L660.1 352.6 L660.3 352.3 L660.5 352.6 L660.7 352.7 L660.9 352.6 L661.1 352.8 L661.3 352.7 L661.5 352.7 L661.7 352.3 L661.9 352.8 L662.1 350.9 L662.3 352.8 L662.5 352.1 L662.7 352.7 L662.9 352.5 L663.1 352.8 L663.3 352.3 L663.5 352.5 L663.7 352.6 L663.9 352.6 L664.1 351.2 L664.4 352.7 L664.6 352.8 L664.8 352.6 L665.0 352.8 L665.2 350.7 L665.4 352.8 L665.6 352.5 L665.8 352.7 L666.0 352.7 L666.2 352.7 L666.4 352.6 L666.6 352.8 L666.8 352.8 L667.0 352.4 L667.2 352.8 L667.4 352.8 L667.6 352.9 L667.8 352.9 L668.0 351.7 L668.2 352.9 L668.4 352.9 L668.6 351.0 L668.8 351.6 L669.0 351.6 L669.2 352.9 L669.4 352.1 L669.6 352.8 L669.8 351.9 L670.0 352.7 L670.2 352.6 L670.4 352.9 L670.6 351.9 L670.8 350.8 L671.0 352.8 L671.2 352.8 L671.4 352.5 L671.6 352.7 L671.8 352.4 L672.0 352.9 L672.2 352.9 L672.4 352.6 L672.7 352.8 L672.9 352.8 L673.1 352.0 L673.3 352.9 L673.5 351.6 L673.7 352.9 L673.9 350.9 L674.1 352.8 L674.3 352.9 L674.5 352.9 L674.7 352.7 L674.9 352.7 L675.1 352.9 L675.3 352.8 L675.5 352.1 L675.7 352.8 L675.9 352.9 L676.1 352.1 L676.3 352.2 L676.5 352.9 L676.7 352.6" stroke="#cc1f1a" stroke-width="0.8" fill="none" stroke-linejoin="round"/>
<path d="M494.7 237.7 L494.9 284.8 L495.1 292.4 L495.3 293.6 L495.5 291.5 L495.7 293.3 L495.9 290.0 L496.1 293.6 L496.3 293.2 L496.5 293.1 L496.7 293.3 L496.9 293.4 L497.1 293.5 L497.3 292.9 L497.5 292.9 L497.7 293.2 L497.9 293.4 L498.1 290.0 L498.3 290.4 L498.5 293.5 L498.7 291.5 L499.0 293.3 L499.2 289.5 L499.4 290.9 L499.6 293.5 L499.8 291.1 L500.0 292.4 L500.2 291.7 L500.4 291.1 L500.6 293.4 L500.8 292.2 L501.0 293.6 L501.2 293.4 L501.4 292.7 L501.6 293.5 L501.8 292.2 L502.0 292.6 L502.2 293.5 L502.4 291.7 L502.6 293.0 L502.8 291.1 L503.0 293.2 L503.2 292.9 L503.4 292.9 L503.6 293.6 L503.8 293.3 L504.0 293.6 L504.2 293.0 L504.4 293.2 L504.6 291.3 L504.8 293.7 L505.0 293.1 L505.2 293.7 L505.4 292.3 L505.6 293.0 L505.8 292.6 L506.0 293.5 L506.2 290.6 L506.4 293.5 L506.6 293.5 L506.8 293.2 L507.0 293.1 L507.3 293.1 L507.5 293.1 L507.7 292.9 L507.9 292.0 L508.1 293.2 L508.3 286.4 L508.5 292.5 L508.7 292.2 L508.9 291.9 L509.1 293.5 L509.3 289.9 L509.5 293.6 L509.7 292.9 L509.9 293.0 L510.1 293.8 L510.3 293.7 L510.5 293.0 L510.7 293.8 L510.9 293.4 L511.1 289.6 L511.3 290.6 L511.5 292.2 L511.7 292.7 L511.9 293.4 L512.1 292.3 L512.3 293.7 L512.5 291.9 L512.7 293.6 L512.9 290.5 L513.1 293.8 L513.3 292.0 L513.5 293.7 L513.7 293.5 L513.9 291.3 L514.1 291.5 L514.3 293.5 L514.5 293.7 L514.7 293.6 L514.9 290.8 L515.1 293.0 L515.3 290.9 L515.6 293.6 L515.8 292.6 L516.0 292.5 L516.2 289.0 L516.4 292.1 L516.6 293.6 L516.8 292.9 L517.0 292.6 L517.2 293.5 L517.4 293.7 L517.6 293.7 L517.8 291.9 L518.0 292.4 L518.2 292.8 L518.4 291.9 L518.6 291.3 L518.8 293.5 L519.0 292.1 L519.2 293.3 L519.4 286.8 L519.6 293.6 L519.8 292.5 L520.0 293.2 L520.2 293.6 L520.4 292.9 L520.6 293.4 L520.8 293.4 L521.0 288.0 L521.2 286.3 L521.4 292.3 L521.6 293.6 L521.8 293.5 L522.0 292.6 L522.2 292.2 L522.4 293.5 L522.6 293.2 L522.8 291.0 L523.0 293.3 L523.2 288.8 L523.4 293.4 L523.6 292.5 L523.9 293.5 L524.1 291.8 L524.3 291.9 L524.5 293.5 L524.7 293.0 L524.9 293.3 L525.1 293.5 L525.3 292.9 L525.5 293.1 L525.7 293.1 L525.9 292.3 L526.1 293.5 L526.3 284.3 L526.5 292.4 L526.7 293.5 L526.9 286.3 L527.1 293.1 L527.3 286.5 L527.5 289.0 L527.7 290.4 L527.9 293.3 L528.1 292.0 L528.3 287.8 L528.5 291.6 L528.7 291.3 L528.9 293.3 L529.1 293.0 L529.3 293.1 L529.5 293.4 L529.7 293.3 L529.9 291.5 L530.1 293.2 L530.3 291.9 L530.5 292.1 L530.7 285.6 L530.9 291.6 L531.1 292.5 L531.3 289.7 L531.5 293.2 L531.7 290.9 L532.0 286.9 L532.2 290.8 L532.4 292.6 L532.6 292.0 L532.8 293.0 L533.0 292.9 L533.2 288.1 L533.4 292.9 L533.6 291.0 L533.8 292.7 L534.0 289.9 L534.2 290.9 L534.4 283.6 L534.6 285.2 L534.8 289.9 L535.0 291.7 L535.2 293.0 L535.4 291.7 L535.6 289.9 L535.8 292.9 L536.0 292.8 L536.2 292.1 L536.4 292.7 L536.6 291.5 L536.8 287.0 L537.0 283.4 L537.2 292.7 L537.4 290.5 L537.6 291.5 L537.8 292.5 L538.0 291.9 L538.2 290.4 L538.4 288.4 L538.6 282.8 L538.8 279.2 L539.0 282.8 L539.2 288.2 L539.4 290.5 L539.6 286.9 L539.8 289.4 L540.0 284.5 L540.3 282.4 L540.5 290.1 L540.7 290.0 L540.9 289.2 L541.1 292.3 L541.3 285.8 L541.5 290.3 L541.7 289.8 L541.9 291.6 L542.1 291.0 L542.3 292.3 L542.5 292.2 L542.7 292.2 L542.9 286.6 L543.1 292.1 L543.3 289.5 L543.5 291.6 L543.7 291.5 L543.9 289.7 L544.1 290.8 L544.3 291.6 L544.5 292.1 L544.7 290.3 L544.9 291.6 L545.1 291.7 L545.3 292.0 L545.5 292.0 L545.7 287.9 L545.9 277.8 L546.1 291.5 L546.3 280.9 L546.5 290.8 L546.7 291.6 L546.9 291.9 L547.1 288.7 L547.3 291.4 L547.5 271.6 L547.7 287.2 L547.9 284.4 L548.1 284.3 L548.3 291.7 L548.6 283.3 L548.8 278.1 L549.0 277.5 L549.2 291.3 L549.4 291.5 L549.6 291.4 L549.8 285.8 L550.0 290.4 L550.2 287.5 L550.4 290.0 L550.6 283.6 L550.8 291.4 L551.0 291.5 L551.2 291.1 L551.4 288.0 L551.6 290.3 L551.8 291.1 L552.0 284.8 L552.2 291.2 L552.4 291.2 L552.6 291.3 L552.8 279.0 L553.0 287.7 L553.2 290.3 L553.4 286.8 L553.6 286.5 L553.8 277.7 L554.0 260.2 L554.2 245.7 L554.4 241.7 L554.6 263.8 L554.8 277.1 L555.0 284.8 L555.2 270.4 L555.4 281.4 L555.6 274.9 L555.8 273.8 L556.0 274.5 L556.2 280.8 L556.4 276.7 L556.6 288.2 L556.9 287.1 L557.1 290.7 L557.3 289.1 L557.5 282.9 L557.7 280.5 L557.9 272.6 L558.1 279.8 L558.3 281.4 L558.5 278.8 L558.7 288.5 L558.9 286.5 L559.1 278.7 L559.3 289.5 L559.5 287.1 L559.7 285.2 L559.9 285.2 L560.1 288.9 L560.3 290.9 L560.5 267.3 L560.7 287.5 L560.9 290.2 L561.1 283.6 L561.3 270.7 L561.5 290.2 L561.7 290.2 L561.9 267.4 L562.1 288.5 L562.3 290.9 L562.5 287.8 L562.7 290.7 L562.9 289.4 L563.1 289.8 L563.3 290.8 L563.5 288.7 L563.7 286.1 L563.9 290.7 L564.1 290.7 L564.3 278.2 L564.5 289.7 L564.7 280.8 L564.9 290.1 L565.2 284.9 L565.4 287.0 L565.6 287.2 L565.8 290.2 L566.0 287.1 L566.2 290.6 L566.4 288.1 L566.6 290.2 L566.8 286.1 L567.0 290.5 L567.2 289.3 L567.4 289.3 L567.6 290.7 L567.8 279.3 L568.0 290.6 L568.2 290.8 L568.4 290.3 L568.6 285.3 L568.8 287.4 L569.0 288.8 L569.2 284.5 L569.4 281.9 L569.6 289.7 L569.8 286.0 L570.0 277.7 L570.2 273.2 L570.4 285.8 L570.6 277.5 L570.8 286.0 L571.0 290.6 L571.2 287.1 L571.4 289.8 L571.6 288.8 L571.8 290.7 L572.0 284.9 L572.2 272.1 L572.4 282.5 L572.6 291.0 L572.8 290.4 L573.0 286.0 L573.2 290.5 L573.5 283.0 L573.7 287.4 L573.9 291.6 L574.1 290.6 L574.3 287.0 L574.5 291.5 L574.7 286.5 L574.9 277.3 L575.1 290.9 L575.3 287.9 L575.5 290.2 L575.7 282.4 L575.9 290.8 L576.1 289.9 L576.3 290.4 L576.5 287.8 L576.7 290.3 L576.9 291.7 L577.1 290.6 L577.3 282.9 L577.5 292.0 L577.7 292.0 L577.9 291.5 L578.1 292.0 L578.3 287.6 L578.5 280.2 L578.7 291.2 L578.9 288.9 L579.1 291.0 L579.3 292.1 L579.5 290.5 L579.7 278.8 L579.9 291.4 L580.1 291.1 L580.3 292.2 L580.5 289.5 L580.7 290.7 L580.9 291.0 L581.1 292.5 L581.3 284.6 L581.5 288.0 L581.8 290.5 L582.0 292.6 L582.2 290.2 L582.4 292.1 L582.6 291.8 L582.8 290.2 L583.0 291.9 L583.2 292.3 L583.4 289.5 L583.6 292.1 L583.8 288.7 L584.0 292.4 L584.2 289.6 L584.4 292.1 L584.6 292.1 L584.8 291.0 L585.0 292.9 L585.2 292.7 L585.4 291.2 L585.6 292.0 L585.8 289.3 L586.0 293.0 L586.2 287.2 L586.4 288.6 L586.6 292.3 L586.8 292.9 L587.0 292.9 L587.2 292.3 L587.4 293.0 L587.6 293.0 L587.8 291.2 L588.0 292.5 L588.2 292.8 L588.4 293.2 L588.6 290.9 L588.8 293.3 L589.0 291.7 L589.2 292.2 L589.4 291.3 L589.6 274.7 L589.9 290.9 L590.1 290.6 L590.3 292.3 L590.5 293.4 L590.7 293.5 L590.9 293.4 L591.1 293.2 L591.3 292.9 L591.5 290.2 L591.7 283.1 L591.9 293.1 L592.1 292.9 L592.3 293.5 L592.5 293.7 L592.7 290.6 L592.9 293.7 L593.1 289.6 L593.3 293.9 L593.5 293.7 L593.7 292.2 L593.9 288.9 L594.1 293.6 L594.3 294.0 L594.5 293.7 L594.7 291.5 L594.9 293.3 L595.1 294.0 L595.3 294.0 L595.5 293.1 L595.7 290.6 L595.9 291.2 L596.1 293.9 L596.3 294.0 L596.5 293.9 L596.7 290.6 L596.9 285.9 L597.1 294.1 L597.3 293.8 L597.5 290.3 L597.7 286.2 L597.9 292.5 L598.2 293.0 L598.4 293.7 L598.6 291.9 L598.8 293.1 L599.0 291.1 L599.2 294.1 L599.4 293.8 L599.6 292.5 L599.8 291.0 L600.0 293.8 L600.2 294.0 L600.4 292.1 L600.6 294.1 L600.8 293.3 L601.0 294.2 L601.2 291.9 L601.4 294.0 L601.6 293.3 L601.8 293.8 L602.0 293.4 L602.2 291.5 L602.4 293.9 L602.6 293.7 L602.8 294.0 L603.0 294.2 L603.2 293.5 L603.4 292.6 L603.6 294.1 L603.8 293.3 L604.0 294.2 L604.2 294.2 L604.4 293.7 L604.6 293.5 L604.8 293.7 L605.0 294.1 L605.2 290.0 L605.4 294.0 L605.6 292.5 L605.8 294.2 L606.0 293.6 L606.2 291.3 L606.5 293.7 L606.7 293.9 L606.9 294.1 L607.1 292.6 L607.3 293.0 L607.5 293.6 L607.7 294.1 L607.9 294.3 L608.1 294.3 L608.3 292.5 L608.5 293.8 L608.7 294.0 L608.9 292.3 L609.1 294.0 L609.3 294.1 L609.5 294.3 L609.7 294.3 L609.9 294.3 L610.1 293.7 L610.3 294.2 L610.5 294.3 L610.7 294.1 L610.9 291.8 L611.1 294.2 L611.3 293.1 L611.5 294.3 L611.7 293.9 L611.9 294.3 L612.1 293.7 L612.3 294.3 L612.5 291.1 L612.7 291.7 L612.9 293.1 L613.1 293.8 L613.3 294.4 L613.5 293.0 L613.7 294.5 L613.9 294.2 L614.1 293.7 L614.3 294.4 L614.5 294.1 L614.8 294.2 L615.0 288.4 L615.2 293.7 L615.4 293.3 L615.6 294.1 L615.8 294.5 L616.0 293.9 L616.2 294.5 L616.4 294.5 L616.6 293.9 L616.8 294.0 L617.0 294.4 L617.2 294.1 L617.4 294.4 L617.6 294.3 L617.8 293.6 L618.0 293.8 L618.2 294.1 L618.4 293.3 L618.6 294.6 L618.8 291.7 L619.0 294.6 L619.2 294.4 L619.4 294.4 L619.6 294.5 L619.8 291.1 L620.0 292.9 L620.2 293.8 L620.4 294.2 L620.6 294.3 L620.8 294.6 L621.0 294.5 L621.2 294.7 L621.4 294.6 L621.6 294.0 L621.8 292.6 L622.0 293.7 L622.2 294.5 L622.4 293.7 L622.6 294.7 L622.8 294.2 L623.1 294.7 L623.3 291.9 L623.5 294.3 L623.7 294.6 L623.9 294.3 L624.1 294.6 L624.3 292.1 L624.5 294.6 L624.7 293.7 L624.9 293.6 L625.1 294.7 L625.3 293.1 L625.5 293.5 L625.7 294.7 L625.9 294.2 L626.1 293.6 L626.3 294.6 L626.5 294.7 L626.7 294.3 L626.9 294.5 L627.1 294.7 L627.3 294.5 L627.5 294.6 L627.7 292.0 L627.9 293.8 L628.1 294.7 L628.3 294.2 L628.5 294.4 L628.7 293.6 L628.9 294.3 L629.1 292.8 L629.3 293.8 L629.5 293.7 L629.7 293.1 L629.9 294.7 L630.1 291.9 L630.3 294.5 L630.5 294.7 L630.7 294.7 L630.9 293.6 L631.1 294.4 L631.4 294.7 L631.6 294.1 L631.8 294.8 L632.0 294.3 L632.2 294.5 L632.4 293.2 L632.6 294.1 L632.8 294.7 L633.0 294.4 L633.2 293.2 L633.4 294.8 L633.6 292.7 L633.8 294.3 L634.0 294.6 L634.2 294.6 L634.4 294.4 L634.6 294.8 L634.8 294.8 L635.0 294.8 L635.2 293.4 L635.4 293.6 L635.6 293.2 L635.8 294.8 L636.0 293.6 L636.2 294.7 L636.4 294.8 L636.6 294.4 L636.8 293.6 L637.0 294.8 L637.2 294.6 L637.4 294.7 L637.6 293.2 L637.8 293.7 L638.0 294.7 L638.2 294.5 L638.4 294.6 L638.6 293.8 L638.8 294.5 L639.0 294.6 L639.2 294.8 L639.4 294.6 L639.7 294.8 L639.9 294.7 L640.1 294.8 L640.3 293.5 L640.5 294.8 L640.7 294.5 L640.9 292.9 L641.1 294.6 L641.3 294.3 L641.5 294.6 L641.7 294.8 L641.9 294.8 L642.1 293.8 L642.3 294.7 L642.5 293.3 L642.7 294.8 L642.9 294.7 L643.1 294.6 L643.3 294.3 L643.5 293.7 L643.7 294.8 L643.9 294.6 L644.1 294.4 L644.3 294.6 L644.5 293.2 L644.7 294.8 L644.9 294.4 L645.1 294.1 L645.3 294.0 L645.5 294.1 L645.7 294.4 L645.9 293.7 L646.1 294.9 L646.3 292.1 L646.5 293.8 L646.7 294.5 L646.9 294.6 L647.1 294.4 L647.3 294.8 L647.5 294.7 L647.8 294.2 L648.0 294.8 L648.2 294.6 L648.4 294.8 L648.6 294.7 L648.8 294.8 L649.0 294.1 L649.2 294.9 L649.4 292.9 L649.6 294.5 L649.8 294.1 L650.0 293.0 L650.2 294.7 L650.4 292.0 L650.6 293.7 L650.8 294.6 L651.0 294.9 L651.2 294.5 L651.4 294.6 L651.6 294.1 L651.8 294.0 L652.0 294.2 L652.2 292.3 L652.4 294.6 L652.6 294.8 L652.8 294.2 L653.0 293.2 L653.2 293.8 L653.4 293.5 L653.6 294.4 L653.8 294.7 L654.0 294.1 L654.2 294.9 L654.4 294.5 L654.6 294.9 L654.8 293.6 L655.0 294.8 L655.2 292.7 L655.4 294.7 L655.6 294.9 L655.8 294.7 L656.1 293.4 L656.3 294.8 L656.5 294.6 L656.7 294.9 L656.9 294.9 L657.1 295.0 L657.3 293.2 L657.5 293.7 L657.7 294.8 L657.9 295.0 L658.1 294.9 L658.3 294.8 L658.5 294.0 L658.7 294.7 L658.9 294.3 L659.1 294.2 L659.3 292.5 L659.5 294.9 L659.7 294.6 L659.9 294.1 L660.1 295.0 L660.3 294.6 L660.5 294.5 L660.7 294.8 L660.9 295.0 L661.1 294.7 L661.3 293.6 L661.5 294.3 L661.7 292.7 L661.9 294.7 L662.1 294.6 L662.3 294.8 L662.5 294.8 L662.7 294.7 L662.9 295.0 L663.1 294.4 L663.3 294.8 L663.5 293.8 L663.7 294.9 L663.9 294.4 L664.1 294.9 L664.4 295.0 L664.6 294.2 L664.8 294.3 L665.0 294.8 L665.2 295.0 L665.4 294.9 L665.6 294.8 L665.8 294.4 L666.0 295.0 L666.2 294.9 L666.4 294.3 L666.6 295.0 L666.8 294.9 L667.0 294.6 L667.2 294.6 L667.4 294.6 L667.6 295.0 L667.8 295.0 L668.0 294.9 L668.2 294.7 L668.4 294.8 L668.6 295.0 L668.8 295.0 L669.0 294.7 L669.2 294.5 L669.4 294.7 L669.6 295.1 L669.8 294.1 L670.0 295.0 L670.2 294.9 L670.4 295.1 L670.6 295.0 L670.8 295.0 L671.0 294.3 L671.2 293.4 L671.4 294.1 L671.6 294.9 L671.8 295.0 L672.0 295.0 L672.2 294.6 L672.4 295.1 L672.7 295.1 L672.9 292.5 L673.1 294.4 L673.3 295.1 L673.5 294.2 L673.7 295.1 L673.9 295.0 L674.1 294.9 L674.3 293.5 L674.5 295.1 L674.7 293.7 L674.9 295.1 L675.1 294.0 L675.3 294.8 L675.5 294.6 L675.7 295.0 L675.9 294.2 L676.1 295.1 L676.3 294.5 L676.5 294.7 L676.7 294.9" stroke="#3a9a2c" stroke-width="0.8" fill="none" stroke-linejoin="round"/>
<path d="M494.7 422.8 v-4 M494.7 237.7 v4 M585.7 422.8 v-4 M585.7 237.7 v4 M676.7 422.8 v-4 M676.7 237.7 v4 M540.2 422.8 v-2.5 M540.2 237.7 v2.5 M631.2 422.8 v-2.5 M631.2 237.7 v2.5 M494.7 411.2 h4 M676.7 411.2 h-4 M494.7 353.4 h4 M676.7 353.4 h-4 M494.7 295.5 h4 M676.7 295.5 h-4 M494.7 237.7 h4 M676.7 237.7 h-4 M494.7 382.3 h2.5 M676.7 382.3 h-2.5 M494.7 324.5 h2.5 M676.7 324.5 h-2.5 M494.7 266.6 h2.5 M676.7 266.6 h-2.5" stroke="#333" stroke-width="1"/>
<rect x="494.7" y="237.7" width="182.0" height="185.1" fill="none" stroke="#333" stroke-width="1.2"/>
<text x="494.7" y="437.0" font-size="11.6" text-anchor="middle" fill="#222" font-weight="normal" font-style="normal" >0</text>
<text x="585.7" y="437.0" font-size="11.6" text-anchor="middle" fill="#222" font-weight="normal" font-style="normal" >10</text>
<text x="676.7" y="437.0" font-size="11.6" text-anchor="middle" fill="#222" font-weight="normal" font-style="normal" >20</text>
<text x="490.2" y="415.2" font-size="11.6" text-anchor="end" fill="#222" font-weight="normal" font-style="normal" >0</text>
<text x="490.2" y="357.4" font-size="11.6" text-anchor="end" fill="#222" font-weight="normal" font-style="normal" >10</text>
<text x="490.2" y="299.5" font-size="11.6" text-anchor="end" fill="#222" font-weight="normal" font-style="normal" >20</text>
<text x="490.2" y="241.7" font-size="11.6" text-anchor="end" fill="#222" font-weight="normal" font-style="normal" >30</text>
<text x="605.5" y="287.0" font-size="11.5" text-anchor="start" fill="#3a9a2c" font-weight="normal" font-style="normal" >S3</text>
<text x="605.5" y="346.0" font-size="11.5" text-anchor="start" fill="#cc1f1a" font-weight="normal" font-style="normal" >S2</text>
<text x="605.5" y="404.0" font-size="11.5" text-anchor="start" fill="#3a86c8" font-weight="normal" font-style="normal" >S1</text>
<text x="455.0" y="239.5" font-size="14" text-anchor="start" fill="#111" font-weight="bold" font-style="normal" >f</text>
<text x="470.5" y="322.4" font-size="14.3" fill="#222" text-anchor="middle" transform="rotate(-90 470.5 322.4)" textLength="63" lengthAdjust="spacing">FFT of <tspan font-style="italic">x</tspan><tspan font-size="9" dy="4">c</tspan></text>
<text x="586.0" y="451.0" font-size="14.3" text-anchor="middle" fill="#222" font-weight="normal" font-style="normal" >Frequency (GHz)</text>
</svg></body></html>
